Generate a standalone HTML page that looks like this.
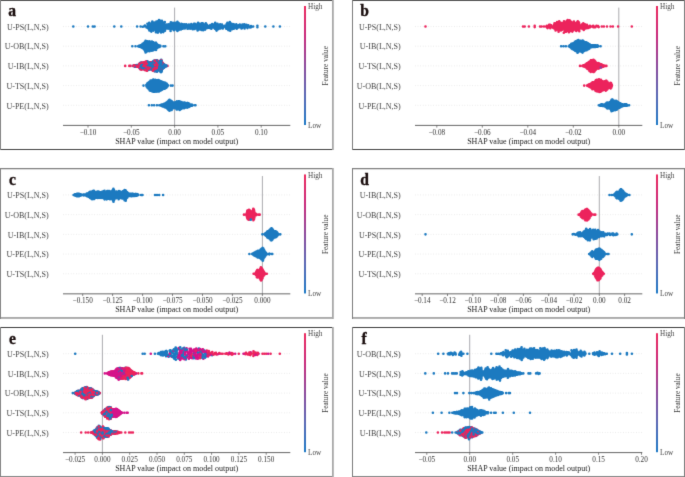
<!DOCTYPE html><html><head><meta charset="utf-8"><style>
html,body{margin:0;padding:0;background:#fff;}
svg{display:block;will-change:transform;}
text{font-family:"Liberation Serif",serif;}
.lt{font-weight:bold;font-size:16.6px;fill:#1a0e0e;stroke:#1a0e0e;stroke-width:0.35px;}
.rl{font-size:8px;fill:#444;text-anchor:end;}
.tk{font-size:7.2px;fill:#333;text-anchor:middle;}
.xl{font-size:8px;fill:#222;text-anchor:middle;}
.cl{font-size:7.2px;fill:#444;}
.fv{font-size:7.3px;fill:#333;text-anchor:middle;}
</style></head><body>
<svg width="685" height="477" viewBox="0 0 685 477">
<defs><linearGradient id="cb" x1="0" y1="0" x2="0" y2="1"><stop offset="0" stop-color="#ec2a5e"/><stop offset="0.25" stop-color="#c92a7c"/><stop offset="0.5" stop-color="#8c4a9c"/><stop offset="0.75" stop-color="#5a68b4"/><stop offset="1" stop-color="#1e7ac6"/></linearGradient><filter id="soft" filterUnits="userSpaceOnUse" x="0" y="0" width="685" height="477" color-interpolation-filters="sRGB"><feConvolveMatrix order="3" kernelMatrix="0.01 0.08 0.01 0.08 0.64 0.08 0.01 0.08 0.01" edgeMode="duplicate"/></filter></defs><g filter="url(#soft)">
<rect width="685" height="477" fill="#fff"/>
<g transform="translate(0,0)">
<g transform="translate(0,0)">
<text x="0" y="0" class="lt" transform="translate(8.3,16.4) scale(0.94,1)">a</text>
<line x1="63.0" x2="290.3" y1="26.5" y2="26.5" stroke="#d8d8d8" stroke-width="0.6" stroke-dasharray="0.8 1.8"/>
<line x1="63.0" x2="290.3" y1="46.2" y2="46.2" stroke="#d8d8d8" stroke-width="0.6" stroke-dasharray="0.8 1.8"/>
<line x1="63.0" x2="290.3" y1="65.9" y2="65.9" stroke="#d8d8d8" stroke-width="0.6" stroke-dasharray="0.8 1.8"/>
<line x1="63.0" x2="290.3" y1="85.6" y2="85.6" stroke="#d8d8d8" stroke-width="0.6" stroke-dasharray="0.8 1.8"/>
<line x1="63.0" x2="290.3" y1="105.3" y2="105.3" stroke="#d8d8d8" stroke-width="0.6" stroke-dasharray="0.8 1.8"/>
<line x1="174.6" x2="174.6" y1="7.6" y2="125.4" stroke="#a2a2a6" stroke-width="0.9"/>
<g stroke-width="2.6" stroke-linecap="round" fill="none"><path stroke="#1c7ac0" d="M147.9 24.8V28.1M149.9 23.7V29.5M152.0 22.5V30.6M154.1 23.5V29.6M156.1 22.6V31.3M158.2 21.0V31.6M160.3 21.6V31.4M162.3 21.8V31.1M164.4 23.0V29.7M166.5 25.6V27.5M168.5 25.4V27.6M170.6 23.2V30.0M172.7 23.9V28.5M174.7 23.9V29.3M176.8 22.7V29.9M178.9 24.0V29.0M180.9 24.8V28.5M183.0 25.4V27.7M185.1 25.3V27.5M187.1 25.3V27.7M189.2 25.5V27.5M191.3 25.0V27.6M193.3 24.8V28.2M195.4 24.7V28.0M197.4 23.9V29.4M199.5 24.6V28.4M201.6 24.4V28.9M203.6 24.3V29.3M205.7 24.3V28.6M207.8 25.9V26.9M209.8 26.0V26.9M211.9 25.0V27.8M214.0 25.3V27.7M216.0 23.8V29.6M218.1 24.7V28.3M220.2 25.4V27.5M222.2 25.6V27.4M226.4 25.0V27.7M228.4 23.7V29.1M230.5 23.1V29.7M232.6 25.1V28.1M234.6 25.2V27.8M236.7 25.4V27.8M240.8 25.5V27.4M242.9 25.6V27.2M245.0 25.4V27.5M247.0 25.7V27.1M144.5 26.1h0M142.8 26.8h0M143.7 26.5h0M144.9 25.5h0M146.6 27.5h0M145.8 26.5h0M147.4 23.8h0M148.8 29.1h0M149.2 22.7h0M149.4 30.5h0M152.3 21.5h0M151.3 31.6h0M154.4 22.5h0M153.4 30.6h0M156.4 21.6h0M155.9 32.3h0M159.0 20.0h0M157.9 32.6h0M159.9 20.6h0M161.0 32.4h0M161.9 20.8h0M163.3 32.1h0M164.8 22.0h0M165.0 30.7h0M166.7 24.6h0M166.5 28.5h0M168.5 24.4h0M168.4 28.6h0M170.9 22.2h0M170.6 31.0h0M173.0 22.9h0M173.3 29.5h0M175.1 22.9h0M173.9 30.3h0M177.4 21.7h0M177.4 30.9h0M178.7 23.0h0M178.7 30.0h0M181.3 23.8h0M180.9 29.5h0M182.7 24.4h0M182.6 28.7h0M184.3 24.3h0M184.8 28.5h0M186.3 24.3h0M187.5 28.7h0M188.9 24.5h0M188.8 28.5h0M191.3 24.0h0M190.7 28.6h0M194.0 23.8h0M192.8 29.2h0M194.9 23.7h0M194.7 29.0h0M198.1 22.9h0M197.6 30.4h0M199.1 23.6h0M199.1 29.4h0M201.6 23.4h0M201.4 29.9h0M202.7 23.3h0M203.2 30.3h0M205.8 23.3h0M205.1 29.6h0M207.1 24.9h0M207.7 27.9h0M210.3 25.0h0M209.8 27.9h0M212.2 24.0h0M211.3 28.8h0M214.1 24.3h0M214.9 28.7h0M215.2 22.8h0M216.6 30.6h0M217.5 23.7h0M218.2 29.3h0M220.2 24.4h0M220.4 28.5h0M222.0 24.6h0M222.8 28.4h0M224.6 25.9h0M225.3 27.2h0M224.3 26.5h0M226.7 24.0h0M226.3 28.7h0M227.4 22.7h0M228.3 30.1h0M229.8 22.1h0M230.2 30.7h0M232.8 24.1h0M232.4 29.1h0M233.8 24.2h0M233.8 28.8h0M236.3 24.4h0M236.7 28.8h0M238.5 25.3h0M238.6 27.5h0M238.8 26.5h0M239.8 24.5h0M241.5 28.4h0M242.4 24.6h0M241.9 28.2h0M244.3 24.4h0M244.6 28.5h0M246.4 24.7h0M247.5 28.1h0M248.3 25.3h0M250.1 27.5h0M249.1 26.5h0M251.0 26.0h0M251.3 27.1h0M251.2 26.5h0M253.2 26.5h0M73.3 26.5h0M88.0 26.5h0M92.8 26.5h0M94.6 26.5h0M114.3 26.5h0M121.3 26.5h0M137.1 26.5h0M140.6 26.5h0M257.4 25.7h0M257.4 27.3h0M265.3 26.5h0M273.4 26.5h0M279.9 26.5h0"/><path stroke="#1c7ac0" d="M141.8 45.7V46.7M142.1 45.5V46.8M142.4 45.2V46.9M142.8 44.9V47.3M143.1 44.8V47.5M143.4 44.8V47.6M143.8 44.4V47.9M144.1 44.0V48.5M144.4 43.7V48.9M144.8 43.1V49.0M145.1 42.8V50.1M145.4 42.4V50.4M145.8 41.8V51.4M146.1 42.4V49.9M146.4 42.0V50.6M146.8 42.4V50.6M147.1 42.7V49.5M147.4 42.9V49.8M147.8 42.8V50.1M148.1 43.0V49.4M148.4 42.8V49.1M148.7 42.8V49.4M149.1 42.8V50.0M149.4 42.8V50.2M149.7 42.8V49.5M150.1 43.0V48.9M150.4 42.9V48.7M150.7 43.1V49.4M151.1 42.8V49.5M151.4 43.0V49.6M151.7 42.5V49.8M152.1 43.0V49.0M152.4 43.0V49.4M152.7 43.1V49.2M153.1 43.4V49.3M153.4 43.9V49.1M153.7 44.3V48.3M154.1 44.6V47.7M154.4 44.3V48.1M154.7 44.2V48.2M155.1 44.3V48.0M155.4 43.8V48.4M155.7 44.0V48.1M156.1 43.9V48.9M156.4 44.7V47.7M156.7 45.0V47.5M157.0 45.3V46.9M157.4 45.7V46.6M157.7 45.9V46.3M135.5 46.2h0M138.1 46.2h0M138.9 45.9h0M138.7 46.5h0M138.8 46.2h0M139.2 45.7h0M139.1 46.7h0M139.1 46.2h0M139.5 45.6h0M139.3 46.8h0M139.5 46.2h0M139.7 45.6h0M139.6 46.8h0M139.8 46.2h0M140.0 45.5h0M140.3 46.8h0M140.1 46.2h0M140.4 45.4h0M140.5 47.0h0M140.4 46.2h0M140.6 45.4h0M140.7 47.0h0M140.8 46.2h0M141.2 45.2h0M141.0 47.2h0M141.1 46.2h0M141.5 45.0h0M141.5 47.4h0M141.4 46.2h0M141.8 44.7h0M141.9 47.7h0M142.0 44.5h0M142.2 47.8h0M142.4 44.2h0M142.4 47.9h0M142.7 43.9h0M142.8 48.3h0M143.1 43.8h0M143.1 48.5h0M143.3 43.8h0M143.3 48.6h0M143.8 43.4h0M143.9 48.9h0M144.2 43.0h0M144.2 49.5h0M144.3 42.7h0M144.5 49.9h0M144.9 42.1h0M144.7 50.0h0M145.2 41.8h0M145.1 51.1h0M145.5 41.4h0M145.6 51.4h0M145.6 40.8h0M145.6 52.4h0M146.1 41.4h0M146.0 50.9h0M146.5 41.0h0M146.3 51.6h0M146.6 41.4h0M146.6 51.6h0M147.1 41.7h0M147.0 50.5h0M147.3 41.9h0M147.3 50.8h0M147.7 41.8h0M147.6 51.1h0M148.1 42.0h0M148.0 50.4h0M148.3 41.8h0M148.5 50.1h0M148.6 41.8h0M148.7 50.4h0M149.2 41.8h0M148.9 51.0h0M149.5 41.8h0M149.5 51.2h0M149.6 41.8h0M149.7 50.5h0M150.2 42.0h0M150.0 49.9h0M150.3 41.9h0M150.5 49.7h0M150.7 42.1h0M150.8 50.4h0M151.2 41.8h0M151.0 50.5h0M151.5 42.0h0M151.5 50.6h0M151.9 41.5h0M151.8 50.8h0M152.1 42.0h0M152.0 50.0h0M152.4 42.0h0M152.6 50.4h0M152.9 42.1h0M152.8 50.2h0M153.2 42.4h0M153.0 50.3h0M153.5 42.9h0M153.6 50.1h0M153.7 43.3h0M153.8 49.3h0M154.2 43.6h0M154.0 48.7h0M154.5 43.3h0M154.5 49.1h0M154.7 43.2h0M154.8 49.2h0M155.2 43.3h0M155.0 49.0h0M155.5 42.8h0M155.3 49.4h0M155.7 43.0h0M155.6 49.1h0M156.1 42.9h0M156.0 49.9h0M156.3 43.7h0M156.4 48.7h0M156.7 44.0h0M156.8 48.5h0M157.0 44.3h0M157.1 47.9h0M157.5 44.7h0M157.3 47.6h0M157.6 44.9h0M157.6 47.3h0M158.0 45.0h0M158.0 47.4h0M158.0 46.2h0M158.3 45.2h0M158.3 47.2h0M158.4 46.2h0M158.6 45.4h0M158.7 47.0h0M158.7 46.2h0M159.0 45.5h0M159.1 46.9h0M159.0 46.2h0M159.5 45.5h0M159.4 46.8h0M159.4 46.2h0M159.8 45.6h0M159.6 46.9h0M159.7 46.2h0M160.1 45.8h0M159.9 46.7h0M160.0 46.2h0M160.4 45.9h0M160.2 46.5h0M160.4 46.2h0M163.4 46.2h0M165.3 46.2h0M132.3 46.2h0"/><path stroke="#1c7ac0" d="M165.0 66.8h0M161.7 69.8h0M148.8 63.2h0M135.7 66.5h0M161.3 68.0h0M165.3 65.9h0M156.1 63.1h0M153.0 61.7h0M145.0 64.0h0M159.9 66.9h0M150.4 62.6h0M145.6 67.0h0M160.4 63.9h0M164.2 65.9h0M161.2 69.1h0M152.5 63.8h0M154.2 67.0h0M161.5 71.8h0M152.0 69.5h0M160.0 62.8h0M152.5 67.8h0M152.3 66.8h0M159.0 67.8h0M164.8 65.9h0M160.5 62.8h0M147.0 67.8h0M155.6 66.9h0M158.3 69.9h0M161.7 64.9h0M161.2 59.9h0"/><path stroke="#ec235c" d="M134.7 66.6h0M136.0 66.5h0M154.1 63.9h0M157.1 66.8h0M160.6 67.9h0M147.1 64.1h0M142.2 63.2h0M157.6 64.9h0M167.5 65.9h0M156.5 63.8h0M145.9 65.9h0M155.7 62.7h0M144.4 68.6h0M144.4 65.9h0M152.5 65.9h0M142.4 63.9h0M148.1 63.9h0M141.7 63.9h0M152.0 68.1h0M146.0 66.9h0M152.2 65.0h0M143.9 63.6h0M137.9 65.2h0M138.1 65.1h0M153.1 65.9h0M144.9 65.9h0"/><path stroke="#ec235c" d="M136.6 65.3h0M150.5 69.2h0M152.8 68.8h0M148.8 65.0h0M149.2 69.0h0M143.0 68.2h0M144.5 65.0h0M156.7 62.6h0M143.0 64.8h0M156.9 64.8h0M146.3 68.2h0M160.0 65.9h0M150.3 66.9h0M153.9 61.8h0M134.8 65.9h0M151.2 65.9h0M143.8 62.5h0M145.2 67.8h0M153.5 67.9h0M152.0 65.9h0M144.4 67.7h0M146.9 62.7h0M143.6 68.8h0M139.4 66.7h0M142.8 69.3h0M130.6 65.9h0M158.0 69.6h0"/><path stroke="#1c7ac0" d="M158.1 68.6h0M139.9 67.6h0M156.7 63.7h0M158.0 61.6h0M147.4 62.7h0M151.2 62.7h0M158.1 64.8h0M160.0 70.0h0M133.1 65.9h0M142.7 63.7h0M161.7 70.8h0M159.2 63.6h0M156.3 67.0h0M157.8 70.5h0M164.6 65.9h0M157.8 67.8h0M157.1 63.9h0M161.1 64.9h0M146.0 67.9h0M152.8 66.9h0M150.3 63.7h0M157.1 61.9h0M160.7 61.8h0M155.1 69.3h0M161.8 70.2h0M135.8 65.2h0M156.6 71.4h0M148.4 65.9h0M158.2 66.8h0"/><path stroke="#ec235c" d="M146.8 68.1h0M134.5 65.9h0M152.6 64.9h0M143.9 64.8h0M140.5 64.8h0M151.8 62.6h0M136.6 65.9h0M158.3 67.7h0M151.9 67.0h0M145.6 64.9h0M158.1 65.9h0M137.3 66.6h0M156.0 68.8h0M155.7 65.9h0M160.3 70.3h0M137.5 65.2h0M141.3 69.6h0M143.5 63.9h0M153.0 66.8h0M150.8 67.0h0M155.4 68.0h0M146.5 65.9h0M154.3 64.8h0M154.5 64.9h0"/><path stroke="#1c7ac0" d="M135.9 65.9h0M146.8 64.8h0M147.6 69.8h0M158.9 66.9h0M136.6 66.6h0M161.2 62.9h0M160.6 66.9h0M157.7 62.8h0M140.9 63.9h0M148.5 67.0h0M149.5 64.8h0M147.3 66.9h0M157.6 61.8h0M160.3 67.0h0M160.9 69.9h0M161.6 64.9h0M162.3 64.8h0M148.6 64.8h0M140.7 66.9h0M141.9 65.0h0M140.7 68.9h0M159.3 65.9h0M156.9 69.0h0M157.5 68.7h0M156.3 68.1h0M155.4 70.0h0M156.5 61.7h0M163.4 65.9h0M161.5 65.9h0M155.8 64.0h0M148.6 65.9h0M142.1 67.1h0"/><path stroke="#ec235c" d="M146.4 65.9h0M138.3 65.9h0M142.2 65.9h0M145.4 68.1h0M154.9 71.1h0M144.1 62.5h0M145.3 62.0h0M151.6 64.8h0M161.4 62.1h0M154.5 62.7h0M147.2 69.8h0M141.7 66.8h0M164.9 65.1h0M151.3 67.0h0M143.0 65.9h0M147.1 65.0h0M151.5 64.8h0M145.1 64.9h0M147.0 65.9h0M135.0 65.2h0M147.8 69.1h0M140.2 67.0h0M160.5 61.9h0M147.1 68.8h0M141.8 68.7h0"/><path stroke="#1c7ac0" d="M154.7 65.9h0M156.1 62.1h0M149.4 65.9h0M148.9 67.8h0M155.3 70.4h0M160.6 68.9h0M161.9 61.8h0M140.5 67.9h0M161.3 60.9h0M146.0 69.8h0M153.7 62.9h0M165.9 66.4h0M162.0 68.0h0M156.7 65.9h0M163.1 63.9h0M154.4 60.6h0M158.5 68.9h0M158.9 69.8h0M149.1 63.7h0M165.2 65.2h0M159.7 63.8h0M145.2 69.2h0M154.6 66.9h0M148.1 65.9h0M158.1 62.7h0M155.9 66.9h0M165.1 66.6h0M156.0 70.7h0M141.0 67.8h0M154.4 63.8h0M153.0 63.8h0"/><path stroke="#ec235c" d="M147.8 67.0h0M146.0 68.8h0M143.4 68.0h0M145.1 63.0h0M153.0 68.7h0M151.9 63.7h0M161.3 60.2h0M137.2 65.9h0M139.0 65.9h0M161.6 64.0h0M125.2 65.9h0M134.0 65.9h0M158.5 65.9h0M139.8 68.4h0M152.0 62.2h0M147.1 63.2h0M153.3 69.9h0M141.5 65.9h0M147.3 62.3h0M153.8 68.7h0M142.2 64.9h0M141.2 63.7h0M148.2 68.2h0M151.1 68.1h0M162.0 62.8h0M149.0 66.8h0M146.4 64.0h0"/><path stroke="#1c7ac0" d="M162.5 68.9h0M156.3 60.6h0M153.2 67.8h0M138.7 64.7h0M160.3 64.9h0M149.9 62.3h0M143.9 64.8h0M157.2 69.7h0M156.2 70.3h0M157.4 60.9h0M155.2 65.9h0M145.9 63.9h0M159.7 61.7h0M145.5 62.9h0M149.1 66.9h0M160.8 71.9h0M143.7 66.9h0M135.1 66.6h0M162.6 67.9h0M155.9 65.9h0M156.2 61.2h0M160.9 72.3h0M159.3 63.0h0M153.6 68.9h0M161.2 65.9h0M154.8 62.8h0M157.4 65.9h0M157.2 70.6h0M161.4 67.9h0"/><path stroke="#1c7ac0" d="M153.1 64.9h0M158.7 62.2h0M160.2 65.9h0M159.0 68.8h0M155.5 60.6h0M158.6 64.0h0M149.5 65.9h0M162.7 67.1h0M137.6 65.9h0M150.3 67.0h0M147.2 66.9h0M162.6 64.7h0M164.1 67.7h0M158.6 66.9h0M147.9 70.1h0M161.8 65.9h0M146.2 63.0h0M147.0 61.4h0M151.3 68.1h0M162.4 63.7h0M157.0 60.4h0M156.2 65.9h0M144.6 66.8h0M149.8 63.8h0M157.9 69.6h0M161.2 63.9h0"/><path stroke="#ec235c" d="M155.0 67.0h0M147.9 68.0h0M149.1 64.8h0M145.2 68.7h0M141.6 67.8h0M140.0 66.7h0M163.7 64.0h0M156.7 71.1h0M155.0 61.8h0M145.1 62.0h0M153.9 64.9h0M144.1 63.6h0M164.3 67.0h0M161.1 67.0h0M154.9 69.0h0M163.5 65.0h0M139.6 64.1h0M140.3 68.1h0M139.0 67.0h0M150.0 68.0h0M153.8 65.9h0M142.3 62.9h0M148.5 63.6h0M149.5 69.1h0M149.6 62.7h0M143.4 69.0h0M153.3 64.9h0M152.0 68.6h0M139.8 65.0h0M143.1 62.9h0"/><path stroke="#1c7ac0" d="M163.3 67.0h0M160.9 63.8h0M159.3 64.9h0M140.9 65.9h0M153.5 62.0h0M140.1 63.8h0M156.1 65.0h0M159.7 64.9h0M163.5 67.7h0M159.8 68.0h0M155.9 69.8h0M161.8 69.1h0M150.9 65.9h0M154.5 71.2h0M147.3 61.7h0M153.4 64.0h0M155.1 63.8h0M158.5 65.0h0M161.2 70.2h0M156.9 70.1h0M162.1 67.0h0M140.1 65.9h0M163.0 65.9h0M153.9 69.6h0M160.8 64.9h0M159.1 62.4h0M151.4 63.7h0M158.5 63.1h0M163.3 64.9h0M164.6 64.8h0M149.3 68.0h0M156.7 66.9h0M159.5 70.2h0M152.7 61.7h0"/><path stroke="#ec235c" d="M146.8 70.3h0M161.4 68.9h0M154.3 68.0h0M148.6 69.3h0M144.7 62.3h0M155.2 60.7h0M153.5 66.9h0M144.1 69.2h0M142.6 65.9h0M142.3 66.9h0M143.6 65.9h0M152.2 64.0h0M145.3 70.3h0M139.5 65.9h0M139.7 63.3h0M140.9 62.9h0M142.7 67.0h0M154.5 69.1h0M162.4 65.9h0M148.9 62.3h0M151.1 62.4h0M160.8 60.7h0"/><path stroke="#1c7ac0" d="M152.3 63.1h0M153.8 66.8h0M160.7 70.9h0M136.2 65.2h0M141.2 68.7h0M152.3 67.7h0M163.2 65.9h0M155.9 67.8h0M160.3 68.1h0M159.5 68.0h0M141.5 64.9h0M161.7 61.1h0M141.1 64.8h0M162.0 63.8h0M143.2 66.9h0M154.1 70.1h0M150.0 69.0h0M144.1 67.0h0M160.4 71.4h0M141.4 62.6h0M144.7 69.5h0M157.8 66.8h0M159.4 62.1h0M157.9 63.9h0M143.7 67.9h0M146.3 69.3h0M140.5 62.7h0M154.6 61.8h0M144.9 66.8h0M162.2 66.9h0M162.9 68.3h0"/><path stroke="#ec235c" d="M147.6 67.8h0M140.1 64.1h0M150.9 64.7h0M160.0 69.0h0M140.2 65.9h0M147.5 64.8h0M153.2 62.8h0M154.4 61.7h0M143.4 64.9h0M150.3 64.8h0M139.1 64.7h0M138.7 65.9h0M137.6 66.7h0M150.4 65.9h0M162.2 62.6h0M154.2 65.9h0M157.6 60.8h0M152.8 70.7h0M153.6 63.0h0M144.5 64.1h0M144.7 63.2h0M140.7 64.9h0M152.5 69.7h0M137.0 66.7h0M135.6 65.9h0"/><path stroke="#ec235c" d="M139.5 65.0h0M141.4 66.8h0M157.5 67.8h0M159.4 67.0h0M162.9 63.4h0M149.0 64.1h0M149.7 67.0h0M142.3 69.0h0M157.6 65.9h0M147.7 65.9h0M143.4 65.9h0M145.3 64.9h0M140.3 69.2h0M146.6 61.6h0M129.3 65.9h0M155.6 64.8h0M133.4 65.9h0M150.4 68.1h0M138.4 66.7h0M159.6 69.1h0M154.6 70.1h0M142.2 68.2h0M151.1 69.2h0"/><path stroke="#1c7ac0" d="M163.3 68.0h0M150.1 65.9h0M165.6 65.4h0M157.9 68.7h0M160.6 65.9h0M146.3 62.0h0M155.3 62.8h0M146.5 67.0h0M150.9 69.1h0M153.8 67.7h0M153.6 61.0h0M141.0 65.9h0M149.0 62.6h0M163.6 66.8h0M160.4 69.2h0M145.7 62.8h0M144.2 68.1h0M156.8 61.5h0M155.7 71.1h0M159.6 64.0h0M148.4 62.5h0M150.3 65.0h0M151.8 69.3h0M152.4 62.8h0M155.2 68.1h0M148.0 64.9h0M155.5 61.6h0M142.3 68.0h0M156.5 69.2h0M155.7 63.8h0M139.4 67.6h0M161.0 71.3h0M152.3 65.9h0"/><path stroke="#1c7ac0" d="M150.2 64.1h0M135.0 65.2h0M157.4 62.9h0M150.2 63.2h0M154.9 63.9h0M161.5 63.0h0M158.7 67.9h0M159.1 64.7h0M153.5 65.9h0M142.0 64.1h0M164.1 66.8h0M146.2 64.9h0M158.3 63.8h0M160.1 62.9h0M165.6 65.9h0M151.0 63.6h0M148.0 61.9h0M166.0 65.9h0M166.5 65.9h0M160.2 60.9h0M136.9 65.1h0M163.9 64.5h0M148.2 62.9h0M156.4 64.8h0M161.0 61.9h0M148.9 69.6h0M147.4 63.8h0M146.5 69.2h0M161.4 66.9h0M135.3 65.9h0M157.2 71.6h0M159.1 65.9h0"/><path stroke="#ec235c" d="M154.7 68.0h0M145.9 61.8h0M147.7 68.8h0M149.6 68.0h0M144.1 65.9h0M136.9 65.9h0M156.8 68.0h0M141.4 62.8h0M146.8 63.7h0M145.3 65.9h0M157.4 64.9h0M143.1 62.6h0M153.1 69.6h0M138.5 67.1h0M156.4 62.7h0M155.4 69.0h0M155.0 64.9h0M148.8 68.7h0M145.5 63.9h0M146.3 67.0h0M134.4 65.4h0M154.7 60.8h0M147.0 70.8h0M145.0 69.7h0"/><path stroke="#1c7ac0" d="M147.1 85.2V85.9M147.4 84.9V86.0M147.6 84.4V86.8M147.9 84.2V87.2M148.2 83.9V87.3M148.5 83.7V87.8M148.8 83.6V88.1M149.1 83.2V87.9M149.4 83.0V88.1M149.7 82.6V89.4M150.0 82.5V88.7M150.3 82.2V89.7M150.6 81.6V89.7M150.9 82.1V89.4M151.2 82.0V89.1M151.5 81.7V89.4M151.8 81.5V89.9M152.0 81.8V88.9M152.3 81.1V90.4M152.6 81.4V90.5M152.9 80.9V90.5M153.2 80.9V90.6M153.5 80.9V90.5M153.8 81.0V89.6M154.1 81.0V90.7M154.4 81.5V89.4M154.7 81.0V90.2M155.0 81.0V90.4M155.3 80.9V90.6M155.6 81.2V89.2M155.9 81.0V90.5M156.1 81.3V89.8M156.4 81.2V90.6M156.7 82.0V89.0M157.0 81.2V90.1M157.3 81.8V89.9M157.6 81.4V90.0M157.9 81.4V89.9M158.2 81.1V90.4M158.5 81.5V89.3M158.8 81.6V90.0M159.1 81.3V90.5M159.4 81.8V89.9M159.7 81.8V89.3M160.0 82.1V89.5M160.2 82.0V89.2M160.5 82.0V89.1M160.8 82.3V89.5M161.1 82.2V88.9M161.4 82.8V88.5M161.7 82.9V88.8M162.0 83.0V88.4M162.3 83.0V88.6M162.6 83.0V87.8M162.9 83.4V87.8M163.2 83.4V87.3M163.5 83.5V87.7M163.8 83.7V87.2M164.1 83.6V87.0M164.3 83.8V87.3M164.6 83.6V87.4M164.9 83.9V87.6M165.2 83.8V87.5M165.5 84.3V86.8M165.8 84.3V86.7M166.1 84.5V86.8M166.4 84.6V86.8M166.7 84.9V86.3M167.0 85.3V86.0M143.5 85.6h0M146.3 85.0h0M146.5 86.2h0M146.5 85.6h0M146.8 84.6h0M146.8 86.7h0M146.8 85.6h0M147.2 84.2h0M146.9 86.9h0M147.2 83.9h0M147.3 87.0h0M147.5 83.4h0M147.5 87.8h0M148.0 83.2h0M148.1 88.2h0M148.1 82.9h0M148.3 88.3h0M148.7 82.7h0M148.6 88.8h0M148.9 82.6h0M148.7 89.1h0M149.1 82.2h0M149.2 88.9h0M149.3 82.0h0M149.5 89.1h0M149.8 81.6h0M149.8 90.4h0M149.9 81.5h0M149.9 89.7h0M150.3 81.2h0M150.4 90.7h0M150.6 80.6h0M150.6 90.7h0M150.8 81.1h0M150.8 90.4h0M151.1 81.0h0M151.2 90.1h0M151.4 80.7h0M151.5 90.4h0M151.7 80.5h0M151.9 90.9h0M152.1 80.8h0M152.1 89.9h0M152.5 80.1h0M152.3 91.4h0M152.7 80.4h0M152.8 91.5h0M153.0 79.9h0M153.0 91.5h0M153.2 79.9h0M153.1 91.6h0M153.5 79.9h0M153.4 91.5h0M153.8 80.0h0M153.8 90.6h0M154.2 80.0h0M154.2 91.7h0M154.4 80.5h0M154.5 90.4h0M154.6 80.0h0M154.7 91.2h0M155.0 80.0h0M154.9 91.4h0M155.2 79.9h0M155.3 91.6h0M155.6 80.2h0M155.6 90.2h0M156.0 80.0h0M155.8 91.5h0M156.0 80.3h0M156.2 90.8h0M156.4 80.2h0M156.5 91.6h0M156.9 81.0h0M156.8 90.0h0M157.0 80.2h0M156.9 91.1h0M157.4 80.8h0M157.4 90.9h0M157.7 80.4h0M157.6 91.0h0M158.0 80.4h0M157.9 90.9h0M158.3 80.1h0M158.2 91.4h0M158.6 80.5h0M158.5 90.3h0M158.7 80.6h0M158.7 91.0h0M159.0 80.3h0M159.0 91.5h0M159.4 80.8h0M159.5 90.9h0M159.8 80.8h0M159.5 90.3h0M160.0 81.1h0M159.8 90.5h0M160.3 81.0h0M160.2 90.2h0M160.4 81.0h0M160.6 90.1h0M160.7 81.3h0M160.8 90.5h0M161.1 81.2h0M161.3 89.9h0M161.5 81.8h0M161.4 89.5h0M161.6 81.9h0M161.7 89.8h0M162.1 82.0h0M162.0 89.4h0M162.2 82.0h0M162.3 89.6h0M162.7 82.0h0M162.6 88.8h0M162.9 82.4h0M162.7 88.8h0M163.2 82.4h0M163.1 88.3h0M163.5 82.5h0M163.5 88.7h0M163.7 82.7h0M163.9 88.2h0M164.1 82.6h0M164.2 88.0h0M164.3 82.8h0M164.2 88.3h0M164.7 82.6h0M164.8 88.4h0M165.0 82.9h0M164.8 88.6h0M165.3 82.8h0M165.1 88.5h0M165.5 83.3h0M165.4 87.8h0M165.8 83.3h0M165.9 87.7h0M166.2 83.5h0M166.2 87.8h0M166.4 83.6h0M166.5 87.8h0M166.7 83.9h0M166.7 87.3h0M167.0 84.3h0M167.0 87.0h0M167.2 84.7h0M167.2 86.5h0M167.3 85.6h0M167.7 85.0h0M167.6 86.2h0M167.6 85.6h0M167.9 85.6h0M170.8 85.6h0M172.6 85.6h0"/><path stroke="#1c7ac0" d="M163.5 105.1V105.5M164.0 105.0V105.8M164.4 104.7V106.1M164.9 104.7V106.0M165.4 104.2V106.3M165.9 104.1V106.6M166.3 103.9V106.6M166.8 103.4V107.1M167.3 103.2V107.1M167.7 102.8V108.0M168.2 102.3V107.5M168.7 101.2V109.0M169.1 101.7V109.0M169.6 100.9V109.8M170.1 102.1V108.4M170.6 102.3V108.6M171.0 101.8V108.2M171.5 102.3V108.9M172.0 102.2V108.4M172.4 103.0V107.8M172.9 104.0V107.0M173.4 104.6V106.0M173.8 104.4V106.1M174.3 104.3V106.4M174.8 103.6V107.0M175.3 103.3V107.2M175.7 103.5V107.1M176.2 103.3V106.8M176.7 102.5V108.4M177.1 102.6V108.4M177.6 102.7V108.0M178.1 102.8V108.0M178.5 102.4V107.8M179.0 102.6V107.9M179.5 102.2V108.9M180.0 102.8V107.8M180.4 103.0V108.0M180.9 103.1V107.9M181.4 103.1V107.5M181.8 103.5V107.3M182.3 104.0V106.7M182.8 103.8V107.1M183.2 104.0V106.4M183.7 103.7V107.1M184.2 103.6V107.2M184.7 103.8V106.8M185.1 103.8V106.6M185.6 104.2V106.3M186.1 104.4V106.2M186.5 104.3V106.2M187.0 104.0V106.5M187.5 104.0V106.6M187.9 104.3V106.1M188.4 104.5V106.0M188.9 104.6V105.9M189.4 104.9V105.8M148.9 105.3h0M151.8 105.3h0M154.1 105.3h0M156.9 105.3h0M159.3 105.3h0M161.1 104.8h0M161.2 105.8h0M161.2 105.3h0M161.6 104.7h0M161.7 105.9h0M161.6 105.3h0M162.1 104.6h0M162.3 106.0h0M162.1 105.3h0M162.7 104.4h0M162.8 106.4h0M162.6 105.3h0M163.1 104.2h0M163.0 106.3h0M163.0 105.3h0M163.6 104.1h0M163.3 106.5h0M163.9 104.0h0M164.0 106.8h0M164.6 103.7h0M164.4 107.1h0M164.8 103.7h0M164.8 107.0h0M165.3 103.2h0M165.5 107.3h0M166.1 103.1h0M165.9 107.6h0M166.4 102.9h0M166.2 107.6h0M166.7 102.4h0M166.8 108.1h0M167.4 102.2h0M167.2 108.1h0M167.5 101.8h0M167.6 109.0h0M168.1 101.3h0M168.4 108.5h0M168.9 100.2h0M168.5 110.0h0M169.3 100.7h0M169.0 110.0h0M169.5 99.9h0M169.5 110.8h0M170.1 101.1h0M170.3 109.4h0M170.4 101.3h0M170.5 109.6h0M171.0 100.8h0M171.2 109.2h0M171.3 101.3h0M171.7 109.9h0M171.8 101.2h0M171.9 109.4h0M172.6 102.0h0M172.3 108.8h0M172.8 103.0h0M173.1 108.0h0M173.4 103.6h0M173.3 107.0h0M173.8 103.4h0M173.8 107.1h0M174.3 103.3h0M174.2 107.4h0M174.8 102.6h0M174.8 108.0h0M175.2 102.3h0M175.4 108.2h0M175.9 102.5h0M175.8 108.1h0M176.2 102.3h0M176.1 107.8h0M176.7 101.5h0M176.7 109.4h0M176.9 101.6h0M177.0 109.4h0M177.7 101.7h0M177.8 109.0h0M178.3 101.8h0M178.2 109.0h0M178.4 101.4h0M178.4 108.8h0M179.2 101.6h0M179.2 108.9h0M179.5 101.2h0M179.7 109.9h0M180.0 101.8h0M180.1 108.8h0M180.6 102.0h0M180.4 109.0h0M180.8 102.1h0M181.1 108.9h0M181.6 102.1h0M181.6 108.5h0M181.8 102.5h0M181.9 108.3h0M182.4 103.0h0M182.4 107.7h0M182.6 102.8h0M182.6 108.1h0M183.1 103.0h0M183.0 107.4h0M183.9 102.7h0M183.6 108.1h0M184.0 102.6h0M184.1 108.2h0M184.7 102.8h0M184.9 107.8h0M185.1 102.8h0M184.9 107.6h0M185.8 103.2h0M185.4 107.3h0M185.9 103.4h0M185.9 107.2h0M186.4 103.3h0M186.7 107.2h0M187.1 103.0h0M186.8 107.5h0M187.7 103.0h0M187.3 107.6h0M187.7 103.3h0M188.2 107.1h0M188.5 103.5h0M188.3 107.0h0M188.9 103.6h0M188.9 106.9h0M189.2 103.9h0M189.4 106.8h0M189.7 104.3h0M189.6 106.2h0M189.8 105.3h0M190.5 104.5h0M190.1 106.1h0M190.3 105.3h0M190.7 104.8h0M191.0 105.8h0M190.8 105.3h0M191.4 104.9h0M191.2 105.3h0M191.9 104.9h0M191.7 105.6h0M191.7 105.3h0M192.0 104.9h0M192.1 105.7h0M192.2 105.3h0M192.5 105.0h0M192.6 105.3h0M195.0 105.3h0M195.5 105.3h0"/></g>
<line x1="63.0" x2="290.3" y1="125.4" y2="125.4" stroke="#555" stroke-width="0.9"/>
<line x1="88.0" x2="88.0" y1="125.4" y2="127.60000000000001" stroke="#555" stroke-width="0.7"/>
<text x="88.0" y="134.5" class="tk">−0.10</text>
<line x1="131.3" x2="131.3" y1="125.4" y2="127.60000000000001" stroke="#555" stroke-width="0.7"/>
<text x="131.3" y="134.5" class="tk">−0.05</text>
<line x1="174.6" x2="174.6" y1="125.4" y2="127.60000000000001" stroke="#555" stroke-width="0.7"/>
<text x="174.6" y="134.5" class="tk">0.00</text>
<line x1="217.9" x2="217.9" y1="125.4" y2="127.60000000000001" stroke="#555" stroke-width="0.7"/>
<text x="217.9" y="134.5" class="tk">0.05</text>
<line x1="261.2" x2="261.2" y1="125.4" y2="127.60000000000001" stroke="#555" stroke-width="0.7"/>
<text x="261.2" y="134.5" class="tk">0.10</text>
<text x="176.7" y="144" class="xl">SHAP value (impact on model output)</text>
<text x="48.7" y="29.7" class="rl">U-PS(L,N,S)</text>
<text x="48.7" y="49.4" class="rl">U-OB(L,N,S)</text>
<text x="48.7" y="69.1" class="rl">U-IB(L,N,S)</text>
<text x="48.7" y="88.8" class="rl">U-TS(L,N,S)</text>
<text x="48.7" y="108.5" class="rl">U-PE(L,N,S)</text>
<rect x="304" y="6" width="2" height="119" fill="url(#cb)"/>
<text x="308" y="9.3" class="cl">High</text>
<text x="308" y="128" class="cl">Low</text>
<text transform="translate(327.5,65.8) rotate(-90)" class="fv">Feature value</text>
</g></g>
<g transform="translate(352,0)">
<g transform="translate(0,0)">
<text x="0" y="0" class="lt" transform="translate(8.3,16.4) scale(0.94,1)">b</text>
<line x1="63.0" x2="290.3" y1="26.5" y2="26.5" stroke="#d8d8d8" stroke-width="0.6" stroke-dasharray="0.8 1.8"/>
<line x1="63.0" x2="290.3" y1="46.2" y2="46.2" stroke="#d8d8d8" stroke-width="0.6" stroke-dasharray="0.8 1.8"/>
<line x1="63.0" x2="290.3" y1="65.9" y2="65.9" stroke="#d8d8d8" stroke-width="0.6" stroke-dasharray="0.8 1.8"/>
<line x1="63.0" x2="290.3" y1="85.6" y2="85.6" stroke="#d8d8d8" stroke-width="0.6" stroke-dasharray="0.8 1.8"/>
<line x1="63.0" x2="290.3" y1="105.3" y2="105.3" stroke="#d8d8d8" stroke-width="0.6" stroke-dasharray="0.8 1.8"/>
<line x1="266.8" x2="266.8" y1="7.6" y2="125.4" stroke="#a2a2a6" stroke-width="0.9"/>
<g stroke-width="2.6" stroke-linecap="round" fill="none"><path stroke="#ec235c" d="M196.2 25.9V27.1M198.2 25.7V27.3M200.3 26.2V26.9M202.3 24.4V28.4M204.4 23.1V29.5M206.5 22.4V30.7M208.5 23.7V29.5M210.6 24.0V28.7M212.7 22.2V31.8M214.7 21.0V30.7M216.8 21.4V31.2M218.9 22.8V30.3M220.9 22.5V30.6M223.0 23.1V29.4M225.0 22.4V29.9M227.1 23.1V30.2M229.2 25.3V27.5M231.2 24.3V29.0M233.3 25.4V27.4M235.4 25.9V27.1M192.0 26.5h0M194.9 25.7h0M195.0 27.4h0M194.1 26.5h0M197.1 24.9h0M195.6 28.1h0M198.0 24.7h0M198.3 28.3h0M199.3 25.2h0M201.3 27.9h0M202.5 23.4h0M203.4 29.4h0M205.1 22.1h0M203.6 30.5h0M207.2 21.4h0M206.6 31.7h0M208.6 22.7h0M208.9 30.5h0M210.2 23.0h0M210.1 29.7h0M212.0 21.2h0M211.8 32.8h0M215.6 20.0h0M214.1 31.7h0M217.6 20.4h0M216.9 32.2h0M219.1 21.8h0M217.9 31.3h0M221.9 21.5h0M220.3 31.6h0M222.1 22.1h0M223.7 30.4h0M225.8 21.4h0M224.4 30.9h0M226.6 22.1h0M227.3 31.2h0M230.1 24.3h0M229.5 28.5h0M231.3 23.3h0M231.7 30.0h0M232.9 24.4h0M233.7 28.4h0M234.9 24.9h0M235.9 28.1h0M237.9 25.7h0M237.7 27.4h0M237.4 26.5h0M240.2 26.2h0M239.5 26.5h0M241.2 25.7h0M241.4 27.3h0M241.5 26.5h0M244.5 25.7h0M243.3 27.3h0M243.6 26.5h0M246.1 26.0h0M246.7 27.1h0M245.7 26.5h0M249.8 26.5h0M251.9 26.5h0M255.0 26.5h0M73.5 26.5h0M171.0 26.5h0M172.7 26.5h0M176.9 26.5h0M182.7 25.9h0M182.7 27.1h0M188.0 26.5h0M189.6 26.5h0M258.5 26.5h0M260.9 26.5h0M266.1 26.5h0M279.8 26.5h0"/><path stroke="#1c7ac0" d="M218.7 46.0V46.4M219.1 45.2V47.0M219.5 44.9V47.5M219.9 44.7V47.7M220.3 44.6V48.0M220.7 44.4V48.1M221.1 44.5V47.9M221.5 44.3V48.6M221.9 44.0V48.4M222.3 44.0V48.5M222.7 43.1V49.2M223.1 42.7V49.8M223.5 42.7V49.1M223.9 42.2V49.9M224.3 42.3V50.2M224.7 42.3V50.0M225.1 42.0V50.1M225.5 41.3V51.7M225.9 41.3V51.2M226.3 41.1V51.3M226.7 41.9V50.5M227.1 42.8V49.0M227.5 42.7V49.7M227.9 42.1V49.8M228.3 42.8V48.9M228.7 41.7V50.4M229.0 42.4V50.2M229.4 42.2V49.5M229.8 42.2V50.2M230.2 41.8V51.3M230.6 41.6V51.6M231.0 42.0V49.8M231.4 42.5V49.3M231.8 42.5V50.1M232.2 43.4V49.4M232.6 43.1V49.6M233.0 43.1V49.4M233.4 43.5V48.5M233.8 43.5V48.8M234.2 43.4V49.2M234.6 43.6V49.2M235.0 43.7V48.6M235.4 44.0V48.5M235.8 44.2V48.1M236.2 44.4V48.3M236.6 44.9V47.5M237.0 45.1V47.7M237.4 45.4V47.2M237.8 45.5V46.8M209.1 46.2h0M211.5 46.2h0M213.9 46.2h0M216.7 46.2h0M217.5 45.8h0M217.3 46.6h0M217.5 46.2h0M217.7 45.4h0M218.0 47.0h0M217.9 46.2h0M218.2 45.1h0M218.4 47.1h0M218.3 46.2h0M218.5 45.0h0M218.8 47.4h0M219.1 44.2h0M219.2 48.0h0M219.3 43.9h0M219.5 48.5h0M220.0 43.7h0M219.9 48.7h0M220.1 43.6h0M220.1 49.0h0M220.8 43.4h0M220.8 49.1h0M221.0 43.5h0M221.1 48.9h0M221.7 43.3h0M221.5 49.6h0M221.7 43.0h0M222.0 49.4h0M222.1 43.0h0M222.1 49.5h0M222.8 42.1h0M222.8 50.2h0M222.9 41.7h0M223.0 50.8h0M223.4 41.7h0M223.5 50.1h0M223.8 41.2h0M223.7 50.9h0M224.2 41.3h0M224.4 51.2h0M224.6 41.3h0M224.7 51.0h0M225.0 41.0h0M225.0 51.1h0M225.6 40.3h0M225.5 52.7h0M225.9 40.3h0M225.9 52.2h0M226.4 40.1h0M226.1 52.3h0M226.6 40.9h0M226.6 51.5h0M226.9 41.8h0M227.2 50.0h0M227.5 41.7h0M227.6 50.7h0M227.8 41.1h0M227.7 50.8h0M228.2 41.8h0M228.3 49.9h0M228.6 40.7h0M228.6 51.4h0M229.2 41.4h0M229.2 51.2h0M229.6 41.2h0M229.4 50.5h0M229.7 41.2h0M230.0 51.2h0M230.4 40.8h0M230.2 52.3h0M230.7 40.6h0M230.5 52.6h0M231.0 41.0h0M231.0 50.8h0M231.3 41.5h0M231.3 50.3h0M232.0 41.5h0M231.9 51.1h0M232.2 42.4h0M232.1 50.4h0M232.5 42.1h0M232.8 50.6h0M232.9 42.1h0M233.1 50.4h0M233.5 42.5h0M233.2 49.5h0M234.0 42.5h0M234.0 49.8h0M234.1 42.4h0M234.1 50.2h0M234.6 42.6h0M234.6 50.2h0M234.9 42.7h0M235.2 49.6h0M235.4 43.0h0M235.5 49.5h0M235.7 43.2h0M235.7 49.1h0M236.1 43.4h0M236.2 49.3h0M236.4 43.9h0M236.5 48.5h0M237.0 44.1h0M237.2 48.7h0M237.6 44.4h0M237.3 48.2h0M237.8 44.5h0M237.9 47.8h0M238.2 45.1h0M238.1 47.3h0M238.2 46.2h0M238.4 45.2h0M238.6 47.1h0M238.6 46.2h0M239.1 45.2h0M238.9 47.2h0M239.0 46.2h0M239.6 45.2h0M239.3 47.0h0M239.4 46.2h0M239.7 45.4h0M239.8 47.1h0M239.8 46.2h0M240.1 45.4h0M240.2 47.0h0M240.2 46.2h0M240.8 45.5h0M240.4 47.0h0M240.6 46.2h0M241.0 45.5h0M241.0 46.8h0M241.0 46.2h0M241.4 45.5h0M241.4 46.8h0M241.4 46.2h0M241.8 45.5h0M241.7 46.9h0M241.8 46.2h0M242.1 45.5h0M242.3 46.9h0M242.2 46.2h0M242.4 45.6h0M242.7 46.8h0M242.6 46.2h0M242.9 45.6h0M242.9 46.8h0M243.0 46.2h0M243.4 45.6h0M243.5 46.9h0M243.4 46.2h0M243.7 45.6h0M243.8 46.8h0M243.8 46.2h0M244.2 45.6h0M244.3 46.7h0M244.2 46.2h0M244.4 45.7h0M244.7 46.7h0M244.6 46.2h0M245.2 45.7h0M245.0 46.7h0M245.0 46.2h0M245.3 45.8h0M245.3 46.7h0M245.4 46.2h0M245.9 45.8h0M245.9 46.6h0M245.8 46.2h0M246.0 45.9h0M246.1 46.5h0M246.2 46.2h0M248.6 46.2h0"/><path stroke="#ec235c" d="M233.6 65.6V66.2M233.9 65.2V66.5M234.2 65.2V66.3M234.4 64.9V66.8M234.7 64.8V67.1M234.9 64.4V67.1M235.2 64.2V67.8M235.5 64.3V67.5M235.7 64.2V67.6M236.0 63.8V67.9M236.3 63.7V68.1M236.5 63.7V67.9M236.8 63.1V68.7M237.1 63.3V68.2M237.3 62.7V68.7M237.6 62.7V69.9M237.9 62.6V68.7M238.1 62.2V69.0M238.4 62.1V69.3M238.7 62.2V70.9M238.9 61.4V70.8M239.2 61.3V69.9M239.5 61.8V69.5M239.7 61.3V70.3M240.0 61.6V70.3M240.3 61.5V70.3M240.5 61.5V70.3M240.8 61.5V70.5M241.1 61.5V70.4M241.3 60.8V70.9M241.6 61.1V70.2M241.9 61.4V71.0M242.1 61.2V70.4M242.4 61.5V70.3M242.7 61.9V70.3M242.9 62.3V69.5M243.2 62.9V68.2M243.5 62.7V68.7M243.7 63.4V68.8M244.0 63.9V67.9M244.3 64.4V67.4M244.5 64.6V67.1M244.8 64.7V67.3M245.1 64.4V67.3M245.3 64.4V67.5M245.6 64.5V67.2M245.9 64.2V67.6M246.1 64.1V67.6M246.4 64.3V67.3M246.7 64.4V67.0M246.9 64.5V67.4M247.2 64.7V67.3M247.5 65.0V66.8M247.7 65.1V66.7M248.0 65.1V66.6M248.2 65.3V66.5M248.5 65.4V66.4M248.8 65.4V66.4M249.0 65.5V66.4M249.3 65.4V66.5M249.6 65.6V66.0M249.8 65.7V66.0M228.0 65.9h0M230.4 65.9h0M230.9 65.6h0M231.0 65.9h0M231.1 65.5h0M231.2 66.2h0M231.2 65.9h0M231.4 65.4h0M231.4 66.4h0M231.5 65.9h0M231.6 65.3h0M231.8 66.4h0M231.8 65.9h0M232.2 65.3h0M232.0 66.5h0M232.0 65.9h0M232.4 65.1h0M232.4 66.6h0M232.3 65.9h0M232.6 65.0h0M232.6 66.6h0M232.6 65.9h0M232.8 65.0h0M232.7 66.8h0M232.8 65.9h0M233.1 64.9h0M233.1 66.9h0M233.1 65.9h0M233.3 64.8h0M233.2 67.0h0M233.4 65.9h0M233.5 64.6h0M233.7 67.2h0M233.9 64.2h0M233.8 67.5h0M234.2 64.2h0M234.1 67.3h0M234.4 63.9h0M234.5 67.8h0M234.6 63.8h0M234.7 68.1h0M234.9 63.4h0M234.9 68.1h0M235.1 63.2h0M235.3 68.8h0M235.4 63.3h0M235.6 68.5h0M235.6 63.2h0M235.9 68.6h0M236.1 62.8h0M236.0 68.9h0M236.4 62.7h0M236.2 69.1h0M236.6 62.7h0M236.5 68.9h0M236.8 62.1h0M236.8 69.7h0M237.1 62.3h0M237.2 69.2h0M237.3 61.7h0M237.2 69.7h0M237.5 61.7h0M237.5 70.9h0M237.8 61.6h0M237.9 69.7h0M238.3 61.2h0M238.2 70.0h0M238.5 61.1h0M238.3 70.3h0M238.6 61.2h0M238.8 71.9h0M238.9 60.4h0M239.0 71.8h0M239.3 60.3h0M239.1 70.9h0M239.4 60.8h0M239.5 70.5h0M239.8 60.3h0M239.7 71.3h0M240.0 60.6h0M240.0 71.3h0M240.2 60.5h0M240.3 71.3h0M240.6 60.5h0M240.4 71.3h0M240.9 60.5h0M240.7 71.5h0M241.1 60.5h0M241.0 71.4h0M241.4 59.8h0M241.3 71.9h0M241.5 60.1h0M241.6 71.2h0M241.8 60.4h0M241.9 72.0h0M242.1 60.2h0M242.2 71.4h0M242.3 60.5h0M242.3 71.3h0M242.6 60.9h0M242.6 71.3h0M243.0 61.3h0M243.0 70.5h0M243.2 61.9h0M243.2 69.2h0M243.5 61.7h0M243.4 69.7h0M243.6 62.4h0M243.8 69.8h0M244.1 62.9h0M243.9 68.9h0M244.3 63.4h0M244.2 68.4h0M244.5 63.6h0M244.5 68.1h0M244.8 63.7h0M244.8 68.3h0M245.0 63.4h0M245.1 68.3h0M245.5 63.4h0M245.3 68.5h0M245.7 63.5h0M245.6 68.2h0M245.9 63.2h0M245.9 68.6h0M246.1 63.1h0M246.2 68.6h0M246.3 63.3h0M246.3 68.3h0M246.7 63.4h0M246.7 68.0h0M247.0 63.5h0M247.0 68.4h0M247.1 63.7h0M247.1 68.3h0M247.4 64.0h0M247.5 67.8h0M247.8 64.1h0M247.8 67.7h0M248.1 64.1h0M248.0 67.6h0M248.3 64.3h0M248.3 67.5h0M248.6 64.4h0M248.6 67.4h0M248.7 64.4h0M248.9 67.4h0M249.0 64.5h0M249.2 67.4h0M249.3 64.4h0M249.2 67.5h0M249.5 64.6h0M249.6 67.0h0M249.8 64.7h0M249.9 67.0h0M250.0 64.9h0M250.1 66.9h0M250.1 65.9h0M250.4 65.0h0M250.5 66.8h0M250.4 65.9h0M250.7 65.0h0M250.7 66.7h0M250.6 65.9h0M251.0 65.2h0M251.0 66.6h0M250.9 65.9h0M251.1 65.2h0M251.3 66.5h0M251.2 65.9h0M251.4 65.3h0M251.5 66.6h0M251.4 65.9h0M251.6 65.4h0M251.7 66.3h0M251.7 65.9h0M252.0 65.5h0M251.9 66.3h0M252.0 65.9h0M252.3 65.5h0M252.1 66.3h0M252.2 65.9h0M252.5 65.6h0M252.5 65.9h0M254.4 65.9h0"/><path stroke="#8a3f9e" d="M248.8 67.5h0"/><path stroke="#ec235c" d="M237.2 85.4V85.8M237.5 85.3V85.8M237.8 85.2V85.9M238.1 85.3V85.9M238.4 85.1V85.9M238.6 84.9V86.4M238.9 84.8V86.4M239.2 84.5V86.8M239.5 84.4V86.6M239.7 84.3V87.0M240.0 83.8V87.5M240.3 83.5V88.2M240.6 83.2V88.0M240.9 83.4V88.0M241.1 83.5V87.7M241.4 83.6V87.8M241.7 83.3V87.4M242.0 83.4V87.7M242.2 83.7V87.5M242.5 83.5V88.1M242.8 83.3V88.4M243.1 82.7V88.8M243.4 82.1V89.4M243.6 82.0V88.9M243.9 81.3V89.5M244.2 81.1V90.1M244.5 81.0V89.9M244.7 80.7V89.5M245.0 81.8V90.0M245.3 81.9V89.8M245.6 81.4V90.0M245.9 81.7V90.4M246.1 81.8V89.9M246.4 81.6V89.9M246.7 80.6V90.1M247.0 80.3V90.8M247.3 80.6V90.9M247.5 81.0V90.4M247.8 80.8V90.3M248.1 81.3V90.4M248.4 81.3V88.9M248.6 81.3V89.0M248.9 80.9V90.6M249.2 81.7V89.7M249.5 81.8V89.2M249.8 81.7V90.0M250.0 82.0V89.5M250.3 82.3V88.7M250.6 82.2V88.1M250.9 82.4V89.2M251.1 83.0V88.7M251.4 83.0V88.3M251.7 83.0V88.3M252.0 83.1V87.9M252.3 82.8V88.3M252.5 82.8V88.5M252.8 82.4V88.2M253.1 82.5V88.7M253.4 82.5V88.6M253.6 82.3V89.8M253.9 81.9V89.2M254.2 82.1V89.0M254.5 81.9V89.1M254.8 82.5V88.6M255.0 82.7V88.5M255.3 82.9V88.0M255.6 83.6V87.7M255.9 84.2V87.4M256.1 84.4V86.8M256.4 84.8V86.4M256.7 85.0V86.2M257.0 85.0V86.1M257.3 84.8V86.5M257.5 84.7V86.6M257.8 84.5V86.6M258.1 84.3V86.9M258.4 84.1V87.0M258.6 83.7V87.4M258.9 84.1V87.3M259.2 84.7V86.7M259.5 85.4V85.7M232.2 85.6h0M235.0 85.6h0M236.3 85.1h0M236.0 86.0h0M236.1 85.6h0M236.4 84.9h0M236.4 86.2h0M236.4 85.6h0M236.6 84.7h0M236.7 86.4h0M236.7 85.6h0M236.9 84.5h0M236.9 86.5h0M237.0 85.6h0M237.2 84.4h0M237.3 86.8h0M237.6 84.3h0M237.5 86.8h0M237.9 84.2h0M237.8 86.9h0M238.0 84.3h0M238.0 86.9h0M238.4 84.1h0M238.4 86.9h0M238.7 83.9h0M238.7 87.4h0M239.0 83.8h0M239.0 87.4h0M239.1 83.5h0M239.1 87.8h0M239.4 83.4h0M239.5 87.6h0M239.6 83.3h0M239.9 88.0h0M240.1 82.8h0M239.9 88.5h0M240.4 82.5h0M240.4 89.2h0M240.7 82.2h0M240.7 89.0h0M240.8 82.4h0M240.8 89.0h0M241.2 82.5h0M241.2 88.7h0M241.4 82.6h0M241.3 88.8h0M241.6 82.3h0M241.6 88.4h0M241.9 82.4h0M241.9 88.7h0M242.2 82.7h0M242.3 88.5h0M242.6 82.5h0M242.6 89.1h0M242.8 82.3h0M242.9 89.4h0M243.2 81.7h0M243.2 89.8h0M243.4 81.1h0M243.3 90.4h0M243.6 81.0h0M243.7 89.9h0M243.9 80.3h0M244.0 90.5h0M244.2 80.1h0M244.2 91.1h0M244.4 80.0h0M244.4 90.9h0M244.8 79.7h0M244.7 90.5h0M244.9 80.8h0M245.1 91.0h0M245.3 80.9h0M245.4 90.8h0M245.7 80.4h0M245.6 91.0h0M245.9 80.7h0M245.7 91.4h0M246.3 80.8h0M246.2 90.9h0M246.3 80.6h0M246.4 90.9h0M246.6 79.6h0M246.8 91.1h0M247.0 79.3h0M247.0 91.8h0M247.1 79.6h0M247.3 91.9h0M247.4 80.0h0M247.6 91.4h0M247.9 79.8h0M247.7 91.3h0M248.1 80.3h0M248.2 91.4h0M248.5 80.3h0M248.5 89.9h0M248.5 80.3h0M248.6 90.0h0M248.9 79.9h0M248.8 91.6h0M249.3 80.7h0M249.3 90.7h0M249.5 80.8h0M249.6 90.2h0M249.6 80.7h0M249.6 91.0h0M250.0 81.0h0M250.0 90.5h0M250.4 81.3h0M250.2 89.7h0M250.7 81.2h0M250.5 89.1h0M250.8 81.4h0M251.0 90.2h0M251.2 82.0h0M251.2 89.7h0M251.3 82.0h0M251.4 89.3h0M251.8 82.0h0M251.8 89.3h0M252.1 82.1h0M251.9 88.9h0M252.1 81.8h0M252.2 89.3h0M252.7 81.8h0M252.6 89.5h0M252.7 81.4h0M252.8 89.2h0M253.1 81.5h0M253.1 89.7h0M253.4 81.5h0M253.5 89.6h0M253.7 81.3h0M253.8 90.8h0M254.0 80.9h0M254.0 90.2h0M254.3 81.1h0M254.2 90.0h0M254.4 80.9h0M254.4 90.1h0M254.9 81.5h0M254.7 89.6h0M255.0 81.7h0M255.1 89.5h0M255.4 81.9h0M255.2 89.0h0M255.7 82.6h0M255.5 88.7h0M255.8 83.2h0M256.0 88.4h0M256.2 83.4h0M256.3 87.8h0M256.3 83.8h0M256.4 87.4h0M256.7 84.0h0M256.6 87.2h0M257.0 84.0h0M257.0 87.1h0M257.3 83.8h0M257.4 87.5h0M257.4 83.7h0M257.6 87.6h0M257.9 83.5h0M257.9 87.6h0M258.2 83.3h0M258.2 87.9h0M258.4 83.1h0M258.4 88.0h0M258.5 82.7h0M258.6 88.4h0M259.0 83.1h0M258.9 88.3h0M259.3 83.7h0M259.2 87.7h0M259.5 84.4h0M259.6 86.7h0M259.9 85.1h0M259.8 86.1h0M259.8 85.6h0M259.9 85.6h0"/><path stroke="#1c7ac0" d="M253.5 105.0V105.7M253.8 104.7V105.9M254.1 104.5V106.3M254.4 104.2V106.4M254.7 103.9V106.5M255.0 103.8V107.0M255.3 103.6V107.4M255.7 103.8V106.8M256.0 104.1V106.4M256.3 104.0V106.6M256.6 103.8V106.8M256.9 103.7V106.9M257.2 103.9V106.7M257.5 103.5V107.4M257.8 103.2V107.5M258.1 103.1V107.6M258.4 103.1V107.8M258.7 102.6V107.7M259.0 102.0V108.8M259.3 101.0V109.8M259.6 100.9V110.2M260.0 100.7V109.4M260.3 100.8V108.4M260.6 100.9V109.2M260.9 101.3V109.8M261.2 101.7V108.6M261.5 102.1V108.6M261.8 102.0V108.2M262.1 102.2V108.8M262.4 102.2V108.6M262.7 102.1V108.6M263.0 101.7V109.2M263.3 102.4V108.7M263.6 102.4V108.5M263.9 102.2V108.3M264.3 102.1V108.8M264.6 102.0V108.8M264.9 102.4V108.8M265.2 102.8V107.3M265.5 102.9V107.4M265.8 103.0V107.3M266.1 103.2V107.0M266.4 103.7V106.8M266.7 104.0V107.1M267.0 104.0V106.7M267.3 104.0V106.6M267.6 104.2V106.7M267.9 104.4V106.2M268.2 104.7V106.0M268.6 104.8V105.8M268.9 104.7V106.0M269.2 105.0V105.7M269.5 105.0V105.4M246.8 105.3h0M247.4 105.3h0M247.6 105.0h0M247.8 105.6h0M247.7 105.3h0M248.1 105.6h0M248.0 105.3h0M248.3 105.0h0M248.4 105.7h0M248.3 105.3h0M248.5 104.9h0M248.5 105.6h0M248.6 105.3h0M248.8 104.9h0M248.8 105.7h0M248.9 105.3h0M249.3 104.9h0M249.1 105.8h0M249.2 105.3h0M249.4 104.9h0M249.6 105.7h0M249.5 105.3h0M249.9 104.8h0M249.9 105.8h0M249.8 105.3h0M250.0 104.9h0M250.2 105.7h0M250.1 105.3h0M250.5 104.8h0M250.4 105.8h0M250.4 105.3h0M250.7 104.7h0M250.7 105.9h0M250.7 105.3h0M250.9 104.7h0M251.1 105.8h0M251.1 105.3h0M251.4 104.7h0M251.3 105.9h0M251.4 105.3h0M251.8 104.6h0M251.6 106.0h0M251.7 105.3h0M252.0 104.6h0M252.1 106.1h0M252.0 105.3h0M252.4 104.6h0M252.4 106.0h0M252.3 105.3h0M252.5 104.6h0M252.5 106.1h0M252.6 105.3h0M252.7 104.4h0M253.0 106.1h0M252.9 105.3h0M253.1 104.2h0M253.1 106.2h0M253.2 105.3h0M253.6 104.0h0M253.5 106.7h0M253.7 103.7h0M253.7 106.9h0M254.1 103.5h0M254.1 107.3h0M254.3 103.2h0M254.3 107.4h0M254.7 102.9h0M254.8 107.5h0M254.9 102.8h0M255.0 108.0h0M255.2 102.6h0M255.3 108.4h0M255.5 102.8h0M255.6 107.8h0M255.9 103.1h0M256.0 107.4h0M256.3 103.0h0M256.2 107.6h0M256.5 102.8h0M256.6 107.8h0M256.9 102.7h0M257.0 107.9h0M257.2 102.9h0M257.1 107.7h0M257.6 102.5h0M257.4 108.4h0M257.9 102.2h0M257.8 108.5h0M258.0 102.1h0M258.1 108.6h0M258.4 102.1h0M258.3 108.8h0M258.8 101.6h0M258.8 108.7h0M259.0 101.0h0M259.0 109.8h0M259.5 100.0h0M259.3 110.8h0M259.7 99.9h0M259.5 111.2h0M260.0 99.7h0M259.8 110.4h0M260.3 99.8h0M260.2 109.4h0M260.7 99.9h0M260.5 110.2h0M260.7 100.3h0M260.8 110.8h0M261.3 100.7h0M261.3 109.6h0M261.5 101.1h0M261.6 109.6h0M261.8 101.0h0M261.7 109.2h0M262.1 101.2h0M262.0 109.8h0M262.4 101.2h0M262.5 109.6h0M262.6 101.1h0M262.7 109.6h0M262.9 100.7h0M263.0 110.2h0M263.3 101.4h0M263.3 109.7h0M263.6 101.4h0M263.8 109.5h0M264.0 101.2h0M263.8 109.3h0M264.3 101.1h0M264.4 109.8h0M264.5 101.0h0M264.7 109.8h0M264.8 101.4h0M264.7 109.8h0M265.1 101.8h0M265.3 108.3h0M265.4 101.9h0M265.6 108.4h0M265.8 102.0h0M265.8 108.3h0M266.1 102.2h0M266.1 108.0h0M266.4 102.7h0M266.4 107.8h0M266.6 103.0h0M266.6 108.1h0M267.0 103.0h0M267.1 107.7h0M267.4 103.0h0M267.3 107.6h0M267.7 103.2h0M267.7 107.7h0M267.9 103.4h0M268.0 107.2h0M268.3 103.7h0M268.4 107.0h0M268.5 103.8h0M268.6 106.8h0M269.0 103.7h0M268.9 107.0h0M269.1 104.0h0M269.1 106.7h0M269.3 104.0h0M269.4 106.4h0M269.8 104.2h0M269.8 106.5h0M269.8 105.3h0M270.1 104.3h0M270.1 106.5h0M270.1 105.3h0M270.5 104.4h0M270.3 106.3h0M270.4 105.3h0M270.8 104.5h0M270.8 106.0h0M270.7 105.3h0M270.9 104.7h0M271.1 105.9h0M271.0 105.3h0M271.2 104.8h0M271.3 105.8h0M271.3 105.3h0M271.5 104.8h0M271.7 105.8h0M271.6 105.3h0M272.0 104.8h0M272.0 105.8h0M271.9 105.3h0M272.4 104.8h0M272.3 105.8h0M272.2 105.3h0M272.5 104.8h0M272.5 105.7h0M272.5 105.3h0M273.0 104.8h0M272.9 105.8h0M272.8 105.3h0M273.2 104.8h0M273.3 105.8h0M273.2 105.3h0M273.5 104.8h0M273.4 105.8h0M273.5 105.3h0M273.6 104.8h0M273.7 105.8h0M273.8 105.3h0M274.0 104.8h0M274.1 105.8h0M274.1 105.3h0M274.4 104.8h0M274.3 105.8h0M274.4 105.3h0M274.6 104.9h0M274.6 105.8h0M274.7 105.3h0M274.9 104.9h0M275.1 105.6h0M275.0 105.3h0M275.2 105.6h0M275.3 105.3h0M275.6 105.3h0M277.1 105.3h0"/></g>
<line x1="63.0" x2="290.3" y1="125.4" y2="125.4" stroke="#555" stroke-width="0.9"/>
<line x1="84.8" x2="84.8" y1="125.4" y2="127.60000000000001" stroke="#555" stroke-width="0.7"/>
<text x="84.8" y="134.5" class="tk">−0.08</text>
<line x1="130.3" x2="130.3" y1="125.4" y2="127.60000000000001" stroke="#555" stroke-width="0.7"/>
<text x="130.3" y="134.5" class="tk">−0.06</text>
<line x1="175.8" x2="175.8" y1="125.4" y2="127.60000000000001" stroke="#555" stroke-width="0.7"/>
<text x="175.8" y="134.5" class="tk">−0.04</text>
<line x1="221.3" x2="221.3" y1="125.4" y2="127.60000000000001" stroke="#555" stroke-width="0.7"/>
<text x="221.3" y="134.5" class="tk">−0.02</text>
<line x1="266.8" x2="266.8" y1="125.4" y2="127.60000000000001" stroke="#555" stroke-width="0.7"/>
<text x="266.8" y="134.5" class="tk">0.00</text>
<text x="176.7" y="144" class="xl">SHAP value (impact on model output)</text>
<text x="48.7" y="29.7" class="rl">U-PS(L,N,S)</text>
<text x="48.7" y="49.4" class="rl">U-IB(L,N,S)</text>
<text x="48.7" y="69.1" class="rl">U-TS(L,N,S)</text>
<text x="48.7" y="88.8" class="rl">U-OB(L,N,S)</text>
<text x="48.7" y="108.5" class="rl">U-PE(L,N,S)</text>
<rect x="304" y="6" width="2" height="119" fill="url(#cb)"/>
<text x="308" y="9.3" class="cl">High</text>
<text x="308" y="128" class="cl">Low</text>
<text transform="translate(327.5,65.8) rotate(-90)" class="fv">Feature value</text>
</g></g>
<g transform="translate(0,168)">
<g transform="translate(0,0.45)">
<text x="0" y="0" class="lt" transform="translate(9.100000000000001,16.4) scale(0.94,1)">c</text>
<line x1="63.0" x2="290.3" y1="26.5" y2="26.5" stroke="#d8d8d8" stroke-width="0.6" stroke-dasharray="0.8 1.8"/>
<line x1="63.0" x2="290.3" y1="46.2" y2="46.2" stroke="#d8d8d8" stroke-width="0.6" stroke-dasharray="0.8 1.8"/>
<line x1="63.0" x2="290.3" y1="65.9" y2="65.9" stroke="#d8d8d8" stroke-width="0.6" stroke-dasharray="0.8 1.8"/>
<line x1="63.0" x2="290.3" y1="85.6" y2="85.6" stroke="#d8d8d8" stroke-width="0.6" stroke-dasharray="0.8 1.8"/>
<line x1="63.0" x2="290.3" y1="105.3" y2="105.3" stroke="#d8d8d8" stroke-width="0.6" stroke-dasharray="0.8 1.8"/>
<line x1="262.4" x2="262.4" y1="7.6" y2="125.4" stroke="#a2a2a6" stroke-width="0.9"/>
<g stroke-width="2.6" stroke-linecap="round" fill="none"><path stroke="#1c7ac0" d="M78.1 26.3V26.7M79.0 26.4V26.7M87.1 26.2V26.7M88.0 25.8V27.2M88.9 25.5V27.4M89.8 24.6V28.3M90.7 24.4V28.9M91.6 24.5V28.6M92.5 23.6V29.7M93.4 23.8V29.5M94.3 23.3V29.5M95.2 24.8V28.3M96.1 24.5V28.2M97.0 25.0V28.1M97.9 24.1V28.5M98.8 24.1V28.4M99.7 24.9V28.1M100.6 24.8V28.4M101.5 24.6V28.4M102.4 24.4V28.2M103.3 24.2V28.7M104.2 23.4V29.9M105.1 24.6V28.4M106.0 24.3V28.7M106.9 23.5V29.9M107.8 23.5V29.2M108.7 24.1V28.9M109.6 23.5V29.7M110.5 24.0V29.1M111.4 24.6V28.3M112.3 23.2V29.7M113.2 21.3V32.3M114.1 22.7V30.8M115.0 24.4V28.3M115.9 24.3V28.9M116.8 24.2V28.4M117.7 24.5V28.5M118.6 23.7V29.7M119.5 24.3V28.5M120.4 24.0V28.5M121.3 24.5V28.2M122.2 24.2V29.1M123.1 24.2V29.0M124.0 23.9V29.1M124.9 22.7V30.7M125.8 22.8V31.3M126.7 24.6V28.5M127.6 25.0V28.0M128.5 26.2V26.8M131.2 26.3V26.7M132.1 26.4V26.7M133.0 26.3V26.6M73.6 26.5h0M74.9 26.0h0M74.9 27.0h0M74.5 26.5h0M75.0 25.8h0M75.7 27.2h0M75.4 26.5h0M76.2 25.6h0M76.1 27.3h0M76.3 26.5h0M77.0 25.4h0M76.8 27.7h0M77.2 26.5h0M77.9 25.3h0M78.6 27.7h0M78.6 25.4h0M79.1 27.7h0M79.6 25.6h0M80.1 27.3h0M79.9 26.5h0M80.8 25.8h0M80.9 27.1h0M80.8 26.5h0M83.2 26.2h0M83.3 26.9h0M83.5 26.5h0M84.1 26.2h0M84.3 26.8h0M84.4 26.5h0M85.7 25.9h0M85.7 27.1h0M85.3 26.5h0M86.7 25.6h0M86.7 27.4h0M86.2 26.5h0M86.8 25.2h0M87.1 27.7h0M88.4 24.8h0M88.5 28.2h0M88.5 24.5h0M89.0 28.4h0M89.5 23.6h0M89.9 29.3h0M90.6 23.4h0M90.8 29.9h0M91.6 23.5h0M91.7 29.6h0M92.9 22.6h0M92.1 30.7h0M93.8 22.8h0M93.1 30.5h0M93.9 22.3h0M94.2 30.5h0M95.5 23.8h0M95.6 29.3h0M95.8 23.5h0M96.3 29.2h0M97.1 24.0h0M96.7 29.1h0M97.5 23.1h0M97.5 29.5h0M98.6 23.1h0M99.0 29.4h0M99.6 23.9h0M99.8 29.1h0M100.4 23.8h0M100.2 29.4h0M101.4 23.6h0M101.4 29.4h0M102.1 23.4h0M102.6 29.2h0M103.2 23.2h0M103.5 29.7h0M104.5 22.4h0M104.6 30.9h0M105.5 23.6h0M105.5 29.4h0M105.6 23.3h0M106.2 29.7h0M107.2 22.5h0M106.7 30.9h0M108.2 22.5h0M108.0 30.2h0M108.4 23.1h0M108.7 29.9h0M109.5 22.5h0M110.0 30.7h0M110.4 23.0h0M110.5 30.1h0M111.5 23.6h0M111.7 29.3h0M112.3 22.2h0M112.0 30.7h0M113.4 20.3h0M113.5 33.3h0M114.0 21.7h0M114.0 31.8h0M114.7 23.4h0M115.4 29.3h0M115.5 23.3h0M115.9 29.9h0M116.7 23.2h0M116.6 29.4h0M118.1 23.5h0M118.1 29.5h0M119.0 22.7h0M118.6 30.7h0M119.6 23.3h0M119.4 29.5h0M120.1 23.0h0M120.5 29.5h0M121.6 23.5h0M121.3 29.2h0M122.6 23.2h0M122.2 30.1h0M122.8 23.2h0M123.1 30.0h0M123.8 22.9h0M123.6 30.1h0M124.5 21.7h0M124.6 31.7h0M125.5 21.8h0M125.7 32.3h0M127.0 23.6h0M126.8 29.5h0M127.4 24.0h0M127.3 29.0h0M128.9 25.2h0M128.3 27.8h0M129.1 25.6h0M129.8 27.4h0M129.4 26.5h0M130.5 25.4h0M130.6 27.6h0M130.3 26.5h0M131.2 25.3h0M131.2 27.7h0M132.4 25.4h0M131.7 27.7h0M132.9 25.3h0M133.2 27.6h0M133.6 25.5h0M134.1 27.4h0M133.9 26.5h0M135.1 25.6h0M134.4 27.5h0M134.8 26.5h0M135.5 25.6h0M135.9 27.4h0M135.7 26.5h0M136.9 25.7h0M136.9 27.2h0M136.6 26.5h0M137.5 25.9h0M137.2 27.1h0M137.5 26.5h0M138.1 26.2h0M138.4 26.5h0M141.1 26.5h0M142.5 26.5h0M155.0 26.5h0M157.0 26.5h0M159.2 26.5h0M163.1 26.5h0"/><path stroke="#ec235c" d="M246.8 45.6V46.8M247.0 45.0V47.6M247.2 44.0V48.4M247.3 43.3V49.0M247.5 43.3V48.6M247.6 43.0V49.1M247.8 42.9V49.4M248.0 43.0V49.7M248.1 43.1V48.8M248.3 43.3V48.7M248.4 43.0V49.8M248.6 42.7V49.5M248.7 42.9V49.8M248.9 42.4V50.3M249.1 42.3V50.3M249.2 42.8V49.6M249.4 42.6V50.0M249.5 42.9V49.6M249.7 43.0V49.2M249.9 43.3V49.2M250.0 43.3V49.3M250.2 43.5V49.4M250.3 43.4V49.1M250.5 43.7V48.7M250.7 44.1V48.2M250.8 44.2V48.0M251.0 44.2V48.2M251.1 44.4V47.9M251.3 44.5V47.8M251.5 44.6V47.9M251.6 44.7V47.6M251.8 44.9V47.6M251.9 45.1V47.3M252.1 45.3V47.0M252.2 45.6V46.9M252.4 45.8V46.6M252.6 46.0V46.4M252.7 45.1V47.4M252.9 43.9V48.6M253.0 42.8V49.6M253.2 41.7V50.8M253.4 41.4V50.3M253.5 42.0V50.4M253.7 42.1V50.1M253.8 42.1V50.3M254.0 42.8V49.8M254.2 43.6V48.8M254.3 44.5V48.2M254.5 45.6V46.5M244.0 46.2h0M246.0 46.2h0M246.2 46.2h0M246.4 45.9h0M246.4 46.2h0M246.5 45.8h0M246.5 46.6h0M246.5 46.2h0M246.7 45.4h0M246.7 47.2h0M246.7 46.2h0M246.8 44.6h0M246.8 47.8h0M247.1 44.0h0M247.0 48.6h0M247.2 43.0h0M247.2 49.4h0M247.3 42.3h0M247.4 50.0h0M247.5 42.3h0M247.5 49.6h0M247.6 42.0h0M247.7 50.1h0M247.9 41.9h0M247.8 50.4h0M247.9 42.0h0M247.9 50.7h0M248.0 42.1h0M248.1 49.8h0M248.3 42.3h0M248.3 49.7h0M248.4 42.0h0M248.4 50.8h0M248.6 41.7h0M248.5 50.5h0M248.8 41.9h0M248.7 50.8h0M249.0 41.4h0M248.9 51.3h0M249.0 41.3h0M249.1 51.3h0M249.2 41.8h0M249.3 50.6h0M249.4 41.6h0M249.4 51.0h0M249.5 41.9h0M249.5 50.6h0M249.7 42.0h0M249.6 50.2h0M249.8 42.3h0M249.8 50.2h0M250.0 42.3h0M250.0 50.3h0M250.2 42.5h0M250.2 50.4h0M250.3 42.4h0M250.3 50.1h0M250.5 42.7h0M250.5 49.7h0M250.6 43.1h0M250.7 49.2h0M250.8 43.2h0M250.9 49.0h0M251.0 43.2h0M251.0 49.2h0M251.2 43.4h0M251.1 48.9h0M251.3 43.5h0M251.3 48.8h0M251.4 43.6h0M251.4 48.9h0M251.7 43.7h0M251.5 48.6h0M251.8 43.9h0M251.8 48.6h0M251.9 44.1h0M252.0 48.3h0M252.2 44.3h0M252.1 48.0h0M252.3 44.6h0M252.2 47.9h0M252.4 44.8h0M252.3 47.6h0M252.6 45.0h0M252.6 47.4h0M252.8 44.1h0M252.7 48.4h0M252.8 42.9h0M252.8 49.6h0M253.0 41.8h0M253.0 50.6h0M253.2 40.7h0M253.3 51.8h0M253.3 40.4h0M253.3 51.3h0M253.6 41.0h0M253.5 51.4h0M253.7 41.1h0M253.7 51.1h0M253.9 41.1h0M253.8 51.3h0M254.0 41.8h0M254.0 50.8h0M254.2 42.6h0M254.1 49.8h0M254.3 43.5h0M254.4 49.2h0M254.5 44.6h0M254.5 47.5h0M254.7 45.3h0M254.6 47.1h0M254.6 46.2h0M254.8 45.4h0M254.7 47.1h0M254.8 46.2h0M254.9 45.4h0M254.9 47.2h0M255.0 46.2h0M255.2 45.5h0M255.0 46.8h0M255.1 46.2h0M255.3 45.5h0M255.2 46.8h0M255.3 46.2h0M255.4 45.6h0M255.4 46.9h0M255.4 46.2h0M255.6 45.6h0M255.6 46.8h0M255.6 46.2h0M255.8 45.6h0M255.7 46.7h0M255.7 46.2h0M256.0 45.7h0M255.9 46.7h0M255.9 46.2h0M256.1 45.7h0M256.1 46.7h0M256.1 46.2h0M256.2 45.8h0M256.2 46.6h0M256.2 46.2h0M256.3 45.8h0M256.4 46.6h0M256.4 46.2h0M256.5 46.2h0M256.7 46.2h0M258.8 46.2h0M259.7 46.2h0"/><path stroke="#1c7ac0" d="M250.8 51.2h0"/><path stroke="#1c7ac0" d="M265.8 65.7V66.2M266.0 65.6V66.2M266.2 65.5V66.3M266.4 65.3V66.5M266.6 65.0V66.7M266.7 65.0V66.9M266.9 64.5V67.1M267.1 64.5V67.8M267.3 64.1V67.4M267.5 64.2V67.5M267.6 64.0V68.0M267.8 63.8V68.3M268.0 63.8V68.2M268.2 63.7V68.5M268.4 63.6V67.7M268.5 63.7V68.1M268.7 63.7V68.3M268.9 63.4V68.6M269.1 63.3V68.6M269.3 63.2V68.4M269.4 63.1V69.0M269.6 62.8V69.3M269.8 63.0V68.9M270.0 62.4V69.2M270.2 62.2V69.3M270.4 62.2V70.1M270.5 62.1V69.8M270.7 61.6V69.9M270.9 61.4V70.7M271.1 61.4V69.8M271.3 61.0V70.2M271.4 61.1V70.9M271.6 61.1V70.7M271.8 61.1V70.5M272.0 61.6V70.4M272.2 61.4V70.6M272.3 61.8V70.2M272.5 62.2V69.6M272.7 62.6V69.5M272.9 62.6V69.3M273.1 63.3V68.6M273.3 63.1V68.7M273.4 63.7V68.1M273.6 63.9V67.9M273.8 64.2V67.5M274.0 64.1V67.7M274.2 64.0V67.7M274.3 64.1V67.7M274.5 64.2V67.2M274.7 64.0V67.7M274.9 64.0V68.0M275.1 64.5V67.4M275.2 64.4V67.6M275.4 64.2V67.4M275.6 64.3V67.5M275.8 64.2V67.7M276.0 64.2V67.6M276.1 64.3V67.6M276.3 64.4V67.2M276.5 64.6V67.2M276.7 64.9V67.0M276.9 64.8V67.1M277.1 65.1V66.7M277.2 65.3V66.6M277.4 65.5V66.4M262.4 65.9h0M264.6 65.9h0M264.8 65.6h0M264.8 66.2h0M264.7 65.9h0M265.0 65.4h0M264.9 66.4h0M264.9 65.9h0M265.1 65.3h0M265.0 66.5h0M265.1 65.9h0M265.2 65.1h0M265.3 66.7h0M265.3 65.9h0M265.4 65.0h0M265.4 66.8h0M265.5 65.9h0M265.7 64.9h0M265.6 67.0h0M265.6 65.9h0M265.8 64.7h0M265.7 67.2h0M266.1 64.6h0M266.0 67.2h0M266.1 64.5h0M266.2 67.3h0M266.4 64.3h0M266.4 67.5h0M266.6 64.0h0M266.6 67.7h0M266.7 64.0h0M266.8 67.9h0M267.0 63.5h0M267.0 68.1h0M267.0 63.5h0M267.1 68.8h0M267.3 63.1h0M267.4 68.4h0M267.4 63.2h0M267.5 68.5h0M267.6 63.0h0M267.6 69.0h0M267.7 62.8h0M267.8 69.3h0M268.0 62.8h0M267.9 69.2h0M268.2 62.7h0M268.2 69.5h0M268.4 62.6h0M268.4 68.7h0M268.6 62.7h0M268.6 69.1h0M268.7 62.7h0M268.8 69.3h0M269.0 62.4h0M268.8 69.6h0M269.1 62.3h0M269.1 69.6h0M269.2 62.2h0M269.2 69.4h0M269.4 62.1h0M269.5 70.0h0M269.6 61.8h0M269.6 70.3h0M269.9 62.0h0M269.8 69.9h0M269.9 61.4h0M270.0 70.2h0M270.1 61.2h0M270.2 70.3h0M270.4 61.2h0M270.4 71.1h0M270.6 61.1h0M270.5 70.8h0M270.8 60.6h0M270.6 70.9h0M270.9 60.4h0M270.9 71.7h0M271.0 60.4h0M271.0 70.8h0M271.2 60.0h0M271.3 71.2h0M271.4 60.1h0M271.4 71.9h0M271.6 60.1h0M271.7 71.7h0M271.8 60.1h0M271.8 71.5h0M272.0 60.6h0M272.0 71.4h0M272.1 60.4h0M272.2 71.6h0M272.4 60.8h0M272.3 71.2h0M272.6 61.2h0M272.6 70.6h0M272.7 61.6h0M272.7 70.5h0M272.9 61.6h0M272.9 70.3h0M273.1 62.3h0M273.0 69.6h0M273.3 62.1h0M273.3 69.7h0M273.5 62.7h0M273.4 69.1h0M273.6 62.9h0M273.6 68.9h0M273.8 63.2h0M273.8 68.5h0M274.0 63.1h0M274.1 68.7h0M274.1 63.0h0M274.1 68.7h0M274.3 63.1h0M274.3 68.7h0M274.6 63.2h0M274.5 68.2h0M274.8 63.0h0M274.7 68.7h0M274.9 63.0h0M274.9 69.0h0M275.1 63.5h0M275.0 68.4h0M275.2 63.4h0M275.2 68.6h0M275.5 63.2h0M275.4 68.4h0M275.6 63.3h0M275.6 68.5h0M275.7 63.2h0M275.7 68.7h0M275.9 63.2h0M275.9 68.6h0M276.1 63.3h0M276.2 68.6h0M276.4 63.4h0M276.4 68.2h0M276.6 63.6h0M276.6 68.2h0M276.7 63.9h0M276.8 68.0h0M276.8 63.8h0M276.9 68.1h0M277.1 64.1h0M277.0 67.7h0M277.2 64.3h0M277.2 67.6h0M277.3 64.5h0M277.3 67.4h0M277.5 64.8h0M277.6 67.1h0M277.6 65.9h0M277.7 65.1h0M277.8 66.6h0M277.8 65.9h0M277.9 65.3h0M277.9 66.4h0M278.0 65.9h0M278.2 65.6h0M278.2 66.3h0M278.1 65.9h0M280.3 65.9h0"/><path stroke="#1c7ac0" d="M254.3 85.4V86.0M254.5 85.3V86.0M254.7 85.1V86.1M255.0 85.0V86.2M255.2 84.8V86.3M255.4 84.8V86.5M255.7 84.7V86.3M255.9 84.4V86.6M256.1 84.5V86.9M256.3 84.4V87.0M256.6 84.0V87.1M256.8 84.2V87.2M257.0 84.0V87.3M257.3 84.0V87.2M257.5 83.7V87.9M257.7 83.6V87.6M258.0 83.7V87.7M258.2 83.5V88.0M258.4 83.3V88.1M258.7 83.6V87.4M258.9 83.7V87.6M259.1 83.5V87.9M259.3 83.6V87.8M259.6 83.3V87.8M259.8 83.4V88.0M260.0 83.1V88.5M260.3 82.9V88.3M260.5 82.5V88.6M260.7 82.3V89.3M261.0 81.8V89.3M261.2 82.1V89.8M261.4 81.9V89.2M261.7 81.4V89.2M261.9 81.8V89.0M262.1 81.2V90.3M262.4 80.8V89.8M262.6 80.6V90.0M262.8 80.6V91.2M263.0 81.0V91.0M263.3 81.1V89.4M263.5 82.1V88.8M263.7 82.4V88.8M264.0 82.7V88.4M264.2 83.3V87.7M264.4 83.6V87.7M264.7 83.9V87.5M264.9 84.1V87.1M265.1 84.6V86.6M265.4 84.9V86.5M265.6 85.1V86.0M265.8 85.4V85.8M249.4 85.6h0M252.2 85.6h0M252.4 85.6h0M252.6 85.2h0M252.6 85.9h0M252.6 85.6h0M252.9 85.1h0M252.8 86.0h0M252.9 85.6h0M253.1 85.1h0M253.0 86.1h0M253.1 85.6h0M253.3 85.0h0M253.4 86.2h0M253.3 85.6h0M253.5 84.8h0M253.5 86.4h0M253.6 85.6h0M253.7 84.7h0M253.7 86.4h0M253.8 85.6h0M254.1 84.5h0M254.1 86.5h0M254.0 85.6h0M254.3 84.4h0M254.2 87.0h0M254.4 84.3h0M254.5 87.0h0M254.6 84.1h0M254.8 87.1h0M255.0 84.0h0M254.9 87.2h0M255.2 83.8h0M255.3 87.3h0M255.5 83.8h0M255.3 87.5h0M255.7 83.7h0M255.7 87.3h0M255.8 83.4h0M255.8 87.6h0M256.1 83.5h0M256.1 87.9h0M256.2 83.4h0M256.5 88.0h0M256.5 83.0h0M256.5 88.1h0M256.7 83.2h0M256.9 88.2h0M257.0 83.0h0M257.1 88.3h0M257.4 83.0h0M257.2 88.2h0M257.4 82.7h0M257.5 88.9h0M257.8 82.6h0M257.7 88.6h0M258.0 82.7h0M258.0 88.7h0M258.2 82.5h0M258.2 89.0h0M258.4 82.3h0M258.5 89.1h0M258.6 82.6h0M258.6 88.4h0M259.0 82.7h0M258.9 88.6h0M259.0 82.5h0M259.1 88.9h0M259.4 82.6h0M259.2 88.8h0M259.5 82.3h0M259.7 88.8h0M259.8 82.4h0M259.8 89.0h0M260.0 82.1h0M260.1 89.5h0M260.3 81.9h0M260.3 89.3h0M260.5 81.5h0M260.5 89.6h0M260.6 81.3h0M260.8 90.3h0M260.9 80.8h0M261.0 90.3h0M261.2 81.1h0M261.3 90.8h0M261.5 80.9h0M261.4 90.2h0M261.6 80.4h0M261.8 90.2h0M261.9 80.8h0M261.8 90.0h0M262.0 80.2h0M262.2 91.3h0M262.5 79.8h0M262.3 90.8h0M262.6 79.6h0M262.7 91.0h0M262.7 79.6h0M262.8 92.2h0M262.9 80.0h0M263.0 92.0h0M263.3 80.1h0M263.4 90.4h0M263.6 81.1h0M263.4 89.8h0M263.8 81.4h0M263.7 89.8h0M264.1 81.7h0M263.9 89.4h0M264.1 82.3h0M264.1 88.7h0M264.3 82.6h0M264.5 88.7h0M264.6 82.9h0M264.7 88.5h0M264.8 83.1h0M264.9 88.1h0M265.1 83.6h0M265.1 87.6h0M265.3 83.9h0M265.4 87.5h0M265.6 84.1h0M265.6 87.0h0M265.7 84.4h0M265.9 86.8h0M266.0 84.6h0M266.0 86.5h0M266.0 85.6h0M266.2 84.9h0M266.3 86.3h0M266.3 85.6h0M266.4 85.1h0M266.6 86.1h0M266.5 85.6h0M268.8 85.6h0M269.2 85.3h0M269.2 85.9h0M269.1 85.6h0M269.2 85.3h0M269.3 86.0h0M269.3 85.6h0M269.6 85.3h0M269.4 85.9h0M269.5 85.6h0M271.8 85.6h0M272.3 85.6h0"/><path stroke="#ec235c" d="M256.1 104.9V105.9M256.2 104.6V106.1M256.4 104.3V106.2M256.5 104.1V106.7M256.6 103.8V106.8M256.8 103.6V106.8M256.9 103.3V107.7M257.1 103.2V107.6M257.2 102.9V107.6M257.3 102.5V107.9M257.5 102.7V107.6M257.6 102.9V107.9M257.7 102.9V107.4M257.9 103.3V107.5M258.0 103.5V106.8M258.1 103.6V107.0M258.3 103.6V107.6M258.4 103.7V107.0M258.5 103.9V106.5M258.7 103.9V106.5M258.8 104.2V106.5M258.9 104.2V106.5M259.1 104.2V106.6M259.2 103.9V106.9M259.3 103.7V106.9M259.5 103.2V106.9M259.6 103.0V107.4M259.7 102.8V107.7M259.9 102.6V107.4M260.0 101.9V109.1M260.1 101.9V108.5M260.3 101.7V108.1M260.4 101.7V109.6M260.5 101.0V108.6M260.7 100.4V110.5M260.8 100.3V110.1M260.9 99.9V111.1M261.1 100.5V110.3M261.2 100.6V110.3M261.3 100.5V110.3M261.5 100.8V109.9M261.6 100.9V109.3M261.7 100.9V110.3M261.9 101.2V109.6M262.0 101.3V109.3M262.1 101.5V109.2M262.3 101.8V108.7M262.4 102.1V108.4M262.5 102.3V108.3M262.7 102.4V108.4M262.8 102.8V107.9M262.9 103.2V107.5M263.1 103.3V107.3M263.2 103.7V106.8M263.3 103.9V106.5M263.5 104.2V106.4M263.6 104.2V106.3M263.8 104.4V106.2M263.9 104.6V106.0M264.0 104.9V105.5M264.2 105.0V105.6M253.6 105.3h0M255.5 104.9h0M255.6 105.6h0M255.6 105.3h0M255.7 104.7h0M255.8 105.9h0M255.7 105.3h0M255.8 104.4h0M255.9 106.2h0M255.8 105.3h0M256.0 104.2h0M255.9 106.5h0M256.0 105.3h0M256.1 103.9h0M256.1 106.9h0M256.3 103.6h0M256.3 107.1h0M256.4 103.3h0M256.4 107.2h0M256.5 103.1h0M256.6 107.7h0M256.7 102.8h0M256.7 107.8h0M256.7 102.6h0M256.8 107.8h0M257.0 102.3h0M256.9 108.7h0M257.0 102.2h0M257.1 108.6h0M257.2 101.9h0M257.2 108.6h0M257.3 101.5h0M257.3 108.9h0M257.5 101.7h0M257.4 108.6h0M257.6 101.9h0M257.7 108.9h0M257.7 101.9h0M257.7 108.4h0M257.8 102.3h0M257.9 108.5h0M258.0 102.5h0M258.0 107.8h0M258.1 102.6h0M258.2 108.0h0M258.3 102.6h0M258.2 108.6h0M258.4 102.7h0M258.4 108.0h0M258.5 102.9h0M258.5 107.5h0M258.6 102.9h0M258.7 107.5h0M258.8 103.2h0M258.8 107.5h0M258.9 103.2h0M258.9 107.5h0M259.1 103.2h0M259.0 107.6h0M259.2 102.9h0M259.1 107.9h0M259.4 102.7h0M259.3 107.9h0M259.4 102.2h0M259.5 107.9h0M259.6 102.0h0M259.6 108.4h0M259.7 101.8h0M259.7 108.7h0M259.9 101.6h0M259.9 108.4h0M259.9 100.9h0M259.9 110.1h0M260.2 100.9h0M260.1 109.5h0M260.3 100.7h0M260.2 109.1h0M260.4 100.7h0M260.4 110.6h0M260.6 100.0h0M260.5 109.6h0M260.7 99.4h0M260.7 111.5h0M260.8 99.3h0M260.7 111.1h0M260.9 98.9h0M261.0 112.1h0M261.1 99.5h0M261.1 111.3h0M261.2 99.6h0M261.2 111.3h0M261.3 99.5h0M261.4 111.3h0M261.5 99.8h0M261.5 110.9h0M261.7 99.9h0M261.6 110.3h0M261.7 99.9h0M261.7 111.3h0M261.8 100.2h0M261.9 110.6h0M262.0 100.3h0M262.0 110.3h0M262.1 100.5h0M262.2 110.2h0M262.3 100.8h0M262.3 109.7h0M262.3 101.1h0M262.4 109.4h0M262.6 101.3h0M262.5 109.3h0M262.6 101.4h0M262.7 109.4h0M262.9 101.8h0M262.8 108.9h0M262.9 102.2h0M262.9 108.5h0M263.0 102.3h0M263.1 108.3h0M263.2 102.7h0M263.3 107.8h0M263.4 102.9h0M263.4 107.5h0M263.4 103.2h0M263.4 107.4h0M263.6 103.2h0M263.6 107.3h0M263.8 103.4h0M263.8 107.2h0M263.9 103.6h0M263.9 107.0h0M264.1 103.9h0M264.0 106.5h0M264.1 104.0h0M264.2 106.6h0M264.3 104.3h0M264.2 106.3h0M264.3 105.3h0M264.4 104.5h0M264.5 106.2h0M264.4 105.3h0M264.6 104.7h0M264.6 105.8h0M264.6 105.3h0M264.7 104.9h0M264.8 105.6h0M264.7 105.3h0M266.8 105.3h0"/></g>
<line x1="63.0" x2="290.3" y1="125.4" y2="125.4" stroke="#555" stroke-width="0.9"/>
<line x1="82.7" x2="82.7" y1="125.4" y2="127.60000000000001" stroke="#555" stroke-width="0.7"/>
<text x="82.7" y="134.5" class="tk">−0.150</text>
<line x1="112.6" x2="112.6" y1="125.4" y2="127.60000000000001" stroke="#555" stroke-width="0.7"/>
<text x="112.6" y="134.5" class="tk">−0.125</text>
<line x1="142.6" x2="142.6" y1="125.4" y2="127.60000000000001" stroke="#555" stroke-width="0.7"/>
<text x="142.6" y="134.5" class="tk">−0.100</text>
<line x1="172.5" x2="172.5" y1="125.4" y2="127.60000000000001" stroke="#555" stroke-width="0.7"/>
<text x="172.5" y="134.5" class="tk">−0.075</text>
<line x1="202.5" x2="202.5" y1="125.4" y2="127.60000000000001" stroke="#555" stroke-width="0.7"/>
<text x="202.5" y="134.5" class="tk">−0.050</text>
<line x1="232.4" x2="232.4" y1="125.4" y2="127.60000000000001" stroke="#555" stroke-width="0.7"/>
<text x="232.4" y="134.5" class="tk">−0.025</text>
<line x1="262.4" x2="262.4" y1="125.4" y2="127.60000000000001" stroke="#555" stroke-width="0.7"/>
<text x="262.4" y="134.5" class="tk">0.000</text>
<text x="176.7" y="144" class="xl">SHAP value (impact on model output)</text>
<text x="48.7" y="29.7" class="rl">U-PS(L,N,S)</text>
<text x="48.7" y="49.4" class="rl">U-OB(L,N,S)</text>
<text x="48.7" y="69.1" class="rl">U-IB(L,N,S)</text>
<text x="48.7" y="88.8" class="rl">U-PE(L,N,S)</text>
<text x="48.7" y="108.5" class="rl">U-TS(L,N,S)</text>
<rect x="304" y="6" width="2" height="119" fill="url(#cb)"/>
<text x="308" y="9.3" class="cl">High</text>
<text x="308" y="128" class="cl">Low</text>
<text transform="translate(327.5,65.8) rotate(-90)" class="fv">Feature value</text>
</g></g>
<g transform="translate(352,168)">
<g transform="translate(0,0.45)">
<text x="0" y="0" class="lt" transform="translate(8.3,16.4) scale(0.94,1)">d</text>
<line x1="63.0" x2="290.3" y1="26.5" y2="26.5" stroke="#d8d8d8" stroke-width="0.6" stroke-dasharray="0.8 1.8"/>
<line x1="63.0" x2="290.3" y1="46.2" y2="46.2" stroke="#d8d8d8" stroke-width="0.6" stroke-dasharray="0.8 1.8"/>
<line x1="63.0" x2="290.3" y1="65.9" y2="65.9" stroke="#d8d8d8" stroke-width="0.6" stroke-dasharray="0.8 1.8"/>
<line x1="63.0" x2="290.3" y1="85.6" y2="85.6" stroke="#d8d8d8" stroke-width="0.6" stroke-dasharray="0.8 1.8"/>
<line x1="63.0" x2="290.3" y1="105.3" y2="105.3" stroke="#d8d8d8" stroke-width="0.6" stroke-dasharray="0.8 1.8"/>
<line x1="247.3" x2="247.3" y1="7.6" y2="125.4" stroke="#a2a2a6" stroke-width="0.9"/>
<g stroke-width="2.6" stroke-linecap="round" fill="none"><path stroke="#1c7ac0" d="M263.3 26.1V26.9M263.5 25.9V26.9M263.7 25.7V27.1M263.9 25.5V27.2M264.1 25.2V27.6M264.3 24.9V28.2M264.5 24.9V28.3M264.7 24.7V28.3M264.9 24.4V28.9M265.1 24.7V28.3M265.3 24.8V28.1M265.5 25.0V28.4M265.7 24.9V27.9M265.9 25.1V27.8M266.1 24.9V27.9M266.3 25.0V28.4M266.5 25.0V28.0M266.7 24.9V28.0M266.9 25.1V27.5M267.1 24.6V28.6M267.3 24.1V29.5M267.6 23.8V29.1M267.8 23.2V29.7M268.0 22.9V29.8M268.2 22.8V30.1M268.4 22.6V30.1M268.6 22.2V31.1M268.8 21.9V31.3M269.0 21.9V31.2M269.2 22.5V30.7M269.4 22.2V30.2M269.6 22.4V31.0M269.8 22.8V29.8M270.0 23.1V29.7M270.2 22.8V30.2M270.4 23.0V30.4M270.6 23.3V29.7M270.8 23.4V29.7M271.0 23.7V29.6M271.2 23.8V29.3M271.4 24.4V28.1M271.6 24.5V28.4M271.8 24.8V28.0M272.0 25.0V28.1M272.2 25.2V27.9M272.4 25.5V27.6M272.6 25.7V27.2M272.8 25.9V27.1M273.0 26.0V27.0M273.2 26.1V26.8M273.4 26.2V26.7M257.5 26.5h0M259.9 26.5h0M261.9 26.5h0M262.1 26.5h0M262.3 26.2h0M262.3 26.8h0M262.3 26.5h0M262.5 25.9h0M262.5 27.1h0M262.5 26.5h0M262.7 25.7h0M262.7 27.2h0M262.7 26.5h0M263.0 25.6h0M263.0 27.5h0M262.9 26.5h0M263.1 25.3h0M263.1 27.7h0M263.1 26.5h0M263.4 25.1h0M263.2 27.9h0M263.6 24.9h0M263.5 27.9h0M263.7 24.7h0M263.7 28.1h0M263.9 24.5h0M263.9 28.2h0M264.1 24.2h0M264.2 28.6h0M264.4 23.9h0M264.3 29.2h0M264.4 23.9h0M264.5 29.3h0M264.7 23.7h0M264.6 29.3h0M265.0 23.4h0M265.0 29.9h0M265.2 23.7h0M265.1 29.3h0M265.3 23.8h0M265.4 29.1h0M265.5 24.0h0M265.6 29.4h0M265.8 23.9h0M265.7 28.9h0M265.9 24.1h0M266.0 28.8h0M266.2 23.9h0M266.1 28.9h0M266.4 24.0h0M266.4 29.4h0M266.5 24.0h0M266.6 29.0h0M266.7 23.9h0M266.8 29.0h0M267.0 24.1h0M267.0 28.5h0M267.1 23.6h0M267.2 29.6h0M267.3 23.1h0M267.3 30.5h0M267.5 22.8h0M267.5 30.1h0M267.8 22.2h0M267.7 30.7h0M267.9 21.9h0M268.0 30.8h0M268.2 21.8h0M268.2 31.1h0M268.3 21.6h0M268.3 31.1h0M268.6 21.2h0M268.5 32.1h0M268.9 20.9h0M268.7 32.3h0M269.0 20.9h0M268.9 32.2h0M269.1 21.5h0M269.1 31.7h0M269.4 21.2h0M269.3 31.2h0M269.5 21.4h0M269.5 32.0h0M269.8 21.8h0M269.7 30.8h0M269.9 22.1h0M269.9 30.7h0M270.2 21.8h0M270.2 31.2h0M270.3 22.0h0M270.4 31.4h0M270.6 22.3h0M270.5 30.7h0M270.8 22.4h0M270.9 30.7h0M271.0 22.7h0M270.9 30.6h0M271.2 22.8h0M271.2 30.3h0M271.3 23.4h0M271.4 29.1h0M271.5 23.5h0M271.5 29.4h0M271.7 23.8h0M271.7 29.0h0M271.9 24.0h0M272.1 29.1h0M272.2 24.2h0M272.2 28.9h0M272.4 24.5h0M272.3 28.6h0M272.6 24.7h0M272.7 28.2h0M272.7 24.9h0M272.8 28.1h0M272.9 25.0h0M273.0 28.0h0M273.2 25.1h0M273.3 27.8h0M273.4 25.2h0M273.4 27.7h0M273.7 25.3h0M273.6 27.6h0M273.6 26.5h0M273.8 25.4h0M273.8 27.7h0M273.8 26.5h0M274.1 25.5h0M274.0 27.5h0M274.0 26.5h0M274.2 25.6h0M274.3 27.4h0M274.2 26.5h0M274.3 25.7h0M274.4 27.3h0M274.4 26.5h0M274.7 25.8h0M274.6 27.2h0M274.6 26.5h0M274.8 25.9h0M274.7 27.1h0M274.8 26.5h0M275.0 26.0h0M275.0 26.9h0M275.0 26.5h0M275.2 26.2h0M275.2 26.5h0M277.4 26.5h0"/><path stroke="#ec235c" d="M229.0 46.0V46.3M229.1 45.5V47.2M229.3 45.1V47.4M229.5 45.0V47.6M229.6 44.7V47.5M229.8 44.4V47.8M230.0 44.2V47.9M230.1 44.0V48.4M230.3 43.8V48.5M230.5 43.6V48.5M230.6 43.8V48.7M230.8 44.2V48.3M231.0 44.3V48.3M231.1 44.0V48.1M231.3 44.1V48.4M231.5 44.2V48.5M231.7 44.0V48.3M231.8 44.0V48.1M232.0 43.8V48.2M232.2 44.0V48.6M232.3 43.7V48.8M232.5 43.1V49.3M232.7 43.1V49.7M232.8 43.0V49.4M233.0 42.7V49.6M233.2 42.7V49.3M233.3 42.2V50.7M233.5 42.2V50.0M233.7 42.2V50.5M233.9 42.1V50.5M234.0 41.8V50.4M234.2 41.9V50.2M234.4 42.0V50.1M234.5 42.4V49.6M234.7 41.7V50.6M234.9 41.9V50.2M235.0 41.7V50.3M235.2 41.8V51.1M235.4 42.1V50.7M235.5 42.3V50.6M235.7 42.3V50.2M235.9 42.6V50.2M236.0 42.5V49.5M236.2 43.0V48.7M236.4 43.3V49.0M236.6 43.2V49.7M236.7 43.5V49.1M236.9 43.7V48.4M237.1 44.0V48.5M237.2 43.8V48.7M237.4 44.1V48.0M237.6 44.3V48.4M237.7 44.6V48.3M237.9 44.8V47.5M238.1 45.2V47.3M238.2 45.5V46.9M238.4 45.7V46.8M238.6 45.9V46.5M226.6 46.2h0M227.3 46.2h0M227.4 45.9h0M227.4 46.2h0M227.6 45.8h0M227.7 46.6h0M227.6 46.2h0M227.7 45.8h0M227.8 46.6h0M227.8 46.2h0M228.0 45.7h0M227.9 46.7h0M227.9 46.2h0M228.2 45.7h0M228.2 46.6h0M228.1 46.2h0M228.3 45.6h0M228.3 46.8h0M228.3 46.2h0M228.4 45.6h0M228.5 46.8h0M228.4 46.2h0M228.6 45.4h0M228.5 47.0h0M228.6 46.2h0M228.9 45.1h0M228.8 47.2h0M228.8 46.2h0M229.0 45.0h0M229.0 47.3h0M229.1 44.5h0M229.0 48.2h0M229.4 44.1h0M229.4 48.4h0M229.4 44.0h0M229.4 48.6h0M229.6 43.7h0M229.7 48.5h0M229.8 43.4h0M229.8 48.8h0M229.9 43.2h0M230.0 48.9h0M230.2 43.0h0M230.1 49.4h0M230.3 42.8h0M230.4 49.5h0M230.5 42.6h0M230.4 49.5h0M230.6 42.8h0M230.6 49.7h0M230.8 43.2h0M230.9 49.3h0M230.9 43.3h0M231.0 49.3h0M231.1 43.0h0M231.1 49.1h0M231.4 43.1h0M231.3 49.4h0M231.5 43.2h0M231.6 49.5h0M231.7 43.0h0M231.7 49.3h0M231.7 43.0h0M231.9 49.1h0M232.0 42.8h0M232.0 49.2h0M232.1 43.0h0M232.2 49.6h0M232.3 42.7h0M232.3 49.8h0M232.5 42.1h0M232.5 50.3h0M232.6 42.1h0M232.7 50.7h0M232.9 42.0h0M232.8 50.4h0M233.0 41.7h0M233.1 50.6h0M233.2 41.7h0M233.2 50.3h0M233.4 41.2h0M233.3 51.7h0M233.5 41.2h0M233.5 51.0h0M233.7 41.2h0M233.6 51.5h0M233.9 41.1h0M233.9 51.5h0M234.1 40.8h0M234.1 51.4h0M234.1 40.9h0M234.2 51.2h0M234.4 41.0h0M234.4 51.1h0M234.5 41.4h0M234.5 50.6h0M234.7 40.7h0M234.7 51.6h0M234.8 40.9h0M234.9 51.2h0M235.1 40.7h0M235.0 51.3h0M235.2 40.8h0M235.1 52.1h0M235.3 41.1h0M235.4 51.7h0M235.5 41.3h0M235.6 51.6h0M235.7 41.3h0M235.8 51.2h0M235.9 41.6h0M235.8 51.2h0M236.1 41.5h0M236.1 50.5h0M236.2 42.0h0M236.2 49.7h0M236.4 42.3h0M236.3 50.0h0M236.6 42.2h0M236.6 50.7h0M236.7 42.5h0M236.7 50.1h0M236.9 42.7h0M236.9 49.4h0M237.0 43.0h0M237.1 49.5h0M237.2 42.8h0M237.2 49.7h0M237.4 43.1h0M237.4 49.0h0M237.6 43.3h0M237.6 49.4h0M237.8 43.6h0M237.7 49.3h0M238.0 43.8h0M237.9 48.5h0M238.1 44.2h0M238.1 48.3h0M238.3 44.5h0M238.2 47.9h0M238.5 44.7h0M238.4 47.8h0M238.6 44.9h0M238.5 47.5h0M238.8 45.1h0M238.7 47.3h0M238.8 46.2h0M239.0 45.2h0M239.0 47.3h0M238.9 46.2h0M239.1 45.2h0M239.1 47.2h0M239.1 46.2h0M239.3 45.4h0M239.3 47.0h0M239.3 46.2h0M239.5 45.6h0M239.4 46.8h0M239.4 46.2h0M239.5 45.7h0M239.7 46.6h0M239.6 46.2h0M239.8 45.8h0M239.7 46.6h0M239.8 46.2h0M242.1 46.2h0M243.3 46.2h0"/><path stroke="#1c7ac0" d="M226.9 65.2V66.7M229.0 64.9V66.8M231.0 64.1V67.3M233.1 62.5V69.4M235.2 61.4V70.8M237.2 61.6V70.9M239.3 62.7V68.9M241.4 62.3V69.7M243.4 62.4V69.3M245.5 62.7V69.0M247.6 64.2V67.4M249.6 64.8V66.8M251.7 64.9V66.9M220.7 65.9h0M221.8 65.5h0M223.5 66.3h0M222.8 65.9h0M225.1 65.2h0M225.8 66.7h0M224.9 65.9h0M226.4 64.2h0M226.8 67.7h0M228.1 63.9h0M228.9 67.8h0M231.9 63.1h0M231.7 68.3h0M233.8 61.5h0M234.1 70.4h0M234.2 60.4h0M235.9 71.8h0M238.1 60.6h0M237.9 71.9h0M238.7 61.7h0M238.5 69.9h0M241.2 61.3h0M241.7 70.7h0M243.3 61.4h0M243.5 70.3h0M246.1 61.7h0M244.6 70.0h0M247.6 63.2h0M247.4 68.4h0M249.6 63.8h0M249.8 67.8h0M251.2 63.9h0M252.2 67.9h0M253.4 65.3h0M254.1 66.4h0M253.7 65.9h0M255.7 65.2h0M255.0 66.5h0M255.8 65.9h0M257.6 65.2h0M258.1 66.6h0M257.9 65.9h0M260.3 65.2h0M260.9 66.6h0M259.9 65.9h0M261.2 65.2h0M261.5 66.7h0M262.0 65.9h0M264.6 65.2h0M263.7 66.6h0M264.1 65.9h0M265.3 65.9h0M73.5 65.9h0M279.8 65.9h0"/><path stroke="#1c7ac0" d="M239.1 85.2V85.8M239.3 85.1V86.1M239.5 84.8V86.8M239.7 84.7V86.7M239.9 84.3V87.0M240.1 84.1V87.0M240.3 83.9V87.6M240.5 84.1V86.9M240.7 84.6V86.9M240.9 84.8V86.5M241.1 85.1V86.2M241.3 85.4V85.7M242.7 85.0V86.2M242.9 84.6V86.6M243.0 84.1V87.3M243.2 83.7V88.1M243.4 83.0V87.6M243.6 82.9V88.2M243.8 82.6V88.7M244.0 82.4V89.3M244.2 82.4V88.4M244.4 82.6V89.0M244.6 82.4V88.8M244.8 82.3V89.0M245.0 82.5V88.8M245.2 82.4V89.3M245.4 82.3V88.8M245.6 82.3V88.8M245.8 82.1V88.8M246.0 81.9V89.4M246.2 81.9V89.3M246.4 81.6V89.3M246.6 81.3V89.6M246.8 81.6V89.6M246.9 81.5V89.3M247.1 81.3V89.6M247.3 81.5V90.4M247.5 81.5V89.9M247.7 81.4V89.4M247.9 81.5V89.4M248.1 82.0V88.7M248.3 82.0V89.5M248.5 82.2V89.4M248.7 82.4V88.7M248.9 82.5V88.2M249.1 82.3V89.2M249.3 82.7V88.3M249.5 82.7V88.3M249.7 83.0V87.4M249.9 83.1V88.1M250.1 83.6V87.5M250.3 83.6V87.8M250.5 83.5V87.5M250.7 83.8V87.3M250.8 83.8V87.5M251.0 84.0V86.9M251.2 84.4V86.7M251.4 84.4V87.1M251.6 84.8V86.6M251.8 84.7V86.4M252.0 85.0V86.3M252.2 85.2V85.7M237.2 85.6h0M237.8 85.6h0M238.0 85.2h0M238.0 86.0h0M238.0 85.6h0M238.2 85.1h0M238.2 86.1h0M238.2 85.6h0M238.3 85.1h0M238.3 86.1h0M238.4 85.6h0M238.6 84.9h0M238.6 86.3h0M238.6 85.6h0M238.8 84.7h0M238.7 86.4h0M238.8 85.6h0M238.9 84.4h0M238.9 86.8h0M239.0 85.6h0M239.2 84.2h0M239.2 86.8h0M239.3 84.1h0M239.4 87.1h0M239.6 83.8h0M239.6 87.8h0M239.7 83.7h0M239.8 87.7h0M240.0 83.3h0M240.0 88.0h0M240.1 83.1h0M240.2 88.0h0M240.3 82.9h0M240.3 88.6h0M240.4 83.1h0M240.5 87.9h0M240.8 83.6h0M240.7 87.9h0M240.9 83.8h0M240.9 87.5h0M241.2 84.1h0M241.1 87.2h0M241.4 84.4h0M241.3 86.7h0M241.4 84.7h0M241.5 86.5h0M241.5 85.6h0M241.7 85.0h0M241.8 86.2h0M241.7 85.6h0M242.3 85.0h0M242.2 86.2h0M242.3 85.6h0M242.5 84.5h0M242.6 86.6h0M242.5 85.6h0M242.7 84.0h0M242.6 87.2h0M242.9 83.6h0M242.9 87.6h0M243.1 83.1h0M243.1 88.3h0M243.2 82.7h0M243.2 89.1h0M243.5 82.0h0M243.4 88.6h0M243.6 81.9h0M243.7 89.2h0M243.9 81.6h0M243.8 89.7h0M244.0 81.4h0M243.9 90.3h0M244.3 81.4h0M244.2 89.4h0M244.5 81.6h0M244.4 90.0h0M244.5 81.4h0M244.6 89.8h0M244.9 81.3h0M244.8 90.0h0M245.0 81.5h0M245.1 89.8h0M245.3 81.4h0M245.3 90.3h0M245.5 81.3h0M245.4 89.8h0M245.6 81.3h0M245.7 89.8h0M245.8 81.1h0M245.8 89.8h0M245.9 80.9h0M246.0 90.4h0M246.2 80.9h0M246.2 90.3h0M246.4 80.6h0M246.5 90.3h0M246.6 80.3h0M246.5 90.6h0M246.8 80.6h0M246.8 90.6h0M246.9 80.5h0M246.9 90.3h0M247.1 80.3h0M247.2 90.6h0M247.3 80.5h0M247.4 91.4h0M247.5 80.5h0M247.5 90.9h0M247.8 80.4h0M247.8 90.4h0M247.9 80.5h0M248.0 90.4h0M248.2 81.0h0M248.1 89.7h0M248.3 81.0h0M248.3 90.5h0M248.6 81.2h0M248.5 90.4h0M248.7 81.4h0M248.7 89.7h0M248.9 81.5h0M249.0 89.2h0M249.1 81.3h0M249.1 90.2h0M249.3 81.7h0M249.3 89.3h0M249.4 81.7h0M249.5 89.3h0M249.6 82.0h0M249.8 88.4h0M250.0 82.1h0M249.9 89.1h0M250.0 82.6h0M250.0 88.5h0M250.3 82.6h0M250.2 88.8h0M250.5 82.5h0M250.4 88.5h0M250.6 82.8h0M250.6 88.3h0M250.8 82.8h0M250.8 88.5h0M251.0 83.0h0M251.1 87.9h0M251.2 83.4h0M251.2 87.7h0M251.4 83.4h0M251.4 88.1h0M251.7 83.8h0M251.7 87.6h0M251.8 83.7h0M251.9 87.4h0M252.0 84.0h0M252.0 87.3h0M252.2 84.2h0M252.2 86.7h0M252.3 84.5h0M252.4 86.7h0M252.4 85.6h0M252.7 84.9h0M252.7 86.4h0M252.6 85.6h0M252.8 85.2h0M252.8 86.0h0M252.8 85.6h0M255.1 85.6h0M256.5 85.6h0"/><path stroke="#ec235c" d="M242.9 104.9V105.6M243.0 104.8V105.7M243.1 104.4V106.0M243.2 104.1V106.8M243.3 104.0V106.7M243.4 103.6V106.8M243.5 103.4V107.3M243.6 103.1V107.6M243.7 102.9V107.8M243.9 102.6V108.0M244.0 102.5V107.8M244.1 102.3V108.5M244.2 102.0V108.6M244.3 101.9V108.9M244.4 101.9V108.4M244.5 101.6V109.0M244.6 101.7V108.3M244.7 101.3V109.1M244.8 101.5V108.6M244.9 101.5V109.8M245.0 101.1V109.3M245.1 101.3V109.7M245.3 101.0V109.6M245.4 100.5V110.7M245.5 100.8V110.2M245.6 100.8V110.0M245.7 100.9V110.1M245.8 100.7V110.0M245.9 100.4V110.8M246.0 100.7V110.1M246.1 100.9V109.7M246.2 100.9V109.9M246.3 100.6V110.7M246.4 101.0V109.0M246.6 100.6V110.1M246.7 100.9V110.1M246.8 100.6V110.3M246.9 100.7V110.6M247.0 100.7V109.9M247.1 101.2V108.8M247.2 100.9V109.9M247.3 101.3V109.9M247.4 101.2V109.2M247.5 101.2V108.9M247.6 101.0V109.0M247.7 101.4V108.7M247.9 101.2V109.5M248.0 101.5V108.3M248.1 101.6V109.1M248.2 101.6V109.3M248.3 102.1V109.1M248.4 102.0V108.8M248.5 102.2V107.9M248.6 102.5V108.3M248.7 102.7V108.4M248.8 103.1V107.2M248.9 102.9V107.7M249.0 103.5V107.2M249.1 103.5V107.1M249.3 103.7V107.1M249.4 103.8V106.7M249.5 103.9V106.5M249.6 104.3V106.6M249.7 104.4V106.3M249.8 104.5V106.1M249.9 104.5V106.0M250.0 104.7V106.0M250.1 104.8V105.9M250.2 104.9V105.8M250.3 105.0V105.7M241.2 105.3h0M241.7 105.3h0M241.8 105.0h0M241.8 105.6h0M241.8 105.3h0M241.9 104.9h0M241.9 105.7h0M241.9 105.3h0M242.0 104.8h0M242.1 105.8h0M242.0 105.3h0M242.2 104.8h0M242.1 105.7h0M242.1 105.3h0M242.2 104.7h0M242.2 105.8h0M242.2 105.3h0M242.3 104.7h0M242.4 105.9h0M242.3 105.3h0M242.4 104.6h0M242.4 105.9h0M242.5 105.3h0M242.5 104.6h0M242.5 106.0h0M242.6 105.3h0M242.6 104.4h0M242.6 106.3h0M242.7 105.3h0M242.7 104.2h0M242.8 106.4h0M242.8 105.3h0M242.9 103.9h0M242.8 106.6h0M243.0 103.8h0M243.0 106.7h0M243.1 103.4h0M243.0 107.0h0M243.2 103.1h0M243.2 107.8h0M243.3 103.0h0M243.3 107.7h0M243.4 102.6h0M243.4 107.8h0M243.5 102.4h0M243.6 108.3h0M243.6 102.1h0M243.6 108.6h0M243.7 101.9h0M243.8 108.8h0M243.9 101.6h0M243.8 109.0h0M243.9 101.5h0M244.0 108.8h0M244.0 101.3h0M244.0 109.5h0M244.1 101.0h0M244.2 109.6h0M244.3 100.9h0M244.3 109.9h0M244.4 100.9h0M244.4 109.4h0M244.5 100.6h0M244.5 110.0h0M244.6 100.7h0M244.6 109.3h0M244.7 100.3h0M244.7 110.1h0M244.9 100.5h0M244.8 109.6h0M244.9 100.5h0M245.0 110.8h0M245.1 100.1h0M245.1 110.3h0M245.2 100.3h0M245.1 110.7h0M245.3 100.0h0M245.3 110.6h0M245.4 99.5h0M245.4 111.7h0M245.5 99.8h0M245.5 111.2h0M245.6 99.8h0M245.6 111.0h0M245.7 99.9h0M245.7 111.1h0M245.8 99.7h0M245.8 111.0h0M245.9 99.4h0M245.9 111.8h0M246.0 99.7h0M246.0 111.1h0M246.1 99.9h0M246.1 110.7h0M246.3 99.9h0M246.2 110.9h0M246.3 99.6h0M246.3 111.7h0M246.5 100.0h0M246.5 110.0h0M246.5 99.6h0M246.5 111.1h0M246.7 99.9h0M246.7 111.1h0M246.8 99.6h0M246.8 111.3h0M246.9 99.7h0M246.9 111.6h0M247.0 99.7h0M246.9 110.9h0M247.1 100.2h0M247.1 109.8h0M247.2 99.9h0M247.2 110.9h0M247.3 100.3h0M247.3 110.9h0M247.4 100.2h0M247.4 110.2h0M247.6 100.2h0M247.5 109.9h0M247.6 100.0h0M247.6 110.0h0M247.8 100.4h0M247.8 109.7h0M247.8 100.2h0M247.9 110.5h0M248.0 100.5h0M248.0 109.3h0M248.1 100.6h0M248.1 110.1h0M248.2 100.6h0M248.2 110.3h0M248.3 101.1h0M248.3 110.1h0M248.4 101.0h0M248.3 109.8h0M248.5 101.2h0M248.5 108.9h0M248.6 101.5h0M248.6 109.3h0M248.7 101.7h0M248.7 109.4h0M248.8 102.1h0M248.9 108.2h0M248.9 101.9h0M248.9 108.7h0M249.1 102.5h0M249.1 108.2h0M249.1 102.5h0M249.1 108.1h0M249.2 102.7h0M249.3 108.1h0M249.3 102.8h0M249.4 107.7h0M249.5 102.9h0M249.5 107.5h0M249.6 103.3h0M249.6 107.6h0M249.7 103.4h0M249.6 107.3h0M249.8 103.5h0M249.8 107.1h0M249.9 103.5h0M249.9 107.0h0M250.1 103.7h0M250.0 107.0h0M250.1 103.8h0M250.1 106.9h0M250.3 103.9h0M250.2 106.8h0M250.4 104.0h0M250.3 106.7h0M250.5 104.1h0M250.4 106.3h0M250.4 105.3h0M250.5 104.2h0M250.6 106.4h0M250.5 105.3h0M250.6 104.3h0M250.6 106.3h0M250.7 105.3h0M250.7 104.4h0M250.8 106.1h0M250.8 105.3h0M250.9 104.6h0M250.9 106.1h0M250.9 105.3h0M251.0 104.7h0M251.0 105.8h0M251.0 105.3h0M251.1 104.9h0M251.1 105.7h0M251.1 105.3h0M251.8 105.3h0"/></g>
<line x1="63.0" x2="290.3" y1="125.4" y2="125.4" stroke="#555" stroke-width="0.9"/>
<line x1="70.2" x2="70.2" y1="125.4" y2="127.60000000000001" stroke="#555" stroke-width="0.7"/>
<text x="70.2" y="134.5" class="tk">−0.14</text>
<line x1="95.5" x2="95.5" y1="125.4" y2="127.60000000000001" stroke="#555" stroke-width="0.7"/>
<text x="95.5" y="134.5" class="tk">−0.12</text>
<line x1="120.8" x2="120.8" y1="125.4" y2="127.60000000000001" stroke="#555" stroke-width="0.7"/>
<text x="120.8" y="134.5" class="tk">−0.10</text>
<line x1="146.1" x2="146.1" y1="125.4" y2="127.60000000000001" stroke="#555" stroke-width="0.7"/>
<text x="146.1" y="134.5" class="tk">−0.08</text>
<line x1="171.4" x2="171.4" y1="125.4" y2="127.60000000000001" stroke="#555" stroke-width="0.7"/>
<text x="171.4" y="134.5" class="tk">−0.06</text>
<line x1="196.7" x2="196.7" y1="125.4" y2="127.60000000000001" stroke="#555" stroke-width="0.7"/>
<text x="196.7" y="134.5" class="tk">−0.04</text>
<line x1="222.0" x2="222.0" y1="125.4" y2="127.60000000000001" stroke="#555" stroke-width="0.7"/>
<text x="222.0" y="134.5" class="tk">−0.02</text>
<line x1="247.3" x2="247.3" y1="125.4" y2="127.60000000000001" stroke="#555" stroke-width="0.7"/>
<text x="247.3" y="134.5" class="tk">0.00</text>
<line x1="272.6" x2="272.6" y1="125.4" y2="127.60000000000001" stroke="#555" stroke-width="0.7"/>
<text x="272.6" y="134.5" class="tk">0.02</text>
<text x="176.7" y="144" class="xl">SHAP value (impact on model output)</text>
<text x="48.7" y="29.7" class="rl">U-IB(L,N,S)</text>
<text x="48.7" y="49.4" class="rl">U-OB(L,N,S)</text>
<text x="48.7" y="69.1" class="rl">U-PS(L,N,S)</text>
<text x="48.7" y="88.8" class="rl">U-PE(L,N,S)</text>
<text x="48.7" y="108.5" class="rl">U-TS(L,N,S)</text>
<rect x="304" y="6" width="2" height="119" fill="url(#cb)"/>
<text x="308" y="9.3" class="cl">High</text>
<text x="308" y="128" class="cl">Low</text>
<text transform="translate(327.5,65.8) rotate(-90)" class="fv">Feature value</text>
</g></g>
<g transform="translate(0,327)">
<g transform="translate(0,0.2)">
<text x="0" y="0" class="lt" transform="translate(9.100000000000001,16.4) scale(0.94,1)">e</text>
<line x1="63.0" x2="290.3" y1="26.5" y2="26.5" stroke="#d8d8d8" stroke-width="0.6" stroke-dasharray="0.8 1.8"/>
<line x1="63.0" x2="290.3" y1="46.2" y2="46.2" stroke="#d8d8d8" stroke-width="0.6" stroke-dasharray="0.8 1.8"/>
<line x1="63.0" x2="290.3" y1="65.9" y2="65.9" stroke="#d8d8d8" stroke-width="0.6" stroke-dasharray="0.8 1.8"/>
<line x1="63.0" x2="290.3" y1="85.6" y2="85.6" stroke="#d8d8d8" stroke-width="0.6" stroke-dasharray="0.8 1.8"/>
<line x1="63.0" x2="290.3" y1="105.3" y2="105.3" stroke="#d8d8d8" stroke-width="0.6" stroke-dasharray="0.8 1.8"/>
<line x1="102.4" x2="102.4" y1="7.6" y2="125.4" stroke="#a2a2a6" stroke-width="0.9"/>
<g stroke-width="2.6" stroke-linecap="round" fill="none"><path stroke="#1c7ac0" d="M158.8 25.9h0M177.8 28.5h0M184.7 26.5h0M159.6 27.1h0M173.8 26.5h0M174.9 23.4h0M168.7 29.6h0M175.3 27.5h0M184.2 20.5h0M198.9 21.3h0M164.4 25.6h0M180.2 24.6h0M170.3 23.0h0M177.1 29.4h0M170.6 27.5h0"/><path stroke="#ec235c" d="M253.4 28.8h0M208.6 24.7h0M246.1 25.6h0M266.2 26.5h0M254.0 27.7h0"/><path stroke="#d4128a" d="M190.9 29.8h0M192.2 31.0h0M191.0 21.7h0M195.0 30.3h0M190.1 28.5h0M194.0 29.8h0M189.7 24.5h0M235.2 26.5h0M198.0 30.6h0M178.7 20.9h0"/><path stroke="#1c7ac0" d="M162.4 24.7h0M190.9 23.6h0M206.8 26.5h0M166.3 23.9h0M200.0 25.6h0M161.7 27.3h0M186.0 31.2h0M202.0 27.6h0M184.4 31.2h0M173.9 30.9h0M201.8 23.2h0M166.3 25.6h0M175.8 32.6h0"/><path stroke="#d4128a" d="M193.4 26.5h0M195.7 28.4h0M187.7 25.5h0M199.6 23.7h0M184.2 21.5h0M203.4 31.5h0M186.6 21.0h0M179.4 25.6h0M186.1 23.7h0M250.7 25.2h0"/><path stroke="#ec235c" d="M222.7 26.5h0M212.3 24.8h0M232.3 27.2h0M249.7 26.5h0M214.9 25.8h0M256.4 26.5h0M186.7 23.5h0"/><path stroke="#d4128a" d="M180.2 32.7h0M208.3 27.4h0M203.6 28.5h0M187.6 27.7h0M217.7 27.1h0M184.4 22.5h0M184.9 29.3h0M201.7 26.5h0M181.4 29.3h0M258.6 26.5h0"/><path stroke="#ec235c" d="M245.5 27.1h0M250.4 27.9h0M253.5 24.0h0M231.6 27.3h0M264.3 26.5h0M253.3 26.5h0M201.4 28.6h0M238.8 26.5h0M210.3 26.5h0M255.6 25.3h0M255.7 26.5h0M200.6 22.8h0M215.2 26.5h0"/><path stroke="#1c7ac0" d="M144.7 26.5h0M167.0 27.7h0M180.5 30.3h0M185.9 32.2h0M174.6 29.5h0M157.9 26.5h0M163.3 27.4h0"/><path stroke="#d4128a" d="M188.9 31.6h0M196.1 31.2h0M187.9 26.5h0M184.4 32.1h0M167.9 28.8h0M182.8 23.5h0M195.5 26.5h0M195.0 29.3h0M182.0 26.5h0M190.3 30.6h0M195.9 25.5h0M197.2 29.6h0"/><path stroke="#ec235c" d="M221.0 26.5h0M226.8 26.0h0M229.6 25.7h0M203.1 22.3h0"/><path stroke="#1c7ac0" d="M175.5 21.3h0M182.8 28.4h0M75.2 26.5h0M159.7 26.5h0M193.8 25.5h0M175.6 30.6h0M161.7 26.5h0M176.5 24.5h0M161.2 28.1h0M209.0 26.5h0M193.9 31.0h0M175.0 22.3h0M212.1 28.0h0M164.8 26.5h0"/><path stroke="#ec235c" d="M279.8 26.5h0M249.3 25.3h0M257.3 27.7h0M245.9 25.9h0M212.9 27.3h0M247.0 26.5h0M215.6 26.5h0M233.1 26.5h0M216.4 27.2h0M251.3 26.5h0"/><path stroke="#1c7ac0" d="M172.5 23.3h0M185.3 30.3h0M176.6 25.5h0M204.4 23.3h0M174.5 31.6h0M172.8 28.7h0M171.7 25.3h0M168.2 27.5h0M164.2 27.4h0M184.2 30.2h0M206.0 29.4h0M165.9 28.3h0M176.2 26.5h0"/><path stroke="#d4128a" d="M200.4 28.3h0M188.9 26.5h0M197.8 31.6h0M180.8 24.5h0M204.4 25.4h0M187.2 30.0h0M206.1 28.4h0"/><path stroke="#1c7ac0" d="M170.0 25.5h0M162.5 25.6h0M154.9 26.5h0M202.2 29.7h0M179.2 30.6h0M201.7 25.4h0M204.6 29.5h0M175.7 20.3h0M176.6 23.6h0M174.7 28.5h0M186.9 22.5h0M160.7 25.6h0M170.2 28.6h0M184.3 24.5h0"/><path stroke="#d4128a" d="M150.8 26.5h0M171.6 29.5h0M178.7 21.8h0M202.5 22.1h0M180.2 31.7h0M211.4 26.5h0M255.5 27.7h0M185.2 24.7h0M197.4 22.3h0M194.1 22.3h0M210.1 27.8h0M193.7 24.4h0"/><path stroke="#ec235c" d="M213.8 27.2h0M230.2 26.5h0M211.3 25.7h0M270.6 26.5h0"/><path stroke="#1c7ac0" d="M170.3 24.5h0M200.9 24.6h0M180.9 22.4h0M164.3 24.7h0M163.0 28.3h0M190.8 27.6h0M202.3 30.7h0M198.3 26.5h0M178.2 31.4h0M175.2 24.4h0"/><path stroke="#ec235c" d="M247.8 27.2h0M191.7 26.5h0M249.6 27.5h0M253.6 25.3h0M244.9 26.5h0M206.8 23.3h0M200.1 26.5h0M209.3 25.3h0"/><path stroke="#d4128a" d="M187.3 28.8h0M181.1 28.4h0M197.0 28.6h0M200.0 21.8h0M206.3 25.4h0M199.4 29.2h0M202.5 24.3h0M189.3 29.6h0M243.5 26.5h0M197.0 24.4h0M197.8 23.4h0M184.7 25.6h0"/><path stroke="#d4128a" d="M184.2 26.5h0M190.0 27.5h0M195.1 27.4h0M178.3 27.5h0M187.5 24.5h0M173.0 24.3h0M205.8 24.4h0M195.4 22.4h0M191.6 24.6h0M194.9 24.4h0"/><path stroke="#1c7ac0" d="M186.4 28.4h0M166.7 26.5h0M166.9 24.8h0M170.7 24.2h0M180.2 20.0h0M166.0 29.1h0M193.0 28.7h0M142.7 26.5h0M203.1 27.5h0M185.3 22.8h0M198.1 25.5h0M175.7 25.5h0M172.6 25.4h0M182.6 29.3h0"/><path stroke="#ec235c" d="M208.1 25.6h0M200.0 31.0h0M216.0 25.7h0M229.2 26.5h0M191.3 28.7h0M208.8 23.9h0"/><path stroke="#1c7ac0" d="M180.3 28.6h0M172.6 29.8h0M170.5 26.5h0M177.3 22.6h0M180.1 22.8h0M176.5 21.6h0M166.2 23.8h0M185.5 21.9h0M163.5 26.5h0M160.9 24.8h0M182.8 27.4h0M181.6 27.4h0"/><path stroke="#d4128a" d="M190.8 25.5h0M180.0 23.7h0M182.1 31.2h0M208.0 29.2h0M185.1 27.4h0M194.1 27.6h0M181.7 23.4h0M178.1 30.4h0M190.1 25.5h0M196.3 21.3h0M169.8 26.5h0"/><path stroke="#ec235c" d="M228.4 27.2h0M200.4 30.1h0M226.7 26.5h0M231.8 25.9h0M257.8 25.5h0M262.5 26.5h0"/><path stroke="#1c7ac0" d="M205.0 26.5h0M205.0 30.5h0M177.1 26.5h0M205.4 27.5h0M171.2 28.5h0M173.9 22.2h0M182.8 25.5h0M169.6 23.5h0M182.5 21.4h0M173.9 27.6h0"/><path stroke="#d4128a" d="M190.6 22.6h0M189.7 23.5h0M179.7 27.5h0M268.2 26.5h0M180.0 26.5h0M219.1 26.5h0M191.0 22.7h0M179.6 29.6h0M197.5 27.5h0M181.5 25.5h0M229.4 25.7h0M199.0 27.4h0M204.1 24.4h0M189.5 21.6h0M192.9 23.4h0"/><path stroke="#ec235c" d="M208.5 28.3h0M195.7 23.4h0M225.3 26.5h0M219.3 25.9h0"/><path stroke="#d4128a" d="M133.6 46.2h0M115.4 48.6h0M120.3 47.2h0M118.3 45.1h0M112.2 45.3h0M117.6 41.4h0M117.5 50.7h0M116.0 47.2h0M118.3 46.2h0M117.0 49.5h0M122.4 43.1h0M114.9 43.8h0M115.9 43.3h0M113.1 44.3h0M119.0 46.2h0M112.4 47.9h0M135.9 46.2h0M120.9 43.1h0M124.7 46.2h0M121.5 49.3h0M120.4 49.2h0M114.7 45.3h0M116.2 49.3h0M117.2 44.0h0M110.9 47.1h0M125.5 47.1h0"/><path stroke="#ec235c" d="M133.7 47.2h0M127.4 43.5h0M119.7 50.5h0M127.3 47.3h0M117.3 50.3h0M123.2 45.2h0M120.4 51.2h0M127.1 49.2h0M126.6 45.3h0M116.7 48.4h0M125.5 45.3h0M125.2 42.4h0M134.0 45.5h0M124.9 42.5h0M125.6 46.2h0M128.7 42.4h0M127.8 40.8h0M126.9 46.2h0M111.1 47.9h0M127.3 46.2h0M128.4 48.1h0M127.2 41.6h0M129.9 42.7h0"/><path stroke="#1c7ac0" d="M125.8 44.1h0M122.9 44.2h0M122.3 41.0h0M120.1 42.0h0M120.5 48.1h0M119.2 40.8h0M118.4 47.3h0"/><path stroke="#d4128a" d="M118.7 41.0h0M119.0 50.9h0M117.0 48.3h0M120.2 50.2h0M122.7 42.1h0M120.2 44.1h0M122.4 42.1h0M118.3 42.8h0M127.3 48.3h0M119.2 49.9h0M109.0 45.4h0M119.9 43.0h0M115.2 47.4h0M113.5 47.1h0M111.1 45.4h0M117.7 48.4h0"/><path stroke="#ec235c" d="M115.2 45.3h0M128.5 51.0h0M122.6 50.1h0M134.9 46.2h0M129.0 41.4h0M123.9 48.9h0M129.3 45.3h0M125.3 49.4h0M128.0 48.2h0M133.0 47.5h0M127.2 51.2h0M127.0 50.2h0M130.5 47.1h0M123.3 43.3h0M132.4 45.3h0M118.6 44.1h0M124.8 49.5h0M129.7 43.5h0M118.7 48.3h0M126.5 48.3h0M125.0 50.4h0M129.9 43.9h0M126.1 40.9h0M123.1 48.3h0M126.2 48.3h0M127.9 49.2h0M124.7 44.3h0M127.0 41.2h0M128.4 46.2h0"/><path stroke="#1c7ac0" d="M127.9 44.0h0M125.4 40.6h0M120.9 41.1h0M122.8 45.2h0M130.3 45.1h0M130.3 43.9h0M121.3 45.2h0M120.0 49.5h0M131.8 44.1h0M128.3 49.2h0M120.6 45.1h0"/><path stroke="#ec235c" d="M131.6 47.1h0M130.9 48.2h0M129.8 47.2h0M138.3 46.2h0M129.2 47.3h0M127.9 43.0h0M122.3 49.1h0M127.7 45.1h0M129.1 43.5h0M130.6 46.2h0M120.6 49.1h0M123.5 47.3h0M127.2 48.2h0M124.9 50.6h0M109.2 45.2h0M123.4 47.2h0M133.1 45.0h0M133.5 45.2h0M127.8 46.2h0M132.1 47.3h0M128.6 50.1h0M128.9 44.3h0M126.0 49.1h0M120.6 40.8h0M116.6 48.5h0"/><path stroke="#d4128a" d="M108.1 46.8h0M116.8 45.3h0M114.1 45.2h0M115.7 45.2h0M118.6 52.4h0M110.6 46.2h0M111.7 45.3h0M117.6 42.4h0M110.6 45.4h0M116.8 42.5h0M121.4 47.2h0M117.0 50.7h0M113.6 48.0h0M127.2 43.2h0M108.9 46.2h0M121.9 48.1h0M130.9 47.2h0M128.1 47.2h0M119.0 41.9h0M113.6 46.2h0M109.7 47.3h0M110.0 46.2h0M109.2 47.2h0M127.0 47.2h0"/><path stroke="#1c7ac0" d="M119.9 44.1h0M121.8 46.2h0M131.7 45.0h0M126.6 42.4h0M119.2 43.0h0M119.2 47.1h0"/><path stroke="#ec235c" d="M132.2 47.9h0M131.5 43.8h0M134.5 46.2h0M117.4 42.9h0M130.9 46.2h0M130.8 49.2h0M125.7 40.9h0M121.5 44.1h0M130.2 45.0h0M126.0 51.1h0M132.2 44.4h0M132.4 47.0h0M121.8 44.1h0M129.6 48.1h0M123.8 43.0h0M112.8 45.3h0M128.2 44.1h0M128.2 51.2h0M134.5 46.8h0M120.9 50.9h0M128.7 49.1h0M119.4 44.1h0M121.6 42.0h0M130.2 47.2h0M128.3 50.2h0M125.9 48.2h0M126.2 47.2h0"/><path stroke="#d4128a" d="M126.6 44.3h0M117.9 45.2h0M117.8 44.2h0M104.8 46.2h0M119.6 47.2h0M109.0 47.1h0M131.4 47.9h0M130.3 49.9h0M116.0 48.2h0M128.4 47.2h0M119.3 51.0h0M122.3 51.5h0M113.2 47.1h0M118.8 51.3h0M112.7 47.2h0M116.4 47.3h0M110.7 48.0h0M109.5 46.2h0M122.0 45.2h0M113.2 45.2h0M111.9 47.1h0M114.9 46.2h0M120.4 41.0h0"/><path stroke="#1c7ac0" d="M133.3 46.2h0M131.2 48.4h0M131.1 45.4h0M122.2 44.1h0M121.0 47.1h0"/><path stroke="#ec235c" d="M131.1 46.2h0M123.2 46.2h0M127.7 52.1h0M125.5 49.0h0M123.4 50.4h0M132.8 46.2h0M125.6 44.3h0M123.6 41.9h0M124.3 48.3h0M120.5 46.2h0M126.1 49.3h0M129.3 41.6h0M132.7 44.6h0M126.0 50.1h0M129.5 46.2h0M125.8 43.0h0M128.2 40.9h0M124.4 50.4h0M126.3 46.2h0M118.3 41.7h0M124.1 45.1h0"/><path stroke="#1c7ac0" d="M134.4 46.9h0M120.8 41.9h0M120.1 46.2h0M121.4 46.2h0M119.9 51.6h0M118.2 50.5h0M119.4 48.1h0"/><path stroke="#d4128a" d="M120.4 48.2h0M120.0 47.3h0M120.8 46.2h0M110.8 44.6h0M123.7 44.1h0M131.1 44.5h0M114.6 46.2h0M118.8 47.2h0M111.6 47.6h0M121.2 41.0h0M127.9 41.9h0M109.2 46.2h0M113.7 47.2h0M135.1 46.8h0M118.8 43.1h0M119.1 49.0h0M117.1 47.2h0M119.3 44.0h0M114.6 48.2h0M111.2 46.2h0M115.7 46.2h0M111.3 44.6h0M115.9 45.2h0M108.1 45.6h0M128.5 41.5h0M121.6 51.0h0M126.7 49.3h0"/><path stroke="#d4128a" d="M115.1 45.0h0M115.5 47.2h0M116.9 44.4h0M120.6 43.0h0M114.2 48.4h0M121.1 44.2h0M112.4 46.2h0M135.5 46.2h0M114.1 44.3h0M116.9 43.4h0M117.4 45.1h0M119.3 50.0h0M110.2 47.4h0M129.3 46.2h0M111.9 45.4h0M122.0 47.3h0M124.7 45.3h0M115.3 43.6h0M116.6 46.2h0M131.6 46.2h0M116.3 43.5h0M115.7 48.3h0M118.1 42.2h0"/><path stroke="#ec235c" d="M121.4 51.4h0M124.1 43.0h0M124.9 41.5h0M129.7 44.4h0M132.9 46.2h0M125.1 41.5h0M128.9 46.2h0M124.1 46.2h0M134.0 45.3h0M117.6 45.2h0M111.7 46.2h0M128.2 42.0h0M126.9 42.2h0M128.5 43.4h0M123.5 45.1h0M129.0 50.6h0M123.2 44.2h0M127.3 45.3h0M129.6 42.6h0M123.4 51.4h0M124.6 49.4h0M125.7 41.6h0M133.5 47.2h0M123.2 49.3h0M126.7 46.2h0M128.8 42.4h0M127.6 47.2h0M124.6 47.3h0"/><path stroke="#1c7ac0" d="M121.8 49.1h0M121.7 45.2h0M130.9 43.5h0M122.0 42.0h0"/><path stroke="#ec235c" d="M125.2 44.3h0M125.0 48.3h0M120.5 47.2h0M141.4 46.2h0M126.5 44.1h0M129.2 49.5h0M126.8 43.4h0M125.8 47.2h0M126.2 50.4h0M127.8 50.2h0M123.7 48.4h0M128.7 45.3h0M128.0 48.2h0M123.4 41.3h0M129.8 45.3h0M124.4 44.4h0M118.8 49.3h0M126.9 44.2h0M119.6 43.1h0M134.4 45.6h0M123.0 49.2h0M142.1 46.2h0M129.2 42.6h0M120.7 51.0h0M127.4 44.4h0M118.6 50.3h0M124.6 43.4h0M127.2 45.2h0M131.0 44.4h0M125.6 42.5h0M130.0 50.0h0"/><path stroke="#1c7ac0" d="M122.3 49.4h0M122.1 48.3h0M120.9 49.9h0M121.4 43.1h0M121.9 43.1h0M121.9 50.0h0"/><path stroke="#d4128a" d="M112.2 44.5h0M114.3 46.2h0M122.8 47.2h0M115.5 44.5h0M116.2 46.2h0M113.1 46.2h0M125.0 46.2h0M117.7 44.3h0M118.1 43.2h0M114.9 48.7h0M114.4 44.3h0M113.8 48.3h0M111.9 46.2h0M111.8 44.5h0M107.1 46.2h0M118.0 50.3h0M115.8 49.3h0M116.5 42.6h0"/><path stroke="#d4128a" d="M123.1 50.2h0M120.0 40.9h0M116.0 50.3h0M119.4 51.9h0M116.8 47.3h0M112.6 48.1h0M108.6 46.9h0M130.6 48.1h0M126.7 41.5h0M118.7 45.2h0M117.3 41.8h0M110.9 46.2h0M113.0 48.0h0M116.6 49.6h0M116.0 44.3h0M108.5 46.2h0M116.8 41.6h0M126.0 45.1h0M111.5 44.4h0M117.6 43.3h0M121.2 50.4h0M114.0 46.2h0M109.8 45.1h0M120.9 42.1h0M116.6 44.4h0M121.3 42.0h0"/><path stroke="#1c7ac0" d="M119.6 41.0h0M120.6 44.1h0M122.7 48.1h0M124.0 41.9h0M122.9 46.2h0M118.5 49.4h0M121.9 43.1h0M131.8 48.4h0M121.7 47.2h0M119.0 48.1h0"/><path stroke="#ec235c" d="M124.9 48.4h0M126.7 50.4h0M124.5 45.3h0M125.7 50.9h0M123.0 43.1h0M122.5 47.2h0M130.1 49.1h0M125.6 48.1h0M112.8 44.4h0M130.8 45.3h0M134.3 46.2h0M128.0 45.1h0M124.0 49.8h0M127.7 51.2h0M129.0 48.4h0M126.0 42.0h0M121.4 48.3h0M123.4 42.3h0M125.1 47.3h0"/><path stroke="#ec235c" d="M123.8 49.5h0M132.7 45.4h0M131.3 43.7h0M108.0 46.2h0M117.9 48.2h0M123.0 48.2h0M125.4 51.8h0M128.4 44.3h0M129.3 50.6h0M131.2 47.3h0M124.4 46.2h0M120.7 50.0h0M120.9 48.1h0M128.2 43.0h0M134.9 45.6h0M109.9 44.9h0M126.3 51.4h0M132.5 46.2h0M126.2 41.9h0M129.3 44.4h0M124.1 48.0h0M131.9 45.2h0M123.9 47.1h0"/><path stroke="#d4128a" d="M113.7 45.2h0M113.4 44.4h0M117.1 49.3h0M128.9 49.5h0M118.5 44.0h0M120.8 45.2h0M117.7 46.2h0M126.3 43.0h0M116.7 45.3h0M117.6 49.6h0M112.6 46.2h0M112.1 48.0h0M113.5 45.3h0M118.1 49.3h0M108.1 46.2h0M108.6 45.5h0M117.4 46.2h0M121.7 41.0h0M110.4 44.8h0M113.9 44.1h0M130.3 49.0h0M115.9 44.1h0M117.7 47.3h0M118.0 47.2h0M112.3 47.0h0M129.0 47.3h0M114.7 47.2h0"/><path stroke="#1c7ac0" d="M120.1 43.1h0M122.3 44.2h0M122.5 45.2h0M122.4 46.2h0M118.6 46.2h0"/><path stroke="#ec235c" d="M120.1 45.2h0M128.7 43.3h0M125.3 45.3h0M128.8 45.2h0M129.6 49.1h0M122.2 50.4h0M130.0 46.2h0M129.1 48.4h0M126.7 40.6h0M118.9 42.0h0M127.2 42.5h0M125.4 49.9h0M126.3 45.1h0M125.6 43.4h0M128.3 46.2h0M132.7 47.6h0M123.5 50.6h0M124.3 41.7h0M125.2 43.4h0M130.4 42.8h0M127.4 49.4h0M131.8 46.2h0M124.4 43.5h0M126.6 47.2h0M130.0 48.1h0M125.9 46.2h0M126.7 51.4h0"/><path stroke="#1c7ac0" d="M128.2 52.3h0M119.5 49.1h0M131.7 48.8h0M123.6 46.2h0M119.4 45.2h0M127.6 50.5h0M119.2 45.1h0M119.9 42.0h0"/><path stroke="#d4128a" d="M116.2 42.4h0M120.0 48.4h0M124.6 47.3h0M122.2 46.2h0M121.2 49.0h0M115.1 47.4h0M111.3 47.1h0M119.9 45.1h0M115.6 43.1h0M124.4 42.6h0M114.2 47.3h0M124.1 44.1h0M110.3 47.5h0M116.8 46.2h0M119.7 46.2h0M117.8 46.2h0M119.6 42.0h0M118.2 48.3h0M119.6 46.2h0M115.2 46.2h0"/><path stroke="#ec235c" d="M85.9 62.0h0M86.0 71.4h0M90.2 63.7h0M91.9 70.0h0M99.3 65.9h0M82.0 63.9h0M80.9 67.9h0M84.5 66.8h0M85.1 69.9h0M85.7 66.9h0M78.9 64.1h0M83.7 66.8h0M89.2 69.0h0M87.5 66.9h0M89.0 65.9h0M85.6 62.1h0M88.9 63.1h0M86.5 60.3h0M79.9 64.0h0M86.2 63.0h0M84.2 66.8h0M81.3 69.0h0M88.2 66.9h0M84.7 67.7h0M75.7 66.8h0M88.7 69.6h0M83.3 64.0h0M82.2 67.1h0M77.3 65.9h0M90.6 63.8h0M89.5 70.3h0M98.7 66.5h0"/><path stroke="#1c7ac0" d="M83.1 63.1h0M92.4 64.1h0M78.0 66.8h0M89.6 69.2h0M89.8 65.9h0M91.9 69.0h0M86.8 61.8h0M83.5 62.9h0M75.5 66.5h0M93.3 65.9h0M96.4 64.7h0M85.4 64.0h0M86.5 69.8h0M79.5 65.9h0M85.5 60.1h0M98.2 65.1h0M91.2 65.9h0M81.5 67.9h0M93.6 65.1h0M91.0 64.9h0M90.1 62.7h0M82.4 67.9h0M82.4 70.0h0M95.7 64.5h0M86.0 61.1h0M81.6 65.0h0M83.3 62.1h0M87.6 60.7h0M83.0 65.0h0M82.6 66.8h0M90.8 68.0h0M92.3 66.9h0"/><path stroke="#1c7ac0" d="M82.7 70.5h0M88.1 65.9h0M85.3 67.9h0M76.9 64.4h0M91.5 66.8h0M82.3 65.9h0M82.3 62.7h0M90.8 70.0h0M86.5 63.1h0M78.3 65.9h0M91.2 70.2h0M88.9 68.8h0M94.2 66.7h0M95.6 65.9h0M78.2 66.9h0M78.8 67.7h0M87.0 70.1h0M82.8 64.0h0M89.0 66.9h0M89.0 64.0h0M89.1 62.7h0M79.0 65.1h0M86.2 64.9h0M82.8 62.2h0M91.3 68.6h0M77.5 64.1h0M86.9 60.2h0M86.2 68.8h0M90.9 61.7h0M92.2 63.0h0M82.0 64.9h0M78.0 63.9h0M88.5 61.8h0M89.3 66.9h0"/><path stroke="#ec235c" d="M88.2 69.8h0M86.7 60.8h0M90.1 69.2h0M88.8 67.7h0M81.3 62.6h0M88.1 68.8h0M88.8 70.8h0M81.5 64.0h0M96.0 67.0h0M84.8 63.9h0M78.6 63.7h0M91.1 69.1h0M79.1 65.9h0M88.1 64.1h0M79.5 66.8h0M94.9 64.1h0M92.2 64.9h0M84.5 69.5h0M91.3 65.9h0M94.2 67.6h0M83.0 68.9h0M88.5 64.9h0M85.3 66.9h0M98.8 65.9h0M87.5 62.8h0M90.3 64.8h0M86.5 65.0h0M87.7 69.7h0M84.2 63.9h0M91.8 69.2h0"/><path stroke="#1c7ac0" d="M75.5 65.3h0M81.2 66.9h0M80.7 63.0h0M83.9 68.6h0M77.5 66.8h0M79.9 66.8h0M86.5 68.8h0M91.4 67.7h0M98.1 66.9h0M93.1 64.0h0M86.2 65.9h0M76.1 65.0h0M84.9 61.0h0M83.4 69.6h0M94.5 67.7h0M83.5 64.9h0M83.7 65.9h0M83.8 69.5h0M85.0 64.8h0M74.8 65.9h0M83.7 70.4h0M78.1 64.9h0M76.2 65.9h0M93.5 64.2h0M93.9 63.8h0M84.0 66.9h0M75.5 65.9h0M84.3 70.6h0M81.3 64.8h0M80.9 64.9h0M85.2 67.9h0M91.7 64.8h0M83.0 65.9h0M76.7 65.9h0M84.1 61.1h0M84.1 68.8h0M90.5 69.0h0M91.7 65.9h0"/><path stroke="#ec235c" d="M88.6 65.0h0M76.5 64.8h0M91.5 63.7h0M86.4 62.2h0M87.2 66.9h0M91.2 63.8h0M88.3 65.9h0M88.5 69.6h0M94.6 64.9h0M87.2 65.9h0M94.5 65.9h0M81.9 61.9h0M87.9 65.9h0M74.5 65.9h0M92.1 65.9h0M85.1 68.9h0M88.1 70.8h0M91.4 61.7h0M91.6 61.5h0M89.3 70.0h0M97.3 67.0h0M88.1 61.4h0M91.7 68.1h0M95.3 66.7h0M80.5 65.9h0M89.8 64.8h0"/><path stroke="#ec235c" d="M90.4 68.1h0M87.3 67.0h0M91.9 66.9h0M90.7 64.8h0M86.3 60.0h0M88.2 67.9h0M85.8 69.6h0M77.5 67.6h0M87.3 68.1h0M80.8 65.9h0M86.2 69.7h0M93.2 64.1h0M86.0 64.0h0M86.7 69.0h0M87.0 71.1h0M83.8 61.2h0M89.2 61.6h0M92.2 70.1h0M84.1 64.0h0M99.9 65.9h0M92.7 66.9h0M82.7 67.7h0M94.4 64.1h0M78.1 65.9h0M88.9 65.0h0M97.8 64.8h0M81.4 63.7h0"/><path stroke="#1c7ac0" d="M79.8 65.9h0M87.8 68.8h0M89.7 62.7h0M85.7 69.0h0M98.3 66.8h0M87.8 70.7h0M75.2 65.9h0M87.1 63.1h0M82.2 68.2h0M90.5 70.1h0M98.0 65.9h0M90.1 65.9h0M97.2 64.7h0M87.0 62.1h0M86.2 62.0h0M90.3 61.5h0M91.3 70.4h0M96.9 64.7h0M88.4 68.7h0M91.0 63.8h0M90.3 67.0h0M95.5 64.4h0M79.3 65.9h0M77.8 64.9h0M83.1 69.0h0M76.2 66.8h0M85.4 68.9h0M83.2 61.2h0M95.3 67.4h0M83.6 63.1h0M86.5 65.9h0M85.0 70.9h0M95.1 65.9h0M72.8 65.9h0M93.0 68.8h0M78.4 67.8h0M87.0 68.0h0"/><path stroke="#ec235c" d="M80.7 66.9h0M93.2 65.0h0M91.4 63.8h0M93.6 65.9h0M80.3 63.9h0M91.3 62.7h0M86.0 67.7h0M89.2 65.9h0M84.2 69.7h0M93.1 65.0h0M83.7 62.1h0M82.8 68.7h0M83.1 70.0h0M84.8 65.9h0M88.0 62.1h0M94.8 66.8h0M88.2 62.3h0M96.3 67.0h0M85.3 69.9h0M87.0 69.0h0M98.2 65.9h0M87.3 71.3h0M84.7 68.1h0M84.6 61.9h0M87.3 69.1h0M78.7 67.0h0M98.4 65.1h0M86.7 65.9h0M96.7 65.9h0M84.0 67.8h0M83.9 64.9h0M84.3 62.0h0M85.6 64.0h0"/><path stroke="#1c7ac0" d="M92.6 63.8h0M89.7 69.1h0M83.6 65.9h0M83.4 66.8h0M82.9 70.9h0M87.9 67.8h0M81.1 68.9h0M78.9 66.8h0M85.4 71.0h0M82.7 69.6h0M79.2 66.8h0M90.7 66.9h0M91.1 68.0h0M85.0 62.7h0M90.4 70.3h0M88.7 64.0h0M92.1 64.0h0M89.8 70.2h0M94.2 65.9h0M92.6 65.0h0M94.8 65.0h0M77.0 66.7h0M95.6 65.1h0M88.6 68.6h0M82.6 65.9h0M81.7 62.1h0M92.3 62.0h0M86.7 68.0h0M89.2 64.8h0M88.3 67.8h0"/><path stroke="#1c7ac0" d="M79.9 67.7h0M94.4 66.8h0M90.5 65.9h0M84.7 62.9h0M83.4 63.9h0M87.7 63.8h0M89.4 65.9h0M90.6 61.6h0M82.3 63.8h0M96.1 65.9h0M95.8 65.9h0M87.8 66.9h0M76.5 65.9h0M78.6 65.9h0M90.5 68.0h0M85.2 60.6h0M79.4 64.0h0M80.4 63.5h0M84.0 69.7h0M82.1 69.4h0M88.9 69.8h0M87.2 60.6h0M83.0 69.9h0M82.0 61.9h0M86.0 63.0h0M79.9 64.9h0M84.0 63.0h0M92.7 67.9h0M94.7 63.9h0"/><path stroke="#ec235c" d="M93.8 64.8h0M91.4 69.5h0M93.4 67.0h0M87.4 64.8h0M94.5 65.0h0M93.2 63.2h0M88.7 62.2h0M87.4 62.7h0M82.7 65.0h0M88.2 65.0h0M91.5 70.4h0M94.6 67.7h0M80.1 65.9h0M89.5 62.7h0M79.2 67.7h0M85.3 62.0h0M87.6 68.9h0M88.4 62.8h0M85.2 61.7h0M85.9 68.7h0M80.1 67.6h0M82.4 69.0h0M87.8 61.2h0M93.0 63.1h0M80.7 69.0h0M85.2 65.9h0M95.0 65.9h0M84.9 64.9h0M93.7 63.4h0M91.9 68.0h0M76.5 66.9h0M83.3 65.9h0M89.7 61.6h0M80.1 66.7h0"/><path stroke="#1c7ac0" d="M98.8 65.3h0M85.8 63.0h0M92.8 64.8h0M83.1 68.0h0M81.6 70.0h0M93.9 68.0h0M79.6 65.0h0M87.0 64.0h0M78.8 65.0h0M83.8 67.7h0M80.7 64.9h0M89.8 63.7h0M78.1 67.7h0M85.3 61.1h0M82.1 62.9h0M86.4 71.8h0M78.2 64.9h0M83.2 66.9h0M85.1 63.8h0M85.8 60.1h0M99.1 66.4h0M89.6 61.6h0M76.8 64.6h0M78.5 68.2h0M92.4 67.0h0M95.3 64.3h0M97.5 65.9h0M86.1 64.9h0M88.9 61.3h0M76.6 67.2h0M95.6 67.2h0M86.5 70.8h0M92.4 65.9h0"/><path stroke="#ec235c" d="M91.2 64.9h0M98.5 66.6h0M94.8 67.5h0M83.5 60.9h0M96.8 67.1h0M85.4 64.9h0M86.8 63.9h0M90.8 62.8h0M82.7 61.3h0M86.5 61.3h0M86.3 63.9h0M84.4 65.9h0M87.6 67.9h0M82.4 66.9h0M79.4 65.0h0M87.1 65.9h0M89.8 67.0h0M90.1 70.3h0M80.4 67.1h0M84.3 68.7h0M92.5 69.3h0M77.8 68.0h0M92.4 68.2h0M82.9 63.1h0M77.2 65.0h0M86.9 62.9h0M88.7 63.1h0M98.0 64.8h0M83.7 65.0h0M86.5 66.9h0"/><path stroke="#ec235c" d="M85.0 70.3h0M90.2 63.7h0M81.6 66.9h0M93.4 66.8h0M80.4 68.2h0M95.9 67.4h0M81.3 65.9h0M93.9 65.9h0M94.9 66.7h0M84.1 65.9h0M78.5 64.8h0M89.1 67.9h0M92.7 68.9h0M93.0 65.9h0M85.6 70.0h0M90.4 69.2h0M91.4 64.8h0M84.8 69.2h0M84.7 63.0h0M89.0 62.2h0M82.2 63.9h0M86.4 64.0h0M85.9 66.8h0M87.6 69.9h0M93.2 66.9h0M81.9 65.9h0M85.6 61.1h0M81.6 69.0h0M87.3 70.2h0M86.3 67.8h0M97.2 67.0h0M80.8 64.0h0M86.1 66.9h0M79.7 67.6h0"/><path stroke="#1c7ac0" d="M93.7 68.7h0M87.7 70.9h0M77.3 66.8h0M90.0 64.8h0M95.1 65.1h0M84.3 63.0h0M89.9 68.1h0M84.2 64.9h0M85.9 65.9h0M96.5 67.0h0M94.0 66.9h0M84.2 62.1h0M83.6 68.7h0M91.0 65.9h0M86.6 67.9h0M86.1 61.0h0M87.9 63.1h0M77.7 63.8h0M95.9 64.6h0M91.0 66.9h0M82.5 61.6h0M86.8 66.9h0M81.8 67.0h0M77.6 65.9h0M92.1 68.0h0M91.2 67.0h0M93.3 68.2h0M94.7 65.9h0M75.9 65.2h0"/><path stroke="#1c7ac0" d="M86.9 71.1h0M85.5 65.9h0M92.2 69.0h0M79.2 64.2h0M75.0 65.9h0M88.7 66.8h0M84.7 67.0h0M92.1 65.9h0M87.1 61.2h0M81.4 68.0h0M83.5 61.9h0M85.0 66.9h0M94.2 63.9h0M78.4 63.9h0M81.1 65.9h0M91.1 62.8h0M84.0 70.7h0M81.4 66.9h0M77.2 67.6h0M90.1 67.0h0M96.4 65.9h0M82.4 64.8h0M81.0 67.9h0M84.7 68.6h0M84.5 64.9h0M85.8 71.1h0M83.3 65.0h0M90.7 69.0h0M77.5 65.0h0M89.5 63.7h0M92.4 63.2h0M79.6 64.1h0"/><path stroke="#ec235c" d="M85.6 68.0h0M87.8 65.0h0M88.1 63.2h0M84.6 63.9h0M83.4 67.7h0M87.7 64.0h0M84.4 61.0h0M84.6 70.5h0M94.1 64.9h0M82.7 64.1h0M87.6 64.9h0M89.0 67.9h0M87.6 65.9h0M91.9 63.9h0M81.9 70.3h0M88.5 66.8h0M92.7 65.9h0M89.7 68.1h0M88.7 70.5h0M81.7 68.1h0M84.6 65.9h0M80.2 64.9h0M82.1 65.9h0M89.5 64.8h0M99.1 65.9h0M91.6 67.0h0M77.1 67.4h0M86.8 59.8h0M88.6 61.2h0M85.8 65.9h0M92.1 62.9h0"/><path stroke="#1c7ac0" d="M82.8 61.2h0M98.5 65.9h0M92.0 62.0h0M91.0 61.7h0M81.8 64.9h0M96.7 65.9h0M88.7 65.9h0M97.6 65.9h0M85.8 60.2h0M97.5 64.7h0M81.1 63.9h0M81.7 63.1h0M79.4 67.7h0M81.0 62.9h0M90.4 65.9h0M83.0 62.2h0M78.7 65.9h0M89.2 63.8h0M83.0 67.9h0M77.0 65.9h0M81.8 62.9h0M87.1 65.0h0M96.5 64.7h0M84.4 67.8h0M82.6 63.2h0M81.6 65.9h0M82.8 66.9h0M97.6 67.0h0M87.5 61.8h0M77.1 64.2h0M92.8 62.7h0M90.1 61.6h0"/><path stroke="#ec235c" d="M92.4 62.3h0M86.8 70.0h0M86.6 64.9h0M85.6 64.9h0M90.4 62.6h0M93.0 67.8h0M91.6 62.6h0M85.5 72.0h0M90.6 62.7h0M83.9 64.0h0M84.6 60.8h0M83.5 70.5h0M79.7 66.7h0M87.3 63.8h0M86.3 70.7h0M89.4 67.0h0M84.7 62.0h0M87.3 61.7h0M86.1 71.6h0M91.9 64.9h0M80.6 64.7h0M75.8 65.9h0M88.5 63.9h0M77.4 65.9h0M85.4 63.0h0M93.7 67.8h0M89.5 68.1h0M97.0 65.9h0M86.1 70.5h0M81.7 69.2h0M77.6 67.0h0"/><path stroke="#d4128a" d="M116.7 83.7h0M113.3 88.2h0M112.2 86.6h0M114.2 84.5h0M113.9 83.6h0M117.2 83.4h0M119.9 84.3h0M113.5 83.4h0M113.6 85.6h0M117.2 82.3h0M120.0 84.6h0M116.0 88.9h0M115.8 88.7h0M126.6 85.6h0M117.7 85.6h0M117.2 87.7h0M112.7 85.6h0M117.6 88.4h0"/><path stroke="#ec235c" d="M104.9 83.5h0M106.1 83.7h0M111.9 82.1h0M107.2 91.2h0M110.9 87.6h0M121.2 85.6h0M111.4 81.8h0M109.7 83.7h0M109.1 81.7h0M110.8 88.5h0M110.4 80.9h0M108.4 82.7h0M107.6 90.3h0M103.0 85.6h0M110.4 88.7h0M111.3 83.7h0M109.1 88.8h0M108.2 81.3h0M105.2 85.6h0M110.2 84.7h0M108.4 85.6h0M109.3 89.4h0M111.3 88.4h0M111.5 84.6h0M104.1 84.6h0M107.8 87.5h0"/><path stroke="#1c7ac0" d="M107.3 86.5h0M104.6 86.7h0M107.2 87.5h0M110.4 81.9h0M104.4 87.6h0M107.6 88.4h0M109.7 88.5h0M105.7 82.8h0M109.2 82.8h0M111.3 88.4h0M106.9 82.5h0"/><path stroke="#d4128a" d="M117.4 87.5h0M115.2 87.7h0M116.6 85.6h0M114.0 87.8h0M118.5 86.8h0M119.1 87.4h0M116.6 81.9h0M115.5 85.6h0M113.7 86.6h0M112.6 84.6h0M120.2 84.8h0M114.6 86.7h0M112.1 89.6h0M114.0 86.7h0M114.6 85.6h0M113.6 86.6h0M116.7 86.5h0M118.6 88.0h0M116.4 82.9h0M118.2 84.5h0M118.9 86.7h0M118.0 85.6h0M116.7 84.7h0M112.4 82.6h0M114.7 84.5h0"/><path stroke="#ec235c" d="M110.0 87.5h0M107.3 84.6h0M105.5 83.7h0M106.2 82.7h0M109.5 83.8h0M103.0 84.5h0M108.9 85.6h0M116.4 82.0h0M108.6 81.7h0M108.3 90.9h0M109.3 88.4h0M107.1 85.6h0M102.3 86.3h0M106.3 85.6h0M109.5 85.6h0M108.2 80.3h0M105.0 86.7h0M106.9 88.6h0M110.6 82.8h0M104.9 82.5h0"/><path stroke="#1c7ac0" d="M103.5 84.2h0M111.4 82.7h0M107.2 88.4h0M109.1 86.7h0M106.4 82.5h0M107.9 82.6h0M107.7 81.6h0M110.1 90.2h0M110.6 80.1h0M108.1 84.6h0"/><path stroke="#d4128a" d="M114.9 83.4h0M120.6 85.1h0M116.5 83.8h0M113.1 86.6h0M116.9 89.2h0M117.4 82.7h0M115.9 89.8h0M112.4 85.6h0M115.1 86.7h0M120.0 85.6h0M118.1 88.0h0M114.0 88.9h0M114.4 87.8h0M116.7 88.2h0M116.4 88.4h0M113.0 82.3h0M118.5 83.4h0M117.2 85.6h0M113.0 87.5h0"/><path stroke="#ec235c" d="M119.2 85.6h0M109.0 80.7h0M102.4 85.0h0M110.4 80.0h0M105.9 86.7h0M104.0 83.6h0M109.4 91.2h0M104.4 84.4h0M109.9 87.8h0M104.8 87.8h0M109.8 89.9h0M106.9 84.6h0M110.6 88.5h0M106.7 85.6h0M109.7 81.8h0M107.7 84.6h0M104.7 84.7h0M109.6 82.8h0M111.2 82.4h0M112.0 83.0h0M110.2 83.8h0M110.9 85.6h0M104.1 87.7h0M103.9 83.8h0"/><path stroke="#1c7ac0" d="M109.8 91.0h0M108.8 80.5h0M109.3 81.0h0M108.1 89.4h0M103.9 85.6h0M101.9 85.6h0M106.5 88.4h0M107.7 80.6h0M106.3 87.5h0M106.1 87.4h0M110.9 86.6h0M109.5 80.0h0"/><path stroke="#ec235c" d="M108.0 85.6h0M111.8 84.7h0M107.3 90.2h0M109.6 80.9h0M106.8 84.6h0M107.5 90.4h0M104.0 85.6h0M107.7 89.4h0M102.5 85.6h0M109.5 90.4h0M113.6 82.3h0M109.4 84.7h0M105.4 83.8h0M111.3 84.5h0M103.3 87.1h0M110.9 83.8h0M101.7 85.6h0M108.7 82.5h0M111.2 85.6h0M108.5 87.5h0M110.0 80.1h0M110.3 90.7h0"/><path stroke="#1c7ac0" d="M111.7 86.6h0M109.7 87.5h0M109.2 89.9h0M103.7 87.4h0M104.5 87.9h0M108.7 83.5h0M110.3 87.7h0M108.5 84.6h0M104.3 85.6h0M105.8 84.7h0M105.5 84.7h0M111.4 85.6h0"/><path stroke="#d4128a" d="M113.3 83.5h0M116.1 82.1h0M112.6 87.8h0M116.8 89.1h0M112.0 85.6h0M115.1 82.3h0M114.9 87.9h0M115.9 86.6h0M117.6 83.7h0M113.5 89.4h0M119.8 85.6h0M112.2 88.5h0M115.4 83.3h0M114.4 84.5h0M120.4 86.5h0M116.9 88.3h0M116.0 83.7h0M116.3 87.5h0M115.7 83.0h0M118.3 83.4h0M118.2 87.8h0"/><path stroke="#ec235c" d="M104.0 84.7h0M110.3 85.6h0M105.0 89.0h0M108.1 86.6h0M116.7 82.8h0M109.1 82.7h0M108.0 88.5h0M108.8 87.6h0M107.3 89.3h0M108.1 80.4h0M106.1 89.2h0M104.5 83.3h0M103.9 86.5h0M102.7 85.6h0M109.1 79.8h0M106.7 89.2h0M105.9 87.7h0M110.7 86.6h0M119.1 84.7h0M111.2 89.4h0M111.8 85.6h0M119.5 84.8h0M109.9 86.7h0M105.1 84.5h0M109.1 87.8h0M108.8 89.5h0"/><path stroke="#1c7ac0" d="M103.1 86.7h0M106.2 86.5h0M110.6 87.6h0M106.7 86.5h0M106.4 81.5h0M104.5 85.6h0M106.7 82.6h0M111.9 87.6h0"/><path stroke="#d4128a" d="M120.8 85.6h0M115.5 85.6h0M117.2 88.8h0M114.8 82.2h0M117.4 88.4h0M112.9 83.4h0M114.9 84.5h0M116.4 86.5h0M115.5 84.5h0M119.4 84.8h0M116.3 89.4h0M113.4 84.5h0M114.9 89.1h0M115.1 89.0h0M116.3 86.7h0M114.1 83.4h0M127.7 85.6h0M115.7 86.5h0M114.9 85.6h0M117.9 86.8h0M117.6 86.5h0"/><path stroke="#d4128a" d="M116.3 83.8h0M113.9 84.6h0M113.3 85.6h0M115.4 86.6h0M116.3 85.6h0M118.9 83.8h0M115.1 83.4h0M119.3 87.3h0M117.5 84.6h0M118.8 84.7h0M119.6 85.6h0M117.3 86.7h0M117.6 86.5h0M120.7 86.1h0M119.4 86.5h0M114.9 86.8h0M114.2 85.6h0M117.7 83.8h0M113.6 87.5h0M115.7 83.8h0"/><path stroke="#1c7ac0" d="M104.8 85.6h0M110.1 86.5h0M109.8 81.3h0M107.8 86.5h0M105.6 89.6h0M110.4 86.6h0"/><path stroke="#ec235c" d="M107.2 83.6h0M110.6 84.7h0M105.3 82.9h0M110.7 89.5h0M106.9 89.7h0M106.6 85.6h0M108.7 84.6h0M111.0 89.5h0M107.9 82.5h0M105.3 87.4h0M105.9 83.0h0M106.5 86.5h0M105.1 83.4h0M105.3 85.6h0M110.1 89.3h0M110.0 82.8h0M107.4 86.6h0M109.8 83.4h0M111.1 81.4h0M102.7 86.5h0M108.2 84.5h0M107.8 85.6h0M107.2 80.7h0M106.0 85.6h0M109.4 90.3h0M112.6 82.5h0M108.8 88.6h0M118.9 86.5h0M105.7 81.9h0"/><path stroke="#d4128a" d="M117.0 85.6h0M120.9 86.1h0M112.3 87.5h0M113.2 86.5h0M116.3 84.7h0M116.9 87.4h0M120.0 86.5h0M118.6 83.7h0M114.7 82.3h0M117.2 84.5h0M114.2 83.5h0M115.1 85.6h0M112.3 83.4h0M116.9 83.3h0M114.4 88.7h0M115.2 84.5h0M112.4 83.6h0M118.5 84.5h0M112.7 88.4h0M118.5 85.6h0M115.6 88.3h0M113.0 85.6h0M113.7 82.5h0M113.2 84.6h0"/><path stroke="#ec235c" d="M111.0 81.0h0M107.4 85.6h0M106.7 88.3h0M105.9 82.1h0M111.7 83.4h0M107.6 89.4h0M108.3 86.7h0M104.8 88.9h0M106.8 83.6h0M108.1 87.5h0M106.1 81.8h0M108.3 83.5h0M107.2 81.6h0M111.3 89.4h0M118.8 87.7h0M108.4 90.5h0M111.7 82.3h0M105.2 82.3h0M107.7 83.6h0M108.5 89.5h0M109.1 84.6h0M111.7 84.5h0M109.4 87.5h0"/><path stroke="#1c7ac0" d="M105.5 85.6h0M108.5 85.6h0M107.4 83.7h0M106.3 84.6h0M107.1 82.6h0M110.1 81.9h0M109.3 80.1h0M111.3 83.5h0"/><path stroke="#ec235c" d="M109.9 88.9h0M108.4 82.4h0M108.1 81.5h0M110.8 81.0h0M110.6 83.8h0M108.1 90.4h0M108.4 88.8h0M104.7 83.0h0M108.2 89.8h0M102.5 84.8h0M107.1 81.5h0M105.6 87.6h0M108.8 90.5h0M106.4 89.3h0M111.7 89.4h0M110.3 82.8h0M105.5 88.3h0M111.2 86.5h0M109.0 91.0h0M110.2 88.4h0M105.9 88.8h0M107.4 81.8h0M107.6 80.9h0M108.8 86.6h0M103.7 85.6h0M109.4 86.5h0"/><path stroke="#1c7ac0" d="M109.8 80.2h0M111.4 86.5h0M108.5 80.7h0M105.4 82.1h0M109.9 85.6h0M109.7 82.4h0M109.7 91.3h0"/><path stroke="#d4128a" d="M116.8 86.5h0M116.3 84.7h0M112.6 86.5h0M116.9 82.2h0M115.9 81.7h0M119.1 85.6h0M115.4 82.2h0M115.9 87.7h0M112.4 84.6h0M112.2 85.6h0M119.5 87.0h0M115.9 84.6h0M116.3 85.6h0M118.1 83.2h0M115.1 87.9h0M119.6 84.0h0M113.8 87.7h0M116.2 83.0h0M113.8 85.6h0M113.2 87.3h0M117.6 84.7h0M124.3 85.6h0"/><path stroke="#ec235c" d="M107.6 84.7h0M111.5 87.5h0M110.9 81.9h0M104.7 84.6h0M107.5 87.5h0M109.3 81.9h0M105.5 86.5h0M106.7 87.4h0M107.0 87.6h0M106.2 88.3h0M102.4 86.4h0M107.1 85.6h0M107.5 82.8h0M110.5 84.7h0M111.3 87.5h0M105.9 83.8h0M108.2 87.7h0"/><path stroke="#1c7ac0" d="M109.1 85.6h0M109.1 83.7h0M110.2 83.7h0M104.3 86.6h0M110.5 89.7h0M112.0 88.6h0M109.7 86.6h0M106.5 83.5h0M110.7 90.5h0M103.6 86.8h0M109.5 84.7h0M104.0 86.6h0M110.7 85.6h0M103.4 84.3h0M103.4 85.6h0"/><path stroke="#d4128a" d="M112.1 86.6h0M115.8 85.6h0M115.6 82.1h0M115.7 84.7h0M116.0 87.8h0M121.3 85.6h0M112.7 87.4h0M112.4 86.7h0M116.9 84.5h0M120.7 85.1h0M114.2 82.2h0M113.7 88.7h0M112.2 84.5h0M113.4 88.5h0M113.2 82.5h0M120.4 85.6h0M115.5 87.4h0M115.6 89.1h0M112.9 84.5h0M118.8 85.6h0M112.5 88.9h0M115.4 88.7h0M114.5 83.4h0"/><path stroke="#ec235c" d="M106.8 83.5h0M104.7 83.9h0M110.8 91.5h0M109.1 92.1h0M108.5 83.6h0M106.0 84.7h0M107.1 86.6h0M109.8 84.5h0M105.6 86.6h0M106.8 81.6h0M102.2 85.6h0M105.8 88.6h0M102.9 84.7h0M108.7 81.5h0M105.0 87.9h0M109.3 85.6h0M110.7 81.9h0M110.0 85.6h0M105.3 89.2h0M111.0 84.7h0M110.0 81.0h0M108.1 83.5h0"/><path stroke="#d4128a" d="M112.1 82.3h0M117.6 85.6h0M121.7 85.6h0M122.0 85.6h0M114.4 82.4h0M114.5 88.9h0M116.8 87.4h0M114.3 86.6h0M119.2 84.0h0M112.1 83.8h0M113.9 85.6h0M113.0 88.5h0M116.0 82.7h0M118.3 86.7h0M112.6 83.5h0M117.8 87.4h0M118.1 84.4h0M117.8 82.9h0M120.7 85.6h0M114.3 87.7h0M118.1 85.6h0M119.7 86.7h0"/><path stroke="#1c7ac0" d="M108.5 88.5h0M106.5 84.6h0M110.2 91.2h0M109.6 89.4h0M104.9 86.7h0M110.8 82.9h0M111.7 88.5h0M107.4 88.5h0M111.8 87.5h0M108.5 86.6h0"/><path stroke="#ec235c" d="M95.9 108.6h0M95.5 102.9h0M99.1 111.1h0M101.3 106.4h0M105.6 102.2h0M111.9 105.3h0M117.2 105.3h0M95.1 104.2h0M96.1 103.3h0M100.2 112.3h0M99.8 108.3h0M97.7 106.2h0M100.0 106.3h0M111.9 106.4h0M97.7 104.3h0M111.1 105.3h0M104.3 106.4h0M121.3 105.3h0M100.7 110.4h0M106.2 102.1h0M112.5 106.3h0M99.6 100.4h0M104.7 104.2h0"/><path stroke="#1c7ac0" d="M98.1 101.6h0M99.0 106.3h0M97.6 103.3h0M97.3 105.3h0M102.4 103.5h0M99.6 111.3h0M108.0 101.3h0M108.7 105.3h0M115.6 105.3h0M93.0 105.9h0M105.5 109.4h0M99.8 105.3h0M105.5 104.3h0M109.2 103.0h0"/><path stroke="#ec235c" d="M106.7 109.3h0M97.2 106.3h0M104.5 102.3h0M119.5 105.3h0M102.9 99.3h0M92.6 105.8h0M108.2 107.3h0M106.4 104.2h0M105.4 108.4h0M98.8 100.3h0M101.8 104.4h0M100.8 104.3h0M132.9 105.3h0M104.0 101.3h0M96.2 106.4h0M97.8 105.3h0M103.3 107.2h0M117.8 105.3h0"/><path stroke="#1c7ac0" d="M96.1 104.3h0M104.3 108.5h0M100.3 100.5h0M99.4 110.3h0M95.9 102.3h0M102.9 108.1h0M99.9 110.3h0M116.1 104.6h0M106.1 101.2h0M94.7 106.2h0M98.0 99.8h0M107.6 102.3h0M108.9 103.1h0M94.4 105.3h0M97.7 105.3h0M99.1 105.3h0M105.1 106.3h0M100.3 111.3h0M102.6 104.3h0"/><path stroke="#ec235c" d="M100.9 101.3h0M92.8 104.7h0M116.3 105.3h0M103.0 109.1h0M98.3 110.2h0M102.8 102.3h0M96.3 106.3h0M110.7 103.4h0M111.0 104.3h0M111.7 106.1h0M108.5 103.4h0M98.9 110.1h0M113.7 104.5h0M106.9 102.1h0M110.7 106.4h0M98.9 101.5h0M117.0 104.6h0M113.9 106.3h0M116.5 105.3h0M98.7 106.3h0M105.6 109.3h0M107.6 107.3h0"/><path stroke="#1c7ac0" d="M95.5 106.4h0M109.4 105.3h0M107.8 102.3h0M104.3 105.3h0M104.4 107.5h0M100.4 102.4h0M94.2 104.4h0M95.4 104.1h0M114.2 105.3h0M97.3 109.9h0M99.3 99.6h0M93.4 105.3h0M96.4 108.2h0M102.4 108.9h0M103.6 100.4h0"/><path stroke="#1c7ac0" d="M103.5 105.3h0M109.4 106.5h0M103.7 108.2h0M100.3 105.3h0M98.2 109.2h0M98.0 106.3h0M91.8 105.3h0M106.5 107.3h0M101.1 107.4h0M104.6 108.2h0M107.4 103.3h0M97.0 102.0h0M100.0 108.3h0M96.3 107.2h0M102.0 108.0h0M103.7 110.1h0M100.6 106.3h0M97.0 110.2h0M93.6 104.4h0M98.9 104.4h0M96.7 103.2h0M103.8 104.3h0M101.2 104.4h0"/><path stroke="#ec235c" d="M104.0 104.3h0M103.2 104.2h0M103.7 109.1h0M102.1 107.1h0M100.8 105.3h0M106.3 106.3h0M108.7 102.0h0M107.7 109.6h0M98.9 112.1h0M101.5 103.5h0M110.9 103.3h0M107.3 108.4h0M103.0 102.0h0M103.6 102.4h0"/><path stroke="#ec235c" d="M113.3 106.1h0M97.9 111.1h0M115.2 104.2h0M116.1 106.0h0M100.5 103.3h0M115.6 106.2h0M102.8 101.3h0M108.7 109.2h0M103.7 103.3h0M117.8 105.9h0M101.6 106.4h0M108.3 106.3h0M103.1 110.0h0M102.4 102.5h0M106.8 105.3h0M102.8 100.3h0M105.7 104.3h0M99.9 107.3h0"/><path stroke="#1c7ac0" d="M105.9 103.3h0M102.7 107.1h0M98.2 103.5h0M99.5 106.3h0M114.1 104.3h0M105.6 106.3h0M95.0 107.7h0M110.1 105.3h0M94.8 105.3h0M108.5 104.3h0M105.9 108.3h0M99.6 109.3h0M107.6 104.3h0M103.9 106.3h0M97.4 100.2h0M98.5 101.3h0M107.3 109.4h0M118.4 105.3h0"/><path stroke="#1c7ac0" d="M98.3 100.7h0M112.7 104.3h0M109.2 107.6h0M108.0 103.3h0M106.4 103.2h0M98.4 109.4h0M99.9 101.4h0M113.4 105.3h0M111.5 105.3h0M94.8 106.5h0M105.0 102.1h0M99.8 101.4h0M109.8 107.6h0M100.9 105.3h0M109.9 103.1h0M106.1 109.3h0"/><path stroke="#ec235c" d="M108.5 105.3h0M98.0 102.5h0M98.3 108.2h0M105.4 101.4h0M99.2 102.5h0M109.4 104.2h0M107.9 107.5h0M102.7 109.0h0M113.2 104.5h0M99.7 99.4h0M105.2 107.3h0M98.8 103.3h0M106.8 106.3h0M129.1 105.3h0M103.8 101.4h0M97.0 108.2h0M100.2 109.3h0M103.1 99.9h0M93.4 106.1h0M113.1 105.3h0"/><path stroke="#1c7ac0" d="M105.3 103.4h0M104.7 106.3h0M97.4 108.0h0M108.4 102.4h0M96.4 105.3h0M96.8 107.3h0M101.5 105.3h0M105.0 101.1h0M110.8 107.4h0M108.5 101.5h0M106.9 101.0h0M105.3 102.4h0M103.6 107.2h0M113.7 106.0h0M100.7 109.3h0M99.2 100.6h0M99.4 103.3h0M100.6 107.3h0M94.6 107.0h0M97.6 107.1h0M98.5 107.3h0M98.9 98.7h0M97.7 109.0h0"/><path stroke="#ec235c" d="M108.0 104.3h0M97.7 102.3h0M101.5 102.6h0M98.9 103.4h0M100.1 104.3h0M108.1 108.5h0M98.1 104.4h0M88.2 105.3h0M112.8 105.3h0M131.0 105.3h0M114.6 106.5h0M98.8 105.3h0M94.1 105.3h0"/><path stroke="#ec235c" d="M94.0 106.7h0M96.5 104.2h0M116.7 106.0h0M102.1 106.2h0M102.5 105.3h0M103.3 105.3h0M94.0 104.0h0M115.2 105.3h0M110.5 107.4h0M114.7 104.3h0M92.7 105.3h0M103.2 106.2h0M118.5 105.3h0M101.0 102.5h0M81.2 105.3h0M110.0 104.2h0M106.1 105.3h0M103.1 108.1h0"/><path stroke="#1c7ac0" d="M102.2 104.4h0M105.8 105.3h0M96.9 109.2h0M106.6 101.0h0M108.2 108.2h0M101.9 101.7h0M107.8 106.4h0M96.8 103.1h0M101.6 107.4h0M108.7 106.3h0M102.7 103.3h0M94.8 103.1h0M100.8 100.3h0M95.3 105.3h0M106.8 107.3h0M96.4 102.1h0M104.5 109.6h0M96.2 105.3h0"/><path stroke="#ec235c" d="M104.9 107.2h0M96.8 100.9h0M98.7 111.4h0M102.9 110.8h0M104.9 105.3h0M95.5 107.4h0M99.7 102.4h0M103.4 103.1h0M91.5 105.3h0M111.3 106.9h0M109.1 104.2h0M99.2 108.2h0M92.3 105.3h0M100.6 108.3h0M110.8 106.4h0M115.5 104.3h0M105.1 105.3h0M99.2 107.2h0"/><path stroke="#1c7ac0" d="M94.3 103.4h0M100.1 99.5h0M105.0 109.2h0M107.3 101.3h0M116.9 104.6h0M99.5 104.3h0M101.4 108.5h0M107.5 106.3h0M109.1 107.3h0M110.2 105.3h0M107.9 105.3h0M103.1 101.0h0M111.3 103.8h0M102.7 109.9h0M98.5 108.4h0M114.6 105.3h0M102.7 106.2h0M102.5 105.3h0"/><path stroke="#1c7ac0" d="M106.1 107.3h0M109.8 106.4h0M98.4 104.3h0M98.2 107.2h0M97.5 101.2h0M107.2 105.3h0M112.0 104.2h0M106.4 108.3h0M99.3 109.2h0M110.4 104.3h0M100.2 103.4h0M106.9 103.2h0M104.7 103.2h0"/><path stroke="#ec235c" d="M96.2 107.5h0M103.4 111.0h0M117.9 104.7h0M90.8 105.3h0M125.3 105.3h0M98.8 102.3h0M98.7 110.4h0M106.6 108.3h0M119.7 105.3h0M104.2 103.3h0M101.2 103.4h0M98.7 99.3h0M108.8 108.3h0M99.8 107.3h0M106.8 104.2h0M118.8 105.8h0M102.2 101.6h0M85.7 105.3h0M100.6 102.3h0M117.3 106.0h0M101.9 108.5h0M115.1 106.6h0M97.0 104.2h0"/></g>
<line x1="63.0" x2="290.3" y1="125.4" y2="125.4" stroke="#555" stroke-width="0.9"/>
<line x1="75.1" x2="75.1" y1="125.4" y2="127.60000000000001" stroke="#555" stroke-width="0.7"/>
<text x="75.1" y="134.5" class="tk">−0.025</text>
<line x1="102.4" x2="102.4" y1="125.4" y2="127.60000000000001" stroke="#555" stroke-width="0.7"/>
<text x="102.4" y="134.5" class="tk">0.000</text>
<line x1="129.7" x2="129.7" y1="125.4" y2="127.60000000000001" stroke="#555" stroke-width="0.7"/>
<text x="129.7" y="134.5" class="tk">0.025</text>
<line x1="157.0" x2="157.0" y1="125.4" y2="127.60000000000001" stroke="#555" stroke-width="0.7"/>
<text x="157.0" y="134.5" class="tk">0.050</text>
<line x1="184.3" x2="184.3" y1="125.4" y2="127.60000000000001" stroke="#555" stroke-width="0.7"/>
<text x="184.3" y="134.5" class="tk">0.075</text>
<line x1="211.6" x2="211.6" y1="125.4" y2="127.60000000000001" stroke="#555" stroke-width="0.7"/>
<text x="211.6" y="134.5" class="tk">0.100</text>
<line x1="238.9" x2="238.9" y1="125.4" y2="127.60000000000001" stroke="#555" stroke-width="0.7"/>
<text x="238.9" y="134.5" class="tk">0.125</text>
<line x1="266.2" x2="266.2" y1="125.4" y2="127.60000000000001" stroke="#555" stroke-width="0.7"/>
<text x="266.2" y="134.5" class="tk">0.150</text>
<text x="176.7" y="144" class="xl">SHAP value (impact on model output)</text>
<text x="48.7" y="29.7" class="rl">U-PS(L,N,S)</text>
<text x="48.7" y="49.4" class="rl">U-IB(L,N,S)</text>
<text x="48.7" y="69.1" class="rl">U-OB(L,N,S)</text>
<text x="48.7" y="88.8" class="rl">U-TS(L,N,S)</text>
<text x="48.7" y="108.5" class="rl">U-PE(L,N,S)</text>
<rect x="304" y="6" width="2" height="119" fill="url(#cb)"/>
<text x="308" y="9.3" class="cl">High</text>
<text x="308" y="128" class="cl">Low</text>
<text transform="translate(327.5,65.8) rotate(-90)" class="fv">Feature value</text>
</g></g>
<g transform="translate(352,327)">
<g transform="translate(0,0.2)">
<text x="0" y="0" class="lt" transform="translate(9.4,16.4) scale(0.94,1)">f</text>
<line x1="63.0" x2="290.3" y1="26.5" y2="26.5" stroke="#d8d8d8" stroke-width="0.6" stroke-dasharray="0.8 1.8"/>
<line x1="63.0" x2="290.3" y1="46.2" y2="46.2" stroke="#d8d8d8" stroke-width="0.6" stroke-dasharray="0.8 1.8"/>
<line x1="63.0" x2="290.3" y1="65.9" y2="65.9" stroke="#d8d8d8" stroke-width="0.6" stroke-dasharray="0.8 1.8"/>
<line x1="63.0" x2="290.3" y1="85.6" y2="85.6" stroke="#d8d8d8" stroke-width="0.6" stroke-dasharray="0.8 1.8"/>
<line x1="63.0" x2="290.3" y1="105.3" y2="105.3" stroke="#d8d8d8" stroke-width="0.6" stroke-dasharray="0.8 1.8"/>
<line x1="117.7" x2="117.7" y1="7.6" y2="125.4" stroke="#a2a2a6" stroke-width="0.9"/>
<g stroke-width="2.6" stroke-linecap="round" fill="none"><path stroke="#1c7ac0" d="M101.7 26.4V26.7M109.4 25.6V27.6M152.1 25.8V27.1M154.1 24.0V29.0M156.0 24.7V28.1M157.9 26.0V27.0M159.9 24.3V28.6M161.8 24.0V29.1M163.7 23.3V28.8M165.7 22.8V29.7M167.6 22.8V30.2M169.5 21.1V31.8M171.5 22.5V30.1M173.4 24.4V28.3M175.4 23.6V29.7M177.3 22.3V29.6M179.2 22.4V30.7M181.2 22.1V30.6M183.1 23.8V29.4M185.0 23.9V29.2M187.0 24.3V29.3M188.9 22.1V30.7M190.9 22.4V30.0M192.8 21.9V31.5M194.7 23.3V29.9M196.7 24.7V28.5M198.6 24.4V28.4M200.5 25.1V28.1M202.5 24.7V28.2M204.4 24.1V29.1M206.4 24.1V29.1M208.3 24.3V28.8M210.2 25.0V28.1M212.2 25.7V27.3M214.1 25.8V27.2M216.0 26.1V26.7M219.9 24.1V28.9M221.8 23.8V29.5M223.8 23.4V29.5M225.7 25.2V27.6M227.7 25.8V27.4M229.6 24.7V28.3M231.5 25.7V27.2M245.1 26.1V26.9M247.0 25.2V27.8M96.8 26.0h0M96.2 27.0h0M95.9 26.5h0M98.5 25.7h0M97.8 27.3h0M97.8 26.5h0M99.6 25.9h0M100.5 27.1h0M99.7 26.5h0M102.6 25.4h0M100.8 27.7h0M103.3 25.9h0M103.7 27.2h0M103.6 26.5h0M108.2 25.4h0M107.2 27.5h0M107.5 26.5h0M109.1 24.6h0M109.4 28.6h0M111.4 26.5h0M144.4 26.5h0M146.3 26.5h0M148.9 26.1h0M148.1 26.9h0M148.2 26.5h0M150.3 25.5h0M150.5 27.6h0M150.2 26.5h0M151.4 24.8h0M151.2 28.1h0M153.7 23.0h0M154.8 30.0h0M155.8 23.7h0M156.3 29.1h0M158.3 25.0h0M157.0 28.0h0M160.7 23.3h0M159.2 29.6h0M162.7 23.0h0M162.3 30.1h0M163.2 22.3h0M163.1 29.8h0M165.8 21.8h0M165.2 30.7h0M168.1 21.8h0M167.6 31.2h0M169.6 20.1h0M169.7 32.8h0M172.4 21.5h0M170.5 31.1h0M172.7 23.4h0M174.3 29.3h0M174.9 22.6h0M176.3 30.7h0M178.2 21.3h0M177.1 30.6h0M179.6 21.4h0M178.6 31.7h0M182.1 21.1h0M180.8 31.6h0M183.0 22.8h0M183.5 30.4h0M185.0 22.9h0M185.1 30.2h0M186.5 23.3h0M186.9 30.3h0M188.3 21.1h0M189.6 31.7h0M190.7 21.4h0M190.8 31.0h0M192.5 20.9h0M192.1 32.5h0M195.3 22.3h0M195.4 30.9h0M196.3 23.7h0M196.2 29.5h0M199.6 23.4h0M199.2 29.4h0M201.2 24.1h0M200.5 29.1h0M202.3 23.7h0M202.2 29.2h0M204.7 23.1h0M204.2 30.1h0M206.9 23.1h0M205.7 30.1h0M207.6 23.3h0M208.5 29.8h0M209.7 24.0h0M209.9 29.1h0M212.0 24.7h0M211.8 28.3h0M214.3 24.8h0M214.8 28.2h0M215.8 25.1h0M215.2 27.7h0M217.0 25.3h0M218.6 27.5h0M218.0 26.5h0M219.5 23.1h0M220.6 29.9h0M222.1 22.8h0M221.8 30.5h0M224.5 22.4h0M224.5 30.5h0M225.2 24.2h0M224.9 28.6h0M227.8 24.8h0M228.2 28.4h0M228.7 23.7h0M229.5 29.3h0M232.4 24.7h0M232.3 28.2h0M233.1 25.4h0M232.8 27.6h0M233.5 26.5h0M237.3 26.5h0M241.0 26.1h0M241.1 26.9h0M241.2 26.5h0M242.5 25.4h0M242.7 27.5h0M243.2 26.5h0M245.1 25.1h0M245.7 27.9h0M247.6 24.2h0M246.8 28.8h0M249.6 25.4h0M249.5 27.7h0M249.0 26.5h0M250.8 25.8h0M251.4 27.3h0M250.9 26.5h0M252.3 26.1h0M253.4 26.9h0M252.8 26.5h0M254.8 26.5h0M86.2 26.5h0M91.4 26.5h0M115.4 26.5h0M139.3 26.5h0M260.0 26.5h0M268.2 26.5h0M274.9 25.8h0M274.9 27.2h0M279.9 26.5h0"/><path stroke="#1c7ac0" d="M108.9 45.9V46.6M110.0 45.2V47.2M111.2 46.1V46.4M115.7 45.9V46.5M116.9 45.1V47.2M118.0 44.7V47.7M119.2 44.5V47.8M120.3 44.4V47.9M121.4 44.5V48.3M122.6 44.4V48.1M123.7 43.5V49.1M124.9 42.8V49.0M126.0 41.3V50.2M127.2 43.9V48.5M128.3 42.0V50.0M129.4 41.5V51.5M130.6 45.1V47.1M131.7 45.2V47.1M132.9 43.6V48.9M134.0 42.3V50.4M135.2 41.2V51.1M136.3 42.6V49.6M137.4 43.3V49.1M138.6 44.4V47.9M139.7 43.3V49.5M140.9 41.8V50.8M142.0 42.5V50.3M143.2 43.7V48.6M144.3 41.0V51.4M145.4 41.5V50.9M146.6 42.6V49.6M147.7 40.4V52.4M148.9 42.0V50.1M150.0 43.4V48.7M151.2 44.1V48.6M152.3 44.5V47.5M153.4 44.7V48.1M154.6 44.5V47.6M155.7 42.9V49.5M156.9 44.1V48.3M158.0 44.5V48.0M159.2 44.7V47.5M160.3 45.0V47.6M161.4 45.4V47.1M162.6 45.0V47.3M163.7 45.7V46.6M164.9 45.9V46.5M108.7 44.9h0M108.5 47.6h0M110.4 44.2h0M110.2 48.2h0M111.1 45.1h0M111.2 47.4h0M113.5 45.7h0M113.0 46.7h0M113.4 46.2h0M114.6 45.1h0M114.2 47.1h0M114.6 46.2h0M115.4 44.9h0M115.9 47.5h0M116.4 44.1h0M116.5 48.2h0M118.6 43.7h0M117.9 48.7h0M119.7 43.5h0M118.8 48.8h0M120.1 43.4h0M120.2 48.9h0M121.6 43.5h0M121.9 49.3h0M122.3 43.4h0M122.8 49.1h0M123.2 42.5h0M123.8 50.1h0M125.3 41.8h0M124.9 50.0h0M126.5 40.3h0M126.3 51.2h0M127.2 42.9h0M127.2 49.5h0M128.4 41.0h0M128.4 51.0h0M129.3 40.5h0M129.0 52.5h0M130.6 44.1h0M130.4 48.1h0M132.1 44.2h0M131.6 48.1h0M133.3 42.6h0M133.3 49.9h0M133.7 41.3h0M134.0 51.4h0M135.6 40.2h0M135.0 52.1h0M136.3 41.6h0M136.1 50.6h0M137.1 42.3h0M137.6 50.1h0M138.5 43.4h0M138.2 48.9h0M140.1 42.3h0M139.7 50.5h0M141.1 40.8h0M140.5 51.8h0M141.6 41.5h0M141.9 51.3h0M143.1 42.7h0M142.9 49.6h0M144.6 40.0h0M144.7 52.4h0M145.3 40.5h0M145.9 51.9h0M146.6 41.6h0M146.2 50.6h0M147.5 39.4h0M148.0 53.4h0M149.1 41.0h0M148.8 51.1h0M150.4 42.4h0M150.4 49.7h0M151.3 43.1h0M151.1 49.6h0M152.6 43.5h0M151.9 48.5h0M153.6 43.7h0M153.0 49.1h0M154.7 43.5h0M154.4 48.6h0M156.0 41.9h0M155.8 50.5h0M156.5 43.1h0M156.5 49.3h0M158.4 43.5h0M158.0 49.0h0M159.6 43.7h0M158.7 48.5h0M160.8 44.0h0M160.8 48.6h0M161.4 44.4h0M160.9 48.1h0M163.0 44.0h0M163.0 48.3h0M163.9 44.7h0M163.6 47.6h0M164.5 44.9h0M165.1 47.5h0M166.2 45.4h0M165.6 46.9h0M166.0 46.2h0M166.9 45.4h0M166.7 46.9h0M167.2 46.2h0M168.0 45.4h0M168.0 47.0h0M168.3 46.2h0M168.9 45.8h0M169.3 46.6h0M169.5 46.2h0M171.3 46.2h0M73.3 46.2h0M81.8 46.2h0M93.1 46.2h0M96.0 46.2h0M100.1 46.2h0M101.7 46.2h0M103.3 46.2h0M104.8 46.2h0M176.5 46.2h0M178.3 46.2h0M184.1 46.2h0M185.5 45.7h0M186.5 46.7h0M187.6 46.2h0"/><path stroke="#1c7ac0" d="M127.7 65.5V66.3M128.3 65.5V66.3M128.8 65.1V66.6M129.4 64.8V66.9M129.9 64.4V67.5M130.5 64.2V67.6M131.0 63.5V68.3M131.5 63.3V68.2M132.1 62.8V69.5M132.6 62.3V69.0M133.2 62.8V69.0M133.7 62.7V69.2M134.3 63.5V68.3M134.8 63.5V68.2M135.4 63.6V68.1M135.9 62.7V69.4M136.5 61.5V69.7M137.0 61.3V71.3M137.6 62.2V69.7M138.1 62.6V69.3M138.7 62.3V69.4M139.2 62.2V69.2M139.8 62.9V69.0M140.3 63.2V68.1M140.9 63.6V68.4M141.4 63.4V68.4M142.0 63.7V68.1M142.5 63.9V67.9M143.1 64.4V67.3M143.6 64.5V67.3M144.2 64.7V67.3M144.7 64.7V66.8M145.3 64.9V66.8M145.8 65.2V66.7M146.4 65.4V66.3M146.9 65.6V66.3M117.3 65.9h0M119.5 65.9h0M121.7 65.9h0M123.2 65.5h0M123.6 66.3h0M123.3 65.9h0M124.0 65.4h0M123.8 66.4h0M123.9 65.9h0M124.5 65.2h0M124.2 66.7h0M124.4 65.9h0M125.1 65.1h0M125.0 66.8h0M125.0 65.9h0M125.6 64.9h0M125.6 66.9h0M125.5 65.9h0M126.1 65.3h0M126.0 66.6h0M126.1 65.9h0M126.6 65.2h0M126.6 66.6h0M126.6 65.9h0M127.1 65.0h0M127.0 66.9h0M127.2 65.9h0M127.7 64.5h0M127.9 67.3h0M128.3 64.5h0M128.0 67.3h0M129.0 64.1h0M128.6 67.6h0M129.4 63.8h0M129.3 67.9h0M130.1 63.4h0M129.7 68.5h0M130.6 63.2h0M130.5 68.6h0M131.2 62.5h0M130.9 69.3h0M131.6 62.3h0M131.7 69.2h0M132.2 61.8h0M131.9 70.5h0M132.4 61.3h0M132.4 70.0h0M132.9 61.8h0M133.4 70.0h0M133.7 61.7h0M133.9 70.2h0M134.1 62.5h0M134.5 69.3h0M134.6 62.5h0M134.7 69.2h0M135.2 62.6h0M135.5 69.1h0M136.0 61.7h0M136.2 70.4h0M136.5 60.5h0M136.7 70.7h0M137.0 60.3h0M137.2 72.3h0M137.6 61.2h0M137.6 70.7h0M138.0 61.6h0M138.3 70.3h0M139.0 61.3h0M138.7 70.4h0M139.0 61.2h0M139.5 70.2h0M139.9 61.9h0M139.8 70.0h0M140.2 62.2h0M140.2 69.1h0M140.9 62.6h0M140.8 69.4h0M141.4 62.4h0M141.4 69.4h0M141.9 62.7h0M142.2 69.1h0M142.8 62.9h0M142.6 68.9h0M143.3 63.4h0M143.3 68.3h0M143.6 63.5h0M143.7 68.3h0M144.1 63.7h0M144.1 68.3h0M144.6 63.7h0M144.9 67.8h0M145.4 63.9h0M145.2 67.8h0M145.6 64.2h0M146.0 67.7h0M146.4 64.4h0M146.3 67.3h0M146.7 64.6h0M146.7 67.3h0M147.5 64.8h0M147.7 67.0h0M147.5 65.9h0M148.2 64.8h0M148.2 66.9h0M148.0 65.9h0M148.6 65.0h0M148.4 66.7h0M148.6 65.9h0M149.1 65.0h0M149.2 66.8h0M149.1 65.9h0M149.8 65.2h0M149.9 66.6h0M149.7 65.9h0M150.0 65.4h0M150.3 66.4h0M150.2 65.9h0M150.7 65.6h0M150.8 65.9h0M154.1 65.9h0M156.8 65.9h0M157.9 65.9h0M103.0 65.9h0M105.0 65.9h0M111.4 65.9h0"/><path stroke="#1c7ac0" d="M108.1 85.3V86.1M109.0 84.6V86.6M110.0 84.2V87.0M111.0 84.3V86.7M112.0 84.0V87.3M112.9 82.7V88.9M113.9 82.7V88.6M114.9 82.3V89.1M115.8 82.8V88.5M116.8 82.4V88.7M117.8 81.8V89.4M118.7 81.0V90.3M119.7 80.9V90.3M120.7 82.3V88.7M121.7 84.1V87.1M122.6 82.3V89.3M123.6 83.1V88.2M124.6 83.9V87.2M125.5 84.1V86.9M126.5 84.6V86.6M127.5 84.9V86.2M128.5 84.0V87.6M129.4 84.1V86.9M130.4 84.7V86.4M131.4 84.7V86.8M132.3 85.1V86.2M97.4 85.6h0M100.3 85.6h0M102.1 85.2h0M102.2 86.1h0M102.2 85.6h0M102.9 85.0h0M103.4 86.2h0M103.2 85.6h0M104.6 84.9h0M103.9 86.2h0M104.2 85.6h0M104.8 84.8h0M105.1 86.3h0M105.2 85.6h0M106.5 84.6h0M106.5 86.6h0M106.1 85.6h0M106.9 84.7h0M106.7 86.5h0M107.1 85.6h0M107.9 84.3h0M107.8 87.1h0M109.1 83.6h0M108.9 87.6h0M109.8 83.2h0M109.8 88.0h0M111.0 83.3h0M111.1 87.7h0M112.3 83.0h0M112.1 88.3h0M112.7 81.7h0M112.6 89.9h0M113.5 81.7h0M114.2 89.6h0M115.3 81.3h0M114.5 90.1h0M115.6 81.8h0M115.9 89.5h0M117.0 81.4h0M116.7 89.7h0M118.1 80.8h0M117.6 90.4h0M118.3 80.0h0M118.7 91.3h0M120.0 79.9h0M120.1 91.3h0M120.2 81.3h0M120.9 89.7h0M121.8 83.1h0M121.6 88.1h0M122.9 81.3h0M122.5 90.3h0M123.6 82.1h0M123.2 89.2h0M125.0 82.9h0M124.9 88.2h0M125.1 83.1h0M125.7 87.9h0M126.7 83.6h0M126.9 87.6h0M127.3 83.9h0M127.0 87.2h0M128.3 83.0h0M128.9 88.6h0M129.7 83.1h0M129.4 87.9h0M130.1 83.7h0M130.4 87.4h0M131.6 83.7h0M131.5 87.8h0M132.6 84.1h0M132.7 87.2h0M132.9 84.9h0M133.1 86.3h0M133.3 85.6h0M134.5 85.1h0M134.0 86.1h0M134.3 85.6h0M134.9 85.1h0M134.9 86.1h0M135.3 85.6h0M136.0 85.2h0M136.0 86.0h0M136.2 85.6h0M139.1 85.6h0M142.1 85.6h0M143.7 85.6h0M80.9 85.6h0M89.6 85.6h0M150.9 85.6h0M161.8 85.6h0M178.0 85.6h0"/><path stroke="#1c7ac0" d="M74.3 105.3h0M112.7 101.3h0M125.1 103.6h0M114.4 108.1h0M121.1 104.3h0M113.8 107.2h0M118.0 102.0h0M122.9 107.4h0M119.2 108.6h0M121.7 102.4h0M120.0 109.0h0M110.9 104.2h0M117.6 100.2h0"/><path stroke="#ec235c" d="M125.3 103.4h0M114.8 101.5h0M126.6 105.3h0M115.6 104.2h0M122.3 105.3h0M119.1 107.5h0M109.0 106.4h0M122.5 103.5h0M90.0 105.3h0M127.4 104.4h0M124.3 104.4h0M127.7 105.3h0M117.6 108.5h0M112.6 108.3h0M117.3 110.1h0M112.9 105.3h0M120.1 105.3h0M92.5 105.3h0M110.1 105.3h0M113.3 110.5h0"/><path stroke="#ec235c" d="M128.5 105.9h0M114.9 107.2h0M119.6 100.1h0M114.6 103.4h0M111.3 103.0h0M112.9 107.4h0M123.3 106.4h0M120.4 107.2h0M127.2 106.3h0M114.6 110.2h0M125.0 107.0h0M116.1 107.5h0M114.3 102.5h0"/><path stroke="#1c7ac0" d="M116.9 101.0h0M127.3 105.3h0M119.1 100.3h0M108.8 107.2h0M123.5 103.0h0M118.5 104.3h0M123.8 107.6h0M107.4 107.2h0M123.0 102.1h0M113.5 104.3h0M118.1 104.2h0M122.0 103.0h0M110.0 102.6h0M115.0 104.4h0M116.8 102.0h0M108.5 102.5h0M117.2 111.1h0M119.1 109.7h0M118.0 108.6h0M119.0 105.3h0"/><path stroke="#ec235c" d="M113.9 106.3h0M118.5 102.2h0M114.0 101.5h0M112.5 104.3h0M119.4 102.3h0M119.1 104.3h0M116.5 110.2h0M118.6 108.5h0M114.6 100.6h0M115.3 106.3h0M128.0 105.9h0M119.4 101.3h0M117.7 103.2h0M113.1 106.3h0M116.8 103.1h0M117.3 102.2h0M125.4 104.4h0M124.2 102.6h0"/><path stroke="#1c7ac0" d="M111.1 105.3h0M121.2 105.3h0M117.5 107.4h0M109.6 107.5h0M115.9 104.3h0M113.9 101.4h0M120.3 108.1h0M108.2 106.2h0M109.2 105.3h0M116.9 105.3h0M112.9 101.4h0M122.4 105.3h0M130.3 105.3h0M111.6 105.3h0M111.2 107.5h0"/><path stroke="#1c7ac0" d="M109.5 105.3h0M121.0 108.8h0M127.2 104.3h0M113.9 103.4h0M126.2 104.5h0M106.7 106.5h0M111.0 107.6h0M115.5 100.8h0M114.1 110.0h0M100.2 105.3h0M108.3 107.0h0M118.1 106.4h0M120.9 102.3h0M110.9 108.7h0M112.1 104.3h0M105.9 105.3h0M120.0 104.3h0M117.3 104.3h0M112.9 108.4h0"/><path stroke="#ec235c" d="M121.5 109.1h0M110.6 103.0h0M120.0 103.2h0M115.6 101.9h0M111.1 101.9h0M114.4 106.2h0M112.1 107.4h0M113.8 105.3h0M122.8 106.4h0M107.9 105.3h0M110.2 106.3h0M115.3 109.4h0M113.7 108.2h0M114.3 107.2h0"/><path stroke="#ec235c" d="M96.0 105.3h0M120.4 102.5h0M117.1 108.2h0M121.2 106.2h0M122.1 104.1h0M114.7 106.3h0M109.8 106.4h0M119.9 108.1h0M123.8 108.7h0M120.4 109.9h0M85.9 105.3h0M114.2 105.3h0M122.6 107.4h0M122.2 101.8h0M124.4 105.3h0M106.3 106.4h0M108.8 108.1h0M112.2 109.5h0"/><path stroke="#1c7ac0" d="M120.3 104.4h0M112.2 103.3h0M107.0 105.3h0M107.8 104.5h0M121.7 101.4h0M108.1 102.8h0M107.5 103.3h0M107.6 104.3h0M108.4 106.2h0M107.7 105.3h0M110.5 108.2h0M128.2 105.3h0M113.0 104.3h0M109.2 107.5h0M106.2 105.3h0"/><path stroke="#ec235c" d="M122.2 106.3h0M112.2 108.5h0M118.9 106.4h0M124.8 104.4h0M121.6 104.3h0M118.2 100.9h0M126.3 103.7h0M118.8 103.2h0M120.4 106.2h0M118.0 107.5h0M116.2 108.2h0M125.7 107.1h0M114.5 102.5h0M115.8 100.3h0M118.9 109.6h0M122.5 108.5h0M125.3 105.3h0M123.6 101.9h0"/><path stroke="#1c7ac0" d="M118.8 107.4h0M125.1 107.9h0M119.6 101.2h0M117.8 105.3h0M119.9 109.9h0M109.5 104.2h0M112.6 103.3h0M107.9 103.6h0M117.4 106.4h0M123.3 108.5h0M126.3 106.5h0M120.6 105.3h0M115.2 105.3h0M120.2 103.4h0"/><path stroke="#ec235c" d="M124.4 103.5h0M116.7 104.3h0M122.2 108.2h0M112.6 107.3h0M110.1 107.3h0M111.6 101.9h0M117.6 109.5h0M113.0 109.4h0M115.0 109.2h0M116.5 105.3h0M107.8 107.9h0M120.0 106.2h0M124.4 107.1h0M112.6 106.3h0M120.0 102.2h0M115.5 107.4h0M117.0 107.2h0M109.3 104.2h0M113.6 109.1h0"/><path stroke="#1c7ac0" d="M115.7 102.3h0M128.6 105.3h0M115.5 108.4h0M105.7 104.6h0M122.8 102.5h0M106.7 104.0h0M112.6 109.3h0M120.9 107.9h0M115.7 109.7h0M109.6 103.1h0M113.0 102.4h0M114.1 100.6h0M109.3 103.2h0"/><path stroke="#ec235c" d="M125.3 106.2h0M116.0 101.3h0M119.1 105.3h0M118.8 101.1h0M117.7 101.2h0M111.6 104.2h0M113.2 103.4h0M115.8 103.3h0M121.6 103.4h0M116.2 103.3h0M123.9 105.3h0M116.9 109.2h0M121.8 106.2h0M111.8 101.2h0M114.2 104.4h0M120.6 109.0h0M118.1 109.7h0"/><path stroke="#1c7ac0" d="M104.9 105.3h0M113.3 100.5h0M123.0 105.3h0M112.6 105.3h0M128.7 104.8h0M125.0 102.7h0M122.6 101.6h0M126.5 103.9h0M110.1 103.5h0M113.9 109.0h0M112.3 102.3h0M120.7 103.3h0M112.1 106.4h0M113.5 102.4h0M117.1 106.3h0"/><path stroke="#ec235c" d="M122.6 104.4h0M122.3 109.1h0M124.1 106.2h0M124.8 105.3h0M121.1 107.1h0M116.7 102.3h0M121.7 108.1h0M94.2 105.3h0M117.7 110.6h0M110.6 106.4h0M113.8 110.1h0M119.5 106.4h0M115.8 106.4h0M116.6 101.3h0M123.5 106.4h0M112.2 105.3h0M115.0 105.3h0"/><path stroke="#1c7ac0" d="M108.7 104.4h0M128.1 104.6h0M124.7 106.2h0M121.5 105.3h0M116.2 100.2h0M123.4 104.2h0M108.5 105.3h0M116.3 109.2h0M117.2 99.9h0M129.5 105.3h0M106.4 104.3h0M116.7 106.3h0M107.7 106.2h0M122.9 103.2h0M127.6 106.2h0"/><path stroke="#ec235c" d="M115.9 105.3h0M111.4 108.6h0M111.6 106.4h0M105.2 105.3h0M126.0 105.3h0M97.6 105.3h0M119.6 107.1h0M122.2 107.2h0M108.4 103.4h0M126.2 107.1h0M120.2 100.6h0M121.1 101.3h0M114.1 103.4h0M118.4 103.1h0M124.5 108.0h0M115.2 103.1h0M114.5 108.2h0M116.9 104.2h0"/><path stroke="#1c7ac0" d="M105.7 106.0h0M117.9 105.3h0M125.8 106.2h0M123.8 104.2h0M115.7 108.6h0M119.3 103.3h0M112.0 102.3h0M120.3 101.5h0M121.6 107.2h0M116.6 107.2h0M117.0 112.1h0M113.7 100.5h0M110.6 104.4h0M103.6 105.3h0"/></g>
<line x1="63.0" x2="290.3" y1="125.4" y2="125.4" stroke="#555" stroke-width="0.9"/>
<line x1="74.8" x2="74.8" y1="125.4" y2="127.60000000000001" stroke="#555" stroke-width="0.7"/>
<text x="74.8" y="134.5" class="tk">−0.05</text>
<line x1="117.7" x2="117.7" y1="125.4" y2="127.60000000000001" stroke="#555" stroke-width="0.7"/>
<text x="117.7" y="134.5" class="tk">0.00</text>
<line x1="160.7" x2="160.7" y1="125.4" y2="127.60000000000001" stroke="#555" stroke-width="0.7"/>
<text x="160.7" y="134.5" class="tk">0.05</text>
<line x1="203.6" x2="203.6" y1="125.4" y2="127.60000000000001" stroke="#555" stroke-width="0.7"/>
<text x="203.6" y="134.5" class="tk">0.10</text>
<line x1="246.6" x2="246.6" y1="125.4" y2="127.60000000000001" stroke="#555" stroke-width="0.7"/>
<text x="246.6" y="134.5" class="tk">0.15</text>
<line x1="289.5" x2="289.5" y1="125.4" y2="127.60000000000001" stroke="#555" stroke-width="0.7"/>
<text x="289.5" y="134.5" class="tk">0.20</text>
<text x="176.7" y="144" class="xl">SHAP value (impact on model output)</text>
<text x="48.7" y="29.7" class="rl">U-OB(L,N,S)</text>
<text x="48.7" y="49.4" class="rl">U-PS(L,N,S)</text>
<text x="48.7" y="69.1" class="rl">U-TS(L,N,S)</text>
<text x="48.7" y="88.8" class="rl">U-PE(L,N,S)</text>
<text x="48.7" y="108.5" class="rl">U-IB(L,N,S)</text>
<rect x="304" y="6" width="2" height="119" fill="url(#cb)"/>
<text x="308" y="9.3" class="cl">High</text>
<text x="308" y="128" class="cl">Low</text>
<text transform="translate(327.5,65.8) rotate(-90)" class="fv">Feature value</text>
</g></g>
<rect x="0" y="0" width="333" height="1" fill="#535353"/>
<rect x="0" y="149" width="333" height="1" fill="#434343"/>
<rect x="0" y="0" width="1" height="150" fill="#858585"/>
<rect x="332" y="0" width="1" height="150" fill="#a7a7a7"/>
<rect x="333" y="0" width="1" height="150" fill="#bbbbbb"/>
<rect x="352" y="0" width="333" height="1" fill="#535353"/>
<rect x="352" y="149" width="333" height="1" fill="#434343"/>
<rect x="352" y="0" width="1" height="150" fill="#7c7c7c"/>
<rect x="684" y="0" width="1" height="150" fill="#7f7f7f"/>
<rect x="0" y="168" width="333" height="1" fill="#808080"/>
<rect x="0" y="169" width="333" height="1" fill="#dddddd"/>
<rect x="0" y="317" width="333" height="1" fill="#a8a8a8"/>
<rect x="0" y="318" width="333" height="1" fill="#b2b2b2"/>
<rect x="0" y="168" width="1" height="151" fill="#858585"/>
<rect x="332" y="168" width="1" height="151" fill="#a7a7a7"/>
<rect x="333" y="168" width="1" height="151" fill="#bbbbbb"/>
<rect x="352" y="168" width="333" height="1" fill="#808080"/>
<rect x="352" y="169" width="333" height="1" fill="#dddddd"/>
<rect x="352" y="317" width="333" height="1" fill="#a8a8a8"/>
<rect x="352" y="318" width="333" height="1" fill="#b2b2b2"/>
<rect x="352" y="168" width="1" height="151" fill="#7c7c7c"/>
<rect x="684" y="168" width="1" height="151" fill="#7f7f7f"/>
<rect x="0" y="327" width="333" height="1" fill="#3d3d3d"/>
<rect x="0" y="476" width="333" height="1" fill="#8a8a8a"/>
<rect x="0" y="327" width="1" height="150" fill="#858585"/>
<rect x="332" y="327" width="1" height="150" fill="#a7a7a7"/>
<rect x="333" y="327" width="1" height="150" fill="#bbbbbb"/>
<rect x="352" y="327" width="333" height="1" fill="#3d3d3d"/>
<rect x="352" y="476" width="333" height="1" fill="#8a8a8a"/>
<rect x="352" y="327" width="1" height="150" fill="#7c7c7c"/>
<rect x="684" y="327" width="1" height="150" fill="#7f7f7f"/>
</g></svg></body></html>
